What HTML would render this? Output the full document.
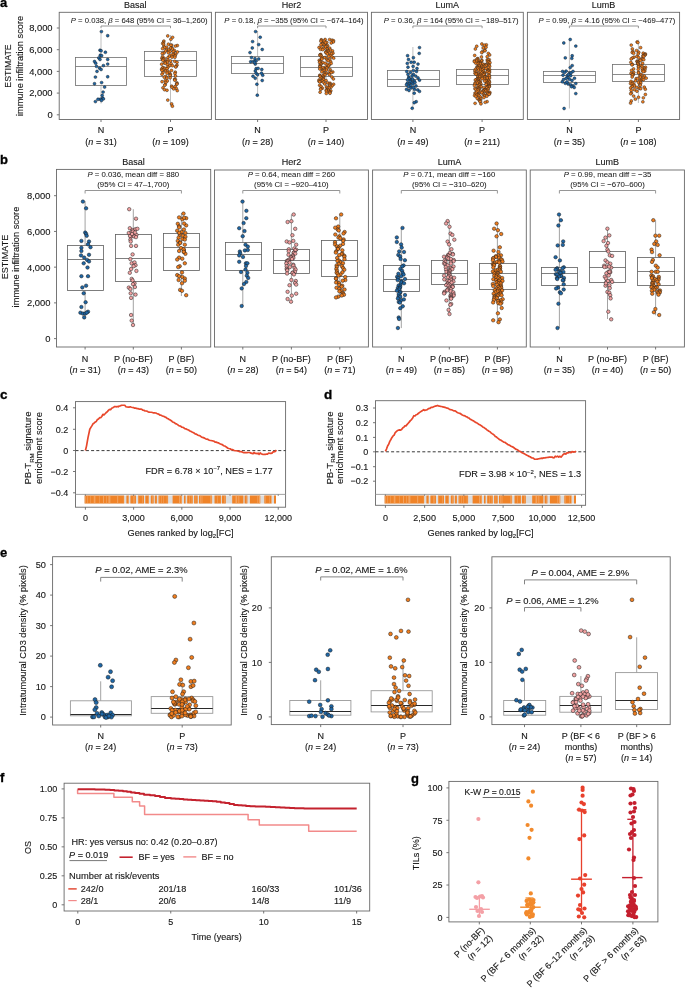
<!DOCTYPE html>
<html><head><meta charset="utf-8"><style>
html,body{margin:0;padding:0;background:#fff;width:685px;height:989px;overflow:hidden}
svg{display:block;will-change:transform}
text{font-family:"Liberation Sans", sans-serif}
</style></head><body>
<svg width="685" height="989" viewBox="0 0 685 989">
<rect width="685" height="989" fill="#fff"/>
<text x="0.00" y="7.48" font-size="13.00" text-anchor="start" fill="#000" stroke="#000" stroke-width="0.30" font-weight="bold" >a</text>
<text x="0.00" y="163.68" font-size="13.00" text-anchor="start" fill="#000" stroke="#000" stroke-width="0.30" font-weight="bold" >b</text>
<text x="0.00" y="398.96" font-size="13.50" text-anchor="start" fill="#000" stroke="#000" stroke-width="0.30" font-weight="bold" >c</text>
<text x="324.00" y="398.56" font-size="13.50" text-anchor="start" fill="#000" stroke="#000" stroke-width="0.30" font-weight="bold" >d</text>
<text x="0.00" y="557.08" font-size="13.00" text-anchor="start" fill="#000" stroke="#000" stroke-width="0.30" font-weight="bold" >e</text>
<text x="0.00" y="782.28" font-size="13.00" text-anchor="start" fill="#000" stroke="#000" stroke-width="0.30" font-weight="bold" >f</text>
<text x="411.00" y="783.08" font-size="13.00" text-anchor="start" fill="#000" stroke="#000" stroke-width="0.30" font-weight="bold" >g</text>
<rect x="59.20" y="12.30" width="152.20" height="107.20" stroke="#686868" stroke-width="0.90" fill="none"/>
<text x="135.30" y="7.84" font-size="9.00" text-anchor="middle" fill="#161616" stroke="#161616" stroke-width="0.12" >Basal</text>
<text x="139.20" y="22.57" font-size="7.70" text-anchor="middle" fill="#161616" stroke="#161616" stroke-width="0.04" ><tspan font-style="italic">P</tspan> = 0.038, <tspan font-style="italic">β</tspan> = 648 (95% CI = 36–1,260)</text>
<polyline fill="none" stroke="#8a8a8a" stroke-width="0.90" stroke-linejoin="round" points="101.00,28.20 101.00,26.00 170.50,26.00 170.50,28.20" />
<line x1="101.00" y1="31.50" x2="101.00" y2="57.50" stroke="#b8b8b8" stroke-width="0.90" />
<line x1="101.00" y1="85.50" x2="101.00" y2="103.50" stroke="#b8b8b8" stroke-width="0.90" />
<rect x="75.50" y="57.50" width="51.00" height="28.00" stroke="#6e6e6e" stroke-width="0.80" fill="none"/>
<line x1="75.50" y1="66.50" x2="126.50" y2="66.50" stroke="#6e6e6e" stroke-width="0.80" />
<line x1="170.50" y1="35.00" x2="170.50" y2="51.50" stroke="#b8b8b8" stroke-width="0.90" />
<line x1="170.50" y1="76.50" x2="170.50" y2="106.00" stroke="#b8b8b8" stroke-width="0.90" />
<rect x="144.50" y="51.50" width="52.00" height="25.00" stroke="#6e6e6e" stroke-width="0.80" fill="none"/>
<line x1="144.50" y1="60.50" x2="196.50" y2="60.50" stroke="#6e6e6e" stroke-width="0.80" />
<circle cx="101.40" cy="31.60" r="1.45" fill="#1f67a6" stroke="#1a1a1a" stroke-width="0.45"/>
<circle cx="107.70" cy="35.70" r="1.45" fill="#1f67a6" stroke="#1a1a1a" stroke-width="0.45"/>
<circle cx="100.00" cy="50.30" r="1.45" fill="#1f67a6" stroke="#1a1a1a" stroke-width="0.45"/>
<circle cx="101.10" cy="50.80" r="1.45" fill="#1f67a6" stroke="#1a1a1a" stroke-width="0.45"/>
<circle cx="105.40" cy="52.30" r="1.45" fill="#1f67a6" stroke="#1a1a1a" stroke-width="0.45"/>
<circle cx="100.30" cy="55.30" r="1.45" fill="#1f67a6" stroke="#1a1a1a" stroke-width="0.45"/>
<circle cx="101.60" cy="55.70" r="1.45" fill="#1f67a6" stroke="#1a1a1a" stroke-width="0.45"/>
<circle cx="98.80" cy="58.00" r="1.45" fill="#1f67a6" stroke="#1a1a1a" stroke-width="0.45"/>
<circle cx="100.00" cy="59.50" r="1.45" fill="#1f67a6" stroke="#1a1a1a" stroke-width="0.45"/>
<circle cx="107.70" cy="59.50" r="1.45" fill="#1f67a6" stroke="#1a1a1a" stroke-width="0.45"/>
<circle cx="94.50" cy="61.50" r="1.45" fill="#1f67a6" stroke="#1a1a1a" stroke-width="0.45"/>
<circle cx="95.70" cy="63.30" r="1.45" fill="#1f67a6" stroke="#1a1a1a" stroke-width="0.45"/>
<circle cx="107.70" cy="64.10" r="1.45" fill="#1f67a6" stroke="#1a1a1a" stroke-width="0.45"/>
<circle cx="103.40" cy="65.60" r="1.45" fill="#1f67a6" stroke="#1a1a1a" stroke-width="0.45"/>
<circle cx="96.50" cy="66.40" r="1.45" fill="#1f67a6" stroke="#1a1a1a" stroke-width="0.45"/>
<circle cx="99.60" cy="68.20" r="1.45" fill="#1f67a6" stroke="#1a1a1a" stroke-width="0.45"/>
<circle cx="101.10" cy="69.50" r="1.45" fill="#1f67a6" stroke="#1a1a1a" stroke-width="0.45"/>
<circle cx="97.00" cy="71.40" r="1.45" fill="#1f67a6" stroke="#1a1a1a" stroke-width="0.45"/>
<circle cx="95.40" cy="77.10" r="1.45" fill="#1f67a6" stroke="#1a1a1a" stroke-width="0.45"/>
<circle cx="107.70" cy="76.80" r="1.45" fill="#1f67a6" stroke="#1a1a1a" stroke-width="0.45"/>
<circle cx="94.50" cy="83.70" r="1.45" fill="#1f67a6" stroke="#1a1a1a" stroke-width="0.45"/>
<circle cx="101.60" cy="82.60" r="1.45" fill="#1f67a6" stroke="#1a1a1a" stroke-width="0.45"/>
<circle cx="104.60" cy="87.10" r="1.45" fill="#1f67a6" stroke="#1a1a1a" stroke-width="0.45"/>
<circle cx="103.10" cy="92.10" r="1.45" fill="#1f67a6" stroke="#1a1a1a" stroke-width="0.45"/>
<circle cx="102.20" cy="95.50" r="1.45" fill="#1f67a6" stroke="#1a1a1a" stroke-width="0.45"/>
<circle cx="102.60" cy="98.30" r="1.45" fill="#1f67a6" stroke="#1a1a1a" stroke-width="0.45"/>
<circle cx="100.30" cy="99.30" r="1.45" fill="#1f67a6" stroke="#1a1a1a" stroke-width="0.45"/>
<circle cx="98.00" cy="99.30" r="1.45" fill="#1f67a6" stroke="#1a1a1a" stroke-width="0.45"/>
<circle cx="103.40" cy="98.90" r="1.45" fill="#1f67a6" stroke="#1a1a1a" stroke-width="0.45"/>
<circle cx="95.40" cy="101.60" r="1.45" fill="#1f67a6" stroke="#1a1a1a" stroke-width="0.45"/>
<circle cx="101.50" cy="100.50" r="1.45" fill="#1f67a6" stroke="#1a1a1a" stroke-width="0.45"/>
<circle cx="167.80" cy="100.10" r="1.45" fill="#ef7d1e" stroke="#1a1a1a" stroke-width="0.45"/>
<circle cx="171.60" cy="103.90" r="1.45" fill="#ef7d1e" stroke="#1a1a1a" stroke-width="0.45"/>
<circle cx="172.40" cy="106.20" r="1.45" fill="#ef7d1e" stroke="#1a1a1a" stroke-width="0.45"/>
<circle cx="167.76" cy="35.93" r="1.45" fill="#ef7d1e" stroke="#1a1a1a" stroke-width="0.45"/>
<circle cx="172.57" cy="37.35" r="1.45" fill="#ef7d1e" stroke="#1a1a1a" stroke-width="0.45"/>
<circle cx="170.88" cy="39.34" r="1.45" fill="#ef7d1e" stroke="#1a1a1a" stroke-width="0.45"/>
<circle cx="163.85" cy="41.10" r="1.45" fill="#ef7d1e" stroke="#1a1a1a" stroke-width="0.45"/>
<circle cx="163.55" cy="42.53" r="1.45" fill="#ef7d1e" stroke="#1a1a1a" stroke-width="0.45"/>
<circle cx="162.72" cy="43.44" r="1.45" fill="#ef7d1e" stroke="#1a1a1a" stroke-width="0.45"/>
<circle cx="168.43" cy="44.18" r="1.45" fill="#ef7d1e" stroke="#1a1a1a" stroke-width="0.45"/>
<circle cx="163.59" cy="44.35" r="1.45" fill="#ef7d1e" stroke="#1a1a1a" stroke-width="0.45"/>
<circle cx="171.70" cy="45.09" r="1.45" fill="#ef7d1e" stroke="#1a1a1a" stroke-width="0.45"/>
<circle cx="170.89" cy="45.29" r="1.45" fill="#ef7d1e" stroke="#1a1a1a" stroke-width="0.45"/>
<circle cx="177.32" cy="45.57" r="1.45" fill="#ef7d1e" stroke="#1a1a1a" stroke-width="0.45"/>
<circle cx="175.42" cy="46.10" r="1.45" fill="#ef7d1e" stroke="#1a1a1a" stroke-width="0.45"/>
<circle cx="163.92" cy="46.46" r="1.45" fill="#ef7d1e" stroke="#1a1a1a" stroke-width="0.45"/>
<circle cx="166.57" cy="47.19" r="1.45" fill="#ef7d1e" stroke="#1a1a1a" stroke-width="0.45"/>
<circle cx="164.51" cy="47.51" r="1.45" fill="#ef7d1e" stroke="#1a1a1a" stroke-width="0.45"/>
<circle cx="171.89" cy="47.85" r="1.45" fill="#ef7d1e" stroke="#1a1a1a" stroke-width="0.45"/>
<circle cx="170.42" cy="48.15" r="1.45" fill="#ef7d1e" stroke="#1a1a1a" stroke-width="0.45"/>
<circle cx="162.56" cy="48.64" r="1.45" fill="#ef7d1e" stroke="#1a1a1a" stroke-width="0.45"/>
<circle cx="172.55" cy="49.16" r="1.45" fill="#ef7d1e" stroke="#1a1a1a" stroke-width="0.45"/>
<circle cx="166.66" cy="49.66" r="1.45" fill="#ef7d1e" stroke="#1a1a1a" stroke-width="0.45"/>
<circle cx="168.90" cy="49.97" r="1.45" fill="#ef7d1e" stroke="#1a1a1a" stroke-width="0.45"/>
<circle cx="174.39" cy="50.57" r="1.45" fill="#ef7d1e" stroke="#1a1a1a" stroke-width="0.45"/>
<circle cx="165.53" cy="50.95" r="1.45" fill="#ef7d1e" stroke="#1a1a1a" stroke-width="0.45"/>
<circle cx="170.06" cy="51.50" r="1.45" fill="#ef7d1e" stroke="#1a1a1a" stroke-width="0.45"/>
<circle cx="173.34" cy="51.68" r="1.45" fill="#ef7d1e" stroke="#1a1a1a" stroke-width="0.45"/>
<circle cx="177.38" cy="52.04" r="1.45" fill="#ef7d1e" stroke="#1a1a1a" stroke-width="0.45"/>
<circle cx="168.33" cy="52.74" r="1.45" fill="#ef7d1e" stroke="#1a1a1a" stroke-width="0.45"/>
<circle cx="164.05" cy="53.06" r="1.45" fill="#ef7d1e" stroke="#1a1a1a" stroke-width="0.45"/>
<circle cx="162.23" cy="53.56" r="1.45" fill="#ef7d1e" stroke="#1a1a1a" stroke-width="0.45"/>
<circle cx="173.91" cy="53.95" r="1.45" fill="#ef7d1e" stroke="#1a1a1a" stroke-width="0.45"/>
<circle cx="175.70" cy="54.27" r="1.45" fill="#ef7d1e" stroke="#1a1a1a" stroke-width="0.45"/>
<circle cx="172.79" cy="54.82" r="1.45" fill="#ef7d1e" stroke="#1a1a1a" stroke-width="0.45"/>
<circle cx="170.94" cy="55.19" r="1.45" fill="#ef7d1e" stroke="#1a1a1a" stroke-width="0.45"/>
<circle cx="175.12" cy="55.83" r="1.45" fill="#ef7d1e" stroke="#1a1a1a" stroke-width="0.45"/>
<circle cx="169.23" cy="56.14" r="1.45" fill="#ef7d1e" stroke="#1a1a1a" stroke-width="0.45"/>
<circle cx="162.58" cy="56.58" r="1.45" fill="#ef7d1e" stroke="#1a1a1a" stroke-width="0.45"/>
<circle cx="172.02" cy="57.14" r="1.45" fill="#ef7d1e" stroke="#1a1a1a" stroke-width="0.45"/>
<circle cx="174.83" cy="57.26" r="1.45" fill="#ef7d1e" stroke="#1a1a1a" stroke-width="0.45"/>
<circle cx="167.81" cy="57.86" r="1.45" fill="#ef7d1e" stroke="#1a1a1a" stroke-width="0.45"/>
<circle cx="161.96" cy="58.20" r="1.45" fill="#ef7d1e" stroke="#1a1a1a" stroke-width="0.45"/>
<circle cx="164.31" cy="58.48" r="1.45" fill="#ef7d1e" stroke="#1a1a1a" stroke-width="0.45"/>
<circle cx="162.55" cy="59.19" r="1.45" fill="#ef7d1e" stroke="#1a1a1a" stroke-width="0.45"/>
<circle cx="163.68" cy="59.39" r="1.45" fill="#ef7d1e" stroke="#1a1a1a" stroke-width="0.45"/>
<circle cx="167.89" cy="60.09" r="1.45" fill="#ef7d1e" stroke="#1a1a1a" stroke-width="0.45"/>
<circle cx="162.90" cy="60.34" r="1.45" fill="#ef7d1e" stroke="#1a1a1a" stroke-width="0.45"/>
<circle cx="170.45" cy="60.95" r="1.45" fill="#ef7d1e" stroke="#1a1a1a" stroke-width="0.45"/>
<circle cx="174.79" cy="61.37" r="1.45" fill="#ef7d1e" stroke="#1a1a1a" stroke-width="0.45"/>
<circle cx="166.08" cy="61.61" r="1.45" fill="#ef7d1e" stroke="#1a1a1a" stroke-width="0.45"/>
<circle cx="167.38" cy="62.24" r="1.45" fill="#ef7d1e" stroke="#1a1a1a" stroke-width="0.45"/>
<circle cx="177.02" cy="62.36" r="1.45" fill="#ef7d1e" stroke="#1a1a1a" stroke-width="0.45"/>
<circle cx="164.44" cy="62.82" r="1.45" fill="#ef7d1e" stroke="#1a1a1a" stroke-width="0.45"/>
<circle cx="165.36" cy="63.36" r="1.45" fill="#ef7d1e" stroke="#1a1a1a" stroke-width="0.45"/>
<circle cx="171.08" cy="63.69" r="1.45" fill="#ef7d1e" stroke="#1a1a1a" stroke-width="0.45"/>
<circle cx="161.67" cy="64.19" r="1.45" fill="#ef7d1e" stroke="#1a1a1a" stroke-width="0.45"/>
<circle cx="167.54" cy="64.68" r="1.45" fill="#ef7d1e" stroke="#1a1a1a" stroke-width="0.45"/>
<circle cx="176.94" cy="65.16" r="1.45" fill="#ef7d1e" stroke="#1a1a1a" stroke-width="0.45"/>
<circle cx="169.90" cy="65.56" r="1.45" fill="#ef7d1e" stroke="#1a1a1a" stroke-width="0.45"/>
<circle cx="172.49" cy="65.75" r="1.45" fill="#ef7d1e" stroke="#1a1a1a" stroke-width="0.45"/>
<circle cx="176.08" cy="66.49" r="1.45" fill="#ef7d1e" stroke="#1a1a1a" stroke-width="0.45"/>
<circle cx="175.68" cy="66.93" r="1.45" fill="#ef7d1e" stroke="#1a1a1a" stroke-width="0.45"/>
<circle cx="167.92" cy="67.18" r="1.45" fill="#ef7d1e" stroke="#1a1a1a" stroke-width="0.45"/>
<circle cx="163.27" cy="67.71" r="1.45" fill="#ef7d1e" stroke="#1a1a1a" stroke-width="0.45"/>
<circle cx="162.60" cy="67.90" r="1.45" fill="#ef7d1e" stroke="#1a1a1a" stroke-width="0.45"/>
<circle cx="164.96" cy="68.37" r="1.45" fill="#ef7d1e" stroke="#1a1a1a" stroke-width="0.45"/>
<circle cx="167.07" cy="68.75" r="1.45" fill="#ef7d1e" stroke="#1a1a1a" stroke-width="0.45"/>
<circle cx="161.60" cy="69.22" r="1.45" fill="#ef7d1e" stroke="#1a1a1a" stroke-width="0.45"/>
<circle cx="163.23" cy="69.75" r="1.45" fill="#ef7d1e" stroke="#1a1a1a" stroke-width="0.45"/>
<circle cx="162.01" cy="70.39" r="1.45" fill="#ef7d1e" stroke="#1a1a1a" stroke-width="0.45"/>
<circle cx="171.49" cy="70.51" r="1.45" fill="#ef7d1e" stroke="#1a1a1a" stroke-width="0.45"/>
<circle cx="165.66" cy="71.03" r="1.45" fill="#ef7d1e" stroke="#1a1a1a" stroke-width="0.45"/>
<circle cx="167.46" cy="71.36" r="1.45" fill="#ef7d1e" stroke="#1a1a1a" stroke-width="0.45"/>
<circle cx="175.27" cy="72.16" r="1.45" fill="#ef7d1e" stroke="#1a1a1a" stroke-width="0.45"/>
<circle cx="169.10" cy="72.37" r="1.45" fill="#ef7d1e" stroke="#1a1a1a" stroke-width="0.45"/>
<circle cx="162.98" cy="72.64" r="1.45" fill="#ef7d1e" stroke="#1a1a1a" stroke-width="0.45"/>
<circle cx="167.12" cy="73.14" r="1.45" fill="#ef7d1e" stroke="#1a1a1a" stroke-width="0.45"/>
<circle cx="174.94" cy="73.52" r="1.45" fill="#ef7d1e" stroke="#1a1a1a" stroke-width="0.45"/>
<circle cx="161.97" cy="74.29" r="1.45" fill="#ef7d1e" stroke="#1a1a1a" stroke-width="0.45"/>
<circle cx="170.10" cy="74.37" r="1.45" fill="#ef7d1e" stroke="#1a1a1a" stroke-width="0.45"/>
<circle cx="170.35" cy="74.75" r="1.45" fill="#ef7d1e" stroke="#1a1a1a" stroke-width="0.45"/>
<circle cx="170.10" cy="75.59" r="1.45" fill="#ef7d1e" stroke="#1a1a1a" stroke-width="0.45"/>
<circle cx="175.50" cy="76.01" r="1.45" fill="#ef7d1e" stroke="#1a1a1a" stroke-width="0.45"/>
<circle cx="165.80" cy="76.41" r="1.45" fill="#ef7d1e" stroke="#1a1a1a" stroke-width="0.45"/>
<circle cx="164.29" cy="77.24" r="1.45" fill="#ef7d1e" stroke="#1a1a1a" stroke-width="0.45"/>
<circle cx="170.17" cy="77.84" r="1.45" fill="#ef7d1e" stroke="#1a1a1a" stroke-width="0.45"/>
<circle cx="166.91" cy="78.10" r="1.45" fill="#ef7d1e" stroke="#1a1a1a" stroke-width="0.45"/>
<circle cx="174.67" cy="79.14" r="1.45" fill="#ef7d1e" stroke="#1a1a1a" stroke-width="0.45"/>
<circle cx="175.33" cy="79.63" r="1.45" fill="#ef7d1e" stroke="#1a1a1a" stroke-width="0.45"/>
<circle cx="174.78" cy="80.18" r="1.45" fill="#ef7d1e" stroke="#1a1a1a" stroke-width="0.45"/>
<circle cx="165.25" cy="80.65" r="1.45" fill="#ef7d1e" stroke="#1a1a1a" stroke-width="0.45"/>
<circle cx="167.32" cy="80.95" r="1.45" fill="#ef7d1e" stroke="#1a1a1a" stroke-width="0.45"/>
<circle cx="162.05" cy="81.69" r="1.45" fill="#ef7d1e" stroke="#1a1a1a" stroke-width="0.45"/>
<circle cx="165.77" cy="82.53" r="1.45" fill="#ef7d1e" stroke="#1a1a1a" stroke-width="0.45"/>
<circle cx="177.00" cy="82.97" r="1.45" fill="#ef7d1e" stroke="#1a1a1a" stroke-width="0.45"/>
<circle cx="176.69" cy="83.89" r="1.45" fill="#ef7d1e" stroke="#1a1a1a" stroke-width="0.45"/>
<circle cx="176.98" cy="84.11" r="1.45" fill="#ef7d1e" stroke="#1a1a1a" stroke-width="0.45"/>
<circle cx="165.15" cy="84.62" r="1.45" fill="#ef7d1e" stroke="#1a1a1a" stroke-width="0.45"/>
<circle cx="164.77" cy="85.20" r="1.45" fill="#ef7d1e" stroke="#1a1a1a" stroke-width="0.45"/>
<circle cx="171.65" cy="86.20" r="1.45" fill="#ef7d1e" stroke="#1a1a1a" stroke-width="0.45"/>
<circle cx="175.13" cy="86.55" r="1.45" fill="#ef7d1e" stroke="#1a1a1a" stroke-width="0.45"/>
<circle cx="172.11" cy="87.33" r="1.45" fill="#ef7d1e" stroke="#1a1a1a" stroke-width="0.45"/>
<circle cx="162.96" cy="87.84" r="1.45" fill="#ef7d1e" stroke="#1a1a1a" stroke-width="0.45"/>
<circle cx="176.25" cy="88.50" r="1.45" fill="#ef7d1e" stroke="#1a1a1a" stroke-width="0.45"/>
<circle cx="173.68" cy="88.91" r="1.45" fill="#ef7d1e" stroke="#1a1a1a" stroke-width="0.45"/>
<circle cx="164.47" cy="89.69" r="1.45" fill="#ef7d1e" stroke="#1a1a1a" stroke-width="0.45"/>
<circle cx="166.95" cy="90.29" r="1.45" fill="#ef7d1e" stroke="#1a1a1a" stroke-width="0.45"/>
<circle cx="177.24" cy="90.64" r="1.45" fill="#ef7d1e" stroke="#1a1a1a" stroke-width="0.45"/>
<line x1="101.00" y1="119.50" x2="101.00" y2="122.00" stroke="#686868" stroke-width="0.90" />
<line x1="170.50" y1="119.50" x2="170.50" y2="122.00" stroke="#686868" stroke-width="0.90" />
<text x="101.00" y="132.84" font-size="9.00" text-anchor="middle" fill="#161616" stroke="#161616" stroke-width="0.12" >N</text>
<text x="170.50" y="132.84" font-size="9.00" text-anchor="middle" fill="#161616" stroke="#161616" stroke-width="0.12" >P</text>
<text x="101.00" y="145.24" font-size="9.00" text-anchor="middle" fill="#161616" stroke="#161616" stroke-width="0.12" >(<tspan font-style="italic">n</tspan> = 31)</text>
<text x="170.50" y="145.24" font-size="9.00" text-anchor="middle" fill="#161616" stroke="#161616" stroke-width="0.12" >(<tspan font-style="italic">n</tspan> = 109)</text>
<rect x="215.40" y="12.30" width="152.10" height="107.20" stroke="#686868" stroke-width="0.90" fill="none"/>
<text x="291.45" y="7.84" font-size="9.00" text-anchor="middle" fill="#161616" stroke="#161616" stroke-width="0.12" >Her2</text>
<text x="294.00" y="22.57" font-size="7.70" text-anchor="middle" fill="#161616" stroke="#161616" stroke-width="0.04" ><tspan font-style="italic">P</tspan> = 0.18, <tspan font-style="italic">β</tspan> = −355 (95% CI = −674–164)</text>
<polyline fill="none" stroke="#8a8a8a" stroke-width="0.90" stroke-linejoin="round" points="257.60,28.20 257.60,26.00 326.00,26.00 326.00,28.20" />
<line x1="257.60" y1="31.00" x2="257.60" y2="56.50" stroke="#b8b8b8" stroke-width="0.90" />
<line x1="257.60" y1="73.50" x2="257.60" y2="94.80" stroke="#b8b8b8" stroke-width="0.90" />
<rect x="231.50" y="56.50" width="52.00" height="17.00" stroke="#6e6e6e" stroke-width="0.80" fill="none"/>
<line x1="231.50" y1="63.50" x2="283.50" y2="63.50" stroke="#6e6e6e" stroke-width="0.80" />
<line x1="326.00" y1="39.00" x2="326.00" y2="56.50" stroke="#b8b8b8" stroke-width="0.90" />
<line x1="326.00" y1="76.50" x2="326.00" y2="94.30" stroke="#b8b8b8" stroke-width="0.90" />
<rect x="300.50" y="56.50" width="52.00" height="20.00" stroke="#6e6e6e" stroke-width="0.80" fill="none"/>
<line x1="300.50" y1="67.50" x2="352.50" y2="67.50" stroke="#6e6e6e" stroke-width="0.80" />
<circle cx="255.60" cy="31.60" r="1.45" fill="#1f67a6" stroke="#1a1a1a" stroke-width="0.45"/>
<circle cx="260.20" cy="37.30" r="1.45" fill="#1f67a6" stroke="#1a1a1a" stroke-width="0.45"/>
<circle cx="252.60" cy="41.60" r="1.45" fill="#1f67a6" stroke="#1a1a1a" stroke-width="0.45"/>
<circle cx="258.70" cy="44.60" r="1.45" fill="#1f67a6" stroke="#1a1a1a" stroke-width="0.45"/>
<circle cx="252.30" cy="48.00" r="1.45" fill="#1f67a6" stroke="#1a1a1a" stroke-width="0.45"/>
<circle cx="262.20" cy="49.50" r="1.45" fill="#1f67a6" stroke="#1a1a1a" stroke-width="0.45"/>
<circle cx="250.00" cy="52.60" r="1.45" fill="#1f67a6" stroke="#1a1a1a" stroke-width="0.45"/>
<circle cx="251.50" cy="57.60" r="1.45" fill="#1f67a6" stroke="#1a1a1a" stroke-width="0.45"/>
<circle cx="255.00" cy="58.70" r="1.45" fill="#1f67a6" stroke="#1a1a1a" stroke-width="0.45"/>
<circle cx="258.70" cy="59.00" r="1.45" fill="#1f67a6" stroke="#1a1a1a" stroke-width="0.45"/>
<circle cx="250.70" cy="61.80" r="1.45" fill="#1f67a6" stroke="#1a1a1a" stroke-width="0.45"/>
<circle cx="253.50" cy="61.50" r="1.45" fill="#1f67a6" stroke="#1a1a1a" stroke-width="0.45"/>
<circle cx="256.10" cy="61.00" r="1.45" fill="#1f67a6" stroke="#1a1a1a" stroke-width="0.45"/>
<circle cx="255.30" cy="64.10" r="1.45" fill="#1f67a6" stroke="#1a1a1a" stroke-width="0.45"/>
<circle cx="256.10" cy="68.70" r="1.45" fill="#1f67a6" stroke="#1a1a1a" stroke-width="0.45"/>
<circle cx="258.10" cy="68.40" r="1.45" fill="#1f67a6" stroke="#1a1a1a" stroke-width="0.45"/>
<circle cx="261.80" cy="69.50" r="1.45" fill="#1f67a6" stroke="#1a1a1a" stroke-width="0.45"/>
<circle cx="255.30" cy="71.00" r="1.45" fill="#1f67a6" stroke="#1a1a1a" stroke-width="0.45"/>
<circle cx="256.10" cy="73.30" r="1.45" fill="#1f67a6" stroke="#1a1a1a" stroke-width="0.45"/>
<circle cx="261.50" cy="73.30" r="1.45" fill="#1f67a6" stroke="#1a1a1a" stroke-width="0.45"/>
<circle cx="257.60" cy="74.80" r="1.45" fill="#1f67a6" stroke="#1a1a1a" stroke-width="0.45"/>
<circle cx="262.70" cy="75.30" r="1.45" fill="#1f67a6" stroke="#1a1a1a" stroke-width="0.45"/>
<circle cx="253.00" cy="76.30" r="1.45" fill="#1f67a6" stroke="#1a1a1a" stroke-width="0.45"/>
<circle cx="255.30" cy="78.30" r="1.45" fill="#1f67a6" stroke="#1a1a1a" stroke-width="0.45"/>
<circle cx="262.20" cy="80.50" r="1.45" fill="#1f67a6" stroke="#1a1a1a" stroke-width="0.45"/>
<circle cx="256.90" cy="84.30" r="1.45" fill="#1f67a6" stroke="#1a1a1a" stroke-width="0.45"/>
<circle cx="257.30" cy="95.20" r="1.45" fill="#1f67a6" stroke="#1a1a1a" stroke-width="0.45"/>
<circle cx="254.50" cy="62.50" r="1.45" fill="#1f67a6" stroke="#1a1a1a" stroke-width="0.45"/>
<circle cx="325.12" cy="39.53" r="1.45" fill="#ef7d1e" stroke="#1a1a1a" stroke-width="0.45"/>
<circle cx="329.65" cy="39.58" r="1.45" fill="#ef7d1e" stroke="#1a1a1a" stroke-width="0.45"/>
<circle cx="321.28" cy="39.82" r="1.45" fill="#ef7d1e" stroke="#1a1a1a" stroke-width="0.45"/>
<circle cx="332.17" cy="40.21" r="1.45" fill="#ef7d1e" stroke="#1a1a1a" stroke-width="0.45"/>
<circle cx="321.55" cy="40.46" r="1.45" fill="#ef7d1e" stroke="#1a1a1a" stroke-width="0.45"/>
<circle cx="333.51" cy="40.76" r="1.45" fill="#ef7d1e" stroke="#1a1a1a" stroke-width="0.45"/>
<circle cx="324.19" cy="41.11" r="1.45" fill="#ef7d1e" stroke="#1a1a1a" stroke-width="0.45"/>
<circle cx="320.94" cy="41.29" r="1.45" fill="#ef7d1e" stroke="#1a1a1a" stroke-width="0.45"/>
<circle cx="333.37" cy="41.94" r="1.45" fill="#ef7d1e" stroke="#1a1a1a" stroke-width="0.45"/>
<circle cx="326.79" cy="42.44" r="1.45" fill="#ef7d1e" stroke="#1a1a1a" stroke-width="0.45"/>
<circle cx="325.42" cy="42.81" r="1.45" fill="#ef7d1e" stroke="#1a1a1a" stroke-width="0.45"/>
<circle cx="331.23" cy="42.95" r="1.45" fill="#ef7d1e" stroke="#1a1a1a" stroke-width="0.45"/>
<circle cx="322.73" cy="43.37" r="1.45" fill="#ef7d1e" stroke="#1a1a1a" stroke-width="0.45"/>
<circle cx="322.56" cy="43.88" r="1.45" fill="#ef7d1e" stroke="#1a1a1a" stroke-width="0.45"/>
<circle cx="322.84" cy="44.21" r="1.45" fill="#ef7d1e" stroke="#1a1a1a" stroke-width="0.45"/>
<circle cx="320.94" cy="44.80" r="1.45" fill="#ef7d1e" stroke="#1a1a1a" stroke-width="0.45"/>
<circle cx="324.24" cy="45.02" r="1.45" fill="#ef7d1e" stroke="#1a1a1a" stroke-width="0.45"/>
<circle cx="327.63" cy="45.59" r="1.45" fill="#ef7d1e" stroke="#1a1a1a" stroke-width="0.45"/>
<circle cx="325.23" cy="45.98" r="1.45" fill="#ef7d1e" stroke="#1a1a1a" stroke-width="0.45"/>
<circle cx="326.42" cy="46.23" r="1.45" fill="#ef7d1e" stroke="#1a1a1a" stroke-width="0.45"/>
<circle cx="326.75" cy="46.42" r="1.45" fill="#ef7d1e" stroke="#1a1a1a" stroke-width="0.45"/>
<circle cx="325.51" cy="46.88" r="1.45" fill="#ef7d1e" stroke="#1a1a1a" stroke-width="0.45"/>
<circle cx="319.06" cy="47.51" r="1.45" fill="#ef7d1e" stroke="#1a1a1a" stroke-width="0.45"/>
<circle cx="321.55" cy="47.78" r="1.45" fill="#ef7d1e" stroke="#1a1a1a" stroke-width="0.45"/>
<circle cx="329.73" cy="48.21" r="1.45" fill="#ef7d1e" stroke="#1a1a1a" stroke-width="0.45"/>
<circle cx="323.82" cy="48.59" r="1.45" fill="#ef7d1e" stroke="#1a1a1a" stroke-width="0.45"/>
<circle cx="327.22" cy="49.08" r="1.45" fill="#ef7d1e" stroke="#1a1a1a" stroke-width="0.45"/>
<circle cx="320.57" cy="49.39" r="1.45" fill="#ef7d1e" stroke="#1a1a1a" stroke-width="0.45"/>
<circle cx="322.68" cy="49.67" r="1.45" fill="#ef7d1e" stroke="#1a1a1a" stroke-width="0.45"/>
<circle cx="330.43" cy="50.16" r="1.45" fill="#ef7d1e" stroke="#1a1a1a" stroke-width="0.45"/>
<circle cx="327.31" cy="50.65" r="1.45" fill="#ef7d1e" stroke="#1a1a1a" stroke-width="0.45"/>
<circle cx="332.50" cy="50.92" r="1.45" fill="#ef7d1e" stroke="#1a1a1a" stroke-width="0.45"/>
<circle cx="328.07" cy="51.34" r="1.45" fill="#ef7d1e" stroke="#1a1a1a" stroke-width="0.45"/>
<circle cx="326.58" cy="51.81" r="1.45" fill="#ef7d1e" stroke="#1a1a1a" stroke-width="0.45"/>
<circle cx="325.69" cy="52.14" r="1.45" fill="#ef7d1e" stroke="#1a1a1a" stroke-width="0.45"/>
<circle cx="326.07" cy="52.69" r="1.45" fill="#ef7d1e" stroke="#1a1a1a" stroke-width="0.45"/>
<circle cx="329.35" cy="53.06" r="1.45" fill="#ef7d1e" stroke="#1a1a1a" stroke-width="0.45"/>
<circle cx="332.94" cy="53.21" r="1.45" fill="#ef7d1e" stroke="#1a1a1a" stroke-width="0.45"/>
<circle cx="327.28" cy="53.88" r="1.45" fill="#ef7d1e" stroke="#1a1a1a" stroke-width="0.45"/>
<circle cx="331.43" cy="53.95" r="1.45" fill="#ef7d1e" stroke="#1a1a1a" stroke-width="0.45"/>
<circle cx="320.80" cy="54.47" r="1.45" fill="#ef7d1e" stroke="#1a1a1a" stroke-width="0.45"/>
<circle cx="320.07" cy="54.78" r="1.45" fill="#ef7d1e" stroke="#1a1a1a" stroke-width="0.45"/>
<circle cx="320.08" cy="55.34" r="1.45" fill="#ef7d1e" stroke="#1a1a1a" stroke-width="0.45"/>
<circle cx="330.60" cy="55.83" r="1.45" fill="#ef7d1e" stroke="#1a1a1a" stroke-width="0.45"/>
<circle cx="321.29" cy="56.15" r="1.45" fill="#ef7d1e" stroke="#1a1a1a" stroke-width="0.45"/>
<circle cx="328.77" cy="56.32" r="1.45" fill="#ef7d1e" stroke="#1a1a1a" stroke-width="0.45"/>
<circle cx="332.07" cy="57.04" r="1.45" fill="#ef7d1e" stroke="#1a1a1a" stroke-width="0.45"/>
<circle cx="322.25" cy="57.43" r="1.45" fill="#ef7d1e" stroke="#1a1a1a" stroke-width="0.45"/>
<circle cx="324.89" cy="57.64" r="1.45" fill="#ef7d1e" stroke="#1a1a1a" stroke-width="0.45"/>
<circle cx="333.65" cy="58.17" r="1.45" fill="#ef7d1e" stroke="#1a1a1a" stroke-width="0.45"/>
<circle cx="321.39" cy="58.40" r="1.45" fill="#ef7d1e" stroke="#1a1a1a" stroke-width="0.45"/>
<circle cx="326.63" cy="58.76" r="1.45" fill="#ef7d1e" stroke="#1a1a1a" stroke-width="0.45"/>
<circle cx="321.90" cy="59.15" r="1.45" fill="#ef7d1e" stroke="#1a1a1a" stroke-width="0.45"/>
<circle cx="329.69" cy="59.42" r="1.45" fill="#ef7d1e" stroke="#1a1a1a" stroke-width="0.45"/>
<circle cx="327.20" cy="59.98" r="1.45" fill="#ef7d1e" stroke="#1a1a1a" stroke-width="0.45"/>
<circle cx="319.27" cy="60.33" r="1.45" fill="#ef7d1e" stroke="#1a1a1a" stroke-width="0.45"/>
<circle cx="328.23" cy="60.80" r="1.45" fill="#ef7d1e" stroke="#1a1a1a" stroke-width="0.45"/>
<circle cx="319.95" cy="61.38" r="1.45" fill="#ef7d1e" stroke="#1a1a1a" stroke-width="0.45"/>
<circle cx="330.67" cy="61.77" r="1.45" fill="#ef7d1e" stroke="#1a1a1a" stroke-width="0.45"/>
<circle cx="320.55" cy="61.88" r="1.45" fill="#ef7d1e" stroke="#1a1a1a" stroke-width="0.45"/>
<circle cx="319.59" cy="62.48" r="1.45" fill="#ef7d1e" stroke="#1a1a1a" stroke-width="0.45"/>
<circle cx="323.00" cy="62.62" r="1.45" fill="#ef7d1e" stroke="#1a1a1a" stroke-width="0.45"/>
<circle cx="325.25" cy="63.32" r="1.45" fill="#ef7d1e" stroke="#1a1a1a" stroke-width="0.45"/>
<circle cx="331.12" cy="63.46" r="1.45" fill="#ef7d1e" stroke="#1a1a1a" stroke-width="0.45"/>
<circle cx="321.21" cy="64.11" r="1.45" fill="#ef7d1e" stroke="#1a1a1a" stroke-width="0.45"/>
<circle cx="327.44" cy="64.42" r="1.45" fill="#ef7d1e" stroke="#1a1a1a" stroke-width="0.45"/>
<circle cx="320.32" cy="64.56" r="1.45" fill="#ef7d1e" stroke="#1a1a1a" stroke-width="0.45"/>
<circle cx="329.19" cy="65.10" r="1.45" fill="#ef7d1e" stroke="#1a1a1a" stroke-width="0.45"/>
<circle cx="320.07" cy="65.70" r="1.45" fill="#ef7d1e" stroke="#1a1a1a" stroke-width="0.45"/>
<circle cx="328.39" cy="66.04" r="1.45" fill="#ef7d1e" stroke="#1a1a1a" stroke-width="0.45"/>
<circle cx="320.24" cy="66.45" r="1.45" fill="#ef7d1e" stroke="#1a1a1a" stroke-width="0.45"/>
<circle cx="319.99" cy="66.85" r="1.45" fill="#ef7d1e" stroke="#1a1a1a" stroke-width="0.45"/>
<circle cx="325.72" cy="67.04" r="1.45" fill="#ef7d1e" stroke="#1a1a1a" stroke-width="0.45"/>
<circle cx="327.19" cy="67.66" r="1.45" fill="#ef7d1e" stroke="#1a1a1a" stroke-width="0.45"/>
<circle cx="322.96" cy="67.74" r="1.45" fill="#ef7d1e" stroke="#1a1a1a" stroke-width="0.45"/>
<circle cx="326.80" cy="68.18" r="1.45" fill="#ef7d1e" stroke="#1a1a1a" stroke-width="0.45"/>
<circle cx="320.62" cy="68.54" r="1.45" fill="#ef7d1e" stroke="#1a1a1a" stroke-width="0.45"/>
<circle cx="319.75" cy="68.95" r="1.45" fill="#ef7d1e" stroke="#1a1a1a" stroke-width="0.45"/>
<circle cx="323.62" cy="69.39" r="1.45" fill="#ef7d1e" stroke="#1a1a1a" stroke-width="0.45"/>
<circle cx="330.24" cy="69.78" r="1.45" fill="#ef7d1e" stroke="#1a1a1a" stroke-width="0.45"/>
<circle cx="326.40" cy="70.13" r="1.45" fill="#ef7d1e" stroke="#1a1a1a" stroke-width="0.45"/>
<circle cx="324.14" cy="70.46" r="1.45" fill="#ef7d1e" stroke="#1a1a1a" stroke-width="0.45"/>
<circle cx="322.71" cy="70.85" r="1.45" fill="#ef7d1e" stroke="#1a1a1a" stroke-width="0.45"/>
<circle cx="329.85" cy="71.45" r="1.45" fill="#ef7d1e" stroke="#1a1a1a" stroke-width="0.45"/>
<circle cx="321.80" cy="71.82" r="1.45" fill="#ef7d1e" stroke="#1a1a1a" stroke-width="0.45"/>
<circle cx="332.83" cy="72.07" r="1.45" fill="#ef7d1e" stroke="#1a1a1a" stroke-width="0.45"/>
<circle cx="331.12" cy="72.59" r="1.45" fill="#ef7d1e" stroke="#1a1a1a" stroke-width="0.45"/>
<circle cx="326.33" cy="73.14" r="1.45" fill="#ef7d1e" stroke="#1a1a1a" stroke-width="0.45"/>
<circle cx="324.82" cy="73.41" r="1.45" fill="#ef7d1e" stroke="#1a1a1a" stroke-width="0.45"/>
<circle cx="329.18" cy="73.99" r="1.45" fill="#ef7d1e" stroke="#1a1a1a" stroke-width="0.45"/>
<circle cx="324.07" cy="74.32" r="1.45" fill="#ef7d1e" stroke="#1a1a1a" stroke-width="0.45"/>
<circle cx="329.46" cy="74.64" r="1.45" fill="#ef7d1e" stroke="#1a1a1a" stroke-width="0.45"/>
<circle cx="324.99" cy="74.92" r="1.45" fill="#ef7d1e" stroke="#1a1a1a" stroke-width="0.45"/>
<circle cx="319.80" cy="75.23" r="1.45" fill="#ef7d1e" stroke="#1a1a1a" stroke-width="0.45"/>
<circle cx="320.05" cy="75.86" r="1.45" fill="#ef7d1e" stroke="#1a1a1a" stroke-width="0.45"/>
<circle cx="322.78" cy="76.03" r="1.45" fill="#ef7d1e" stroke="#1a1a1a" stroke-width="0.45"/>
<circle cx="320.25" cy="76.69" r="1.45" fill="#ef7d1e" stroke="#1a1a1a" stroke-width="0.45"/>
<circle cx="331.88" cy="77.02" r="1.45" fill="#ef7d1e" stroke="#1a1a1a" stroke-width="0.45"/>
<circle cx="323.17" cy="77.24" r="1.45" fill="#ef7d1e" stroke="#1a1a1a" stroke-width="0.45"/>
<circle cx="323.34" cy="77.72" r="1.45" fill="#ef7d1e" stroke="#1a1a1a" stroke-width="0.45"/>
<circle cx="321.33" cy="78.11" r="1.45" fill="#ef7d1e" stroke="#1a1a1a" stroke-width="0.45"/>
<circle cx="322.90" cy="78.71" r="1.45" fill="#ef7d1e" stroke="#1a1a1a" stroke-width="0.45"/>
<circle cx="333.39" cy="78.94" r="1.45" fill="#ef7d1e" stroke="#1a1a1a" stroke-width="0.45"/>
<circle cx="322.62" cy="79.50" r="1.45" fill="#ef7d1e" stroke="#1a1a1a" stroke-width="0.45"/>
<circle cx="323.58" cy="79.65" r="1.45" fill="#ef7d1e" stroke="#1a1a1a" stroke-width="0.45"/>
<circle cx="319.02" cy="80.06" r="1.45" fill="#ef7d1e" stroke="#1a1a1a" stroke-width="0.45"/>
<circle cx="326.02" cy="80.50" r="1.45" fill="#ef7d1e" stroke="#1a1a1a" stroke-width="0.45"/>
<circle cx="321.97" cy="80.89" r="1.45" fill="#ef7d1e" stroke="#1a1a1a" stroke-width="0.45"/>
<circle cx="319.07" cy="81.19" r="1.45" fill="#ef7d1e" stroke="#1a1a1a" stroke-width="0.45"/>
<circle cx="320.33" cy="81.64" r="1.45" fill="#ef7d1e" stroke="#1a1a1a" stroke-width="0.45"/>
<circle cx="319.62" cy="81.89" r="1.45" fill="#ef7d1e" stroke="#1a1a1a" stroke-width="0.45"/>
<circle cx="323.50" cy="82.36" r="1.45" fill="#ef7d1e" stroke="#1a1a1a" stroke-width="0.45"/>
<circle cx="327.67" cy="82.87" r="1.45" fill="#ef7d1e" stroke="#1a1a1a" stroke-width="0.45"/>
<circle cx="330.11" cy="83.32" r="1.45" fill="#ef7d1e" stroke="#1a1a1a" stroke-width="0.45"/>
<circle cx="329.60" cy="83.80" r="1.45" fill="#ef7d1e" stroke="#1a1a1a" stroke-width="0.45"/>
<circle cx="324.76" cy="83.98" r="1.45" fill="#ef7d1e" stroke="#1a1a1a" stroke-width="0.45"/>
<circle cx="333.57" cy="84.30" r="1.45" fill="#ef7d1e" stroke="#1a1a1a" stroke-width="0.45"/>
<circle cx="329.72" cy="84.89" r="1.45" fill="#ef7d1e" stroke="#1a1a1a" stroke-width="0.45"/>
<circle cx="319.65" cy="85.36" r="1.45" fill="#ef7d1e" stroke="#1a1a1a" stroke-width="0.45"/>
<circle cx="332.20" cy="85.67" r="1.45" fill="#ef7d1e" stroke="#1a1a1a" stroke-width="0.45"/>
<circle cx="329.86" cy="86.14" r="1.45" fill="#ef7d1e" stroke="#1a1a1a" stroke-width="0.45"/>
<circle cx="321.06" cy="86.42" r="1.45" fill="#ef7d1e" stroke="#1a1a1a" stroke-width="0.45"/>
<circle cx="326.46" cy="86.94" r="1.45" fill="#ef7d1e" stroke="#1a1a1a" stroke-width="0.45"/>
<circle cx="330.91" cy="87.33" r="1.45" fill="#ef7d1e" stroke="#1a1a1a" stroke-width="0.45"/>
<circle cx="327.64" cy="87.75" r="1.45" fill="#ef7d1e" stroke="#1a1a1a" stroke-width="0.45"/>
<circle cx="329.11" cy="88.06" r="1.45" fill="#ef7d1e" stroke="#1a1a1a" stroke-width="0.45"/>
<circle cx="322.40" cy="88.20" r="1.45" fill="#ef7d1e" stroke="#1a1a1a" stroke-width="0.45"/>
<circle cx="320.97" cy="88.72" r="1.45" fill="#ef7d1e" stroke="#1a1a1a" stroke-width="0.45"/>
<circle cx="320.55" cy="89.30" r="1.45" fill="#ef7d1e" stroke="#1a1a1a" stroke-width="0.45"/>
<circle cx="327.27" cy="89.61" r="1.45" fill="#ef7d1e" stroke="#1a1a1a" stroke-width="0.45"/>
<circle cx="328.27" cy="90.03" r="1.45" fill="#ef7d1e" stroke="#1a1a1a" stroke-width="0.45"/>
<circle cx="326.24" cy="90.15" r="1.45" fill="#ef7d1e" stroke="#1a1a1a" stroke-width="0.45"/>
<circle cx="330.81" cy="90.84" r="1.45" fill="#ef7d1e" stroke="#1a1a1a" stroke-width="0.45"/>
<circle cx="326.44" cy="91.15" r="1.45" fill="#ef7d1e" stroke="#1a1a1a" stroke-width="0.45"/>
<circle cx="328.76" cy="91.36" r="1.45" fill="#ef7d1e" stroke="#1a1a1a" stroke-width="0.45"/>
<circle cx="329.90" cy="91.83" r="1.45" fill="#ef7d1e" stroke="#1a1a1a" stroke-width="0.45"/>
<circle cx="320.10" cy="92.23" r="1.45" fill="#ef7d1e" stroke="#1a1a1a" stroke-width="0.45"/>
<circle cx="329.79" cy="92.60" r="1.45" fill="#ef7d1e" stroke="#1a1a1a" stroke-width="0.45"/>
<circle cx="329.95" cy="93.30" r="1.45" fill="#ef7d1e" stroke="#1a1a1a" stroke-width="0.45"/>
<circle cx="326.31" cy="93.46" r="1.45" fill="#ef7d1e" stroke="#1a1a1a" stroke-width="0.45"/>
<line x1="257.60" y1="119.50" x2="257.60" y2="122.00" stroke="#686868" stroke-width="0.90" />
<line x1="326.00" y1="119.50" x2="326.00" y2="122.00" stroke="#686868" stroke-width="0.90" />
<text x="257.60" y="132.84" font-size="9.00" text-anchor="middle" fill="#161616" stroke="#161616" stroke-width="0.12" >N</text>
<text x="326.00" y="132.84" font-size="9.00" text-anchor="middle" fill="#161616" stroke="#161616" stroke-width="0.12" >P</text>
<text x="257.60" y="145.24" font-size="9.00" text-anchor="middle" fill="#161616" stroke="#161616" stroke-width="0.12" >(<tspan font-style="italic">n</tspan> = 28)</text>
<text x="326.00" y="145.24" font-size="9.00" text-anchor="middle" fill="#161616" stroke="#161616" stroke-width="0.12" >(<tspan font-style="italic">n</tspan> = 140)</text>
<rect x="371.40" y="12.30" width="151.90" height="107.20" stroke="#686868" stroke-width="0.90" fill="none"/>
<text x="447.35" y="7.84" font-size="9.00" text-anchor="middle" fill="#161616" stroke="#161616" stroke-width="0.12" >LumA</text>
<text x="451.20" y="22.57" font-size="7.70" text-anchor="middle" fill="#161616" stroke="#161616" stroke-width="0.04" ><tspan font-style="italic">P</tspan> = 0.36, <tspan font-style="italic">β</tspan> = 164 (95% CI = −189–517)</text>
<polyline fill="none" stroke="#8a8a8a" stroke-width="0.90" stroke-linejoin="round" points="412.90,28.20 412.90,26.00 482.10,26.00 482.10,28.20" />
<line x1="412.90" y1="47.00" x2="412.90" y2="70.50" stroke="#b8b8b8" stroke-width="0.90" />
<line x1="412.90" y1="86.50" x2="412.90" y2="108.50" stroke="#b8b8b8" stroke-width="0.90" />
<rect x="387.50" y="70.50" width="52.00" height="16.00" stroke="#6e6e6e" stroke-width="0.80" fill="none"/>
<line x1="387.50" y1="79.50" x2="439.50" y2="79.50" stroke="#6e6e6e" stroke-width="0.80" />
<line x1="482.10" y1="43.40" x2="482.10" y2="69.50" stroke="#b8b8b8" stroke-width="0.90" />
<line x1="482.10" y1="84.50" x2="482.10" y2="104.00" stroke="#b8b8b8" stroke-width="0.90" />
<rect x="456.50" y="69.50" width="52.00" height="15.00" stroke="#6e6e6e" stroke-width="0.80" fill="none"/>
<line x1="456.50" y1="75.50" x2="508.50" y2="75.50" stroke="#6e6e6e" stroke-width="0.80" />
<circle cx="419.50" cy="47.60" r="1.45" fill="#1f67a6" stroke="#1a1a1a" stroke-width="0.45"/>
<circle cx="419.20" cy="53.40" r="1.45" fill="#1f67a6" stroke="#1a1a1a" stroke-width="0.45"/>
<circle cx="407.60" cy="55.70" r="1.45" fill="#1f67a6" stroke="#1a1a1a" stroke-width="0.45"/>
<circle cx="413.40" cy="57.70" r="1.45" fill="#1f67a6" stroke="#1a1a1a" stroke-width="0.45"/>
<circle cx="408.50" cy="59.50" r="1.45" fill="#1f67a6" stroke="#1a1a1a" stroke-width="0.45"/>
<circle cx="411.10" cy="62.30" r="1.45" fill="#1f67a6" stroke="#1a1a1a" stroke-width="0.45"/>
<circle cx="407.30" cy="63.40" r="1.45" fill="#1f67a6" stroke="#1a1a1a" stroke-width="0.45"/>
<circle cx="414.20" cy="62.30" r="1.45" fill="#1f67a6" stroke="#1a1a1a" stroke-width="0.45"/>
<circle cx="418.00" cy="64.10" r="1.45" fill="#1f67a6" stroke="#1a1a1a" stroke-width="0.45"/>
<circle cx="408.00" cy="67.20" r="1.45" fill="#1f67a6" stroke="#1a1a1a" stroke-width="0.45"/>
<circle cx="413.10" cy="66.40" r="1.45" fill="#1f67a6" stroke="#1a1a1a" stroke-width="0.45"/>
<circle cx="413.40" cy="70.60" r="1.45" fill="#1f67a6" stroke="#1a1a1a" stroke-width="0.45"/>
<circle cx="416.50" cy="71.50" r="1.45" fill="#1f67a6" stroke="#1a1a1a" stroke-width="0.45"/>
<circle cx="413.40" cy="74.50" r="1.45" fill="#1f67a6" stroke="#1a1a1a" stroke-width="0.45"/>
<circle cx="415.70" cy="76.10" r="1.45" fill="#1f67a6" stroke="#1a1a1a" stroke-width="0.45"/>
<circle cx="408.80" cy="77.20" r="1.45" fill="#1f67a6" stroke="#1a1a1a" stroke-width="0.45"/>
<circle cx="418.00" cy="77.90" r="1.45" fill="#1f67a6" stroke="#1a1a1a" stroke-width="0.45"/>
<circle cx="419.50" cy="80.20" r="1.45" fill="#1f67a6" stroke="#1a1a1a" stroke-width="0.45"/>
<circle cx="411.10" cy="79.50" r="1.45" fill="#1f67a6" stroke="#1a1a1a" stroke-width="0.45"/>
<circle cx="414.20" cy="81.00" r="1.45" fill="#1f67a6" stroke="#1a1a1a" stroke-width="0.45"/>
<circle cx="407.30" cy="83.30" r="1.45" fill="#1f67a6" stroke="#1a1a1a" stroke-width="0.45"/>
<circle cx="409.60" cy="83.70" r="1.45" fill="#1f67a6" stroke="#1a1a1a" stroke-width="0.45"/>
<circle cx="411.90" cy="82.50" r="1.45" fill="#1f67a6" stroke="#1a1a1a" stroke-width="0.45"/>
<circle cx="406.50" cy="84.80" r="1.45" fill="#1f67a6" stroke="#1a1a1a" stroke-width="0.45"/>
<circle cx="410.30" cy="85.60" r="1.45" fill="#1f67a6" stroke="#1a1a1a" stroke-width="0.45"/>
<circle cx="408.50" cy="86.80" r="1.45" fill="#1f67a6" stroke="#1a1a1a" stroke-width="0.45"/>
<circle cx="406.50" cy="89.40" r="1.45" fill="#1f67a6" stroke="#1a1a1a" stroke-width="0.45"/>
<circle cx="414.60" cy="89.40" r="1.45" fill="#1f67a6" stroke="#1a1a1a" stroke-width="0.45"/>
<circle cx="417.70" cy="89.90" r="1.45" fill="#1f67a6" stroke="#1a1a1a" stroke-width="0.45"/>
<circle cx="419.50" cy="91.40" r="1.45" fill="#1f67a6" stroke="#1a1a1a" stroke-width="0.45"/>
<circle cx="414.20" cy="93.20" r="1.45" fill="#1f67a6" stroke="#1a1a1a" stroke-width="0.45"/>
<circle cx="416.20" cy="101.70" r="1.45" fill="#1f67a6" stroke="#1a1a1a" stroke-width="0.45"/>
<circle cx="414.20" cy="102.70" r="1.45" fill="#1f67a6" stroke="#1a1a1a" stroke-width="0.45"/>
<circle cx="412.20" cy="108.30" r="1.45" fill="#1f67a6" stroke="#1a1a1a" stroke-width="0.45"/>
<circle cx="409.00" cy="78.50" r="1.45" fill="#1f67a6" stroke="#1a1a1a" stroke-width="0.45"/>
<circle cx="412.00" cy="76.00" r="1.45" fill="#1f67a6" stroke="#1a1a1a" stroke-width="0.45"/>
<circle cx="410.00" cy="81.50" r="1.45" fill="#1f67a6" stroke="#1a1a1a" stroke-width="0.45"/>
<circle cx="407.50" cy="80.00" r="1.45" fill="#1f67a6" stroke="#1a1a1a" stroke-width="0.45"/>
<circle cx="413.00" cy="84.00" r="1.45" fill="#1f67a6" stroke="#1a1a1a" stroke-width="0.45"/>
<circle cx="416.00" cy="86.00" r="1.45" fill="#1f67a6" stroke="#1a1a1a" stroke-width="0.45"/>
<circle cx="411.00" cy="88.00" r="1.45" fill="#1f67a6" stroke="#1a1a1a" stroke-width="0.45"/>
<circle cx="409.00" cy="90.50" r="1.45" fill="#1f67a6" stroke="#1a1a1a" stroke-width="0.45"/>
<circle cx="412.50" cy="79.00" r="1.45" fill="#1f67a6" stroke="#1a1a1a" stroke-width="0.45"/>
<circle cx="415.00" cy="82.50" r="1.45" fill="#1f67a6" stroke="#1a1a1a" stroke-width="0.45"/>
<circle cx="408.00" cy="74.50" r="1.45" fill="#1f67a6" stroke="#1a1a1a" stroke-width="0.45"/>
<circle cx="410.50" cy="72.50" r="1.45" fill="#1f67a6" stroke="#1a1a1a" stroke-width="0.45"/>
<circle cx="417.00" cy="68.50" r="1.45" fill="#1f67a6" stroke="#1a1a1a" stroke-width="0.45"/>
<circle cx="406.80" cy="71.50" r="1.45" fill="#1f67a6" stroke="#1a1a1a" stroke-width="0.45"/>
<circle cx="413.50" cy="87.50" r="1.45" fill="#1f67a6" stroke="#1a1a1a" stroke-width="0.45"/>
<circle cx="481.87" cy="44.01" r="1.45" fill="#ef7d1e" stroke="#1a1a1a" stroke-width="0.45"/>
<circle cx="486.36" cy="44.85" r="1.45" fill="#ef7d1e" stroke="#1a1a1a" stroke-width="0.45"/>
<circle cx="484.43" cy="45.26" r="1.45" fill="#ef7d1e" stroke="#1a1a1a" stroke-width="0.45"/>
<circle cx="476.70" cy="46.31" r="1.45" fill="#ef7d1e" stroke="#1a1a1a" stroke-width="0.45"/>
<circle cx="485.99" cy="47.25" r="1.45" fill="#ef7d1e" stroke="#1a1a1a" stroke-width="0.45"/>
<circle cx="483.26" cy="47.88" r="1.45" fill="#ef7d1e" stroke="#1a1a1a" stroke-width="0.45"/>
<circle cx="475.35" cy="49.01" r="1.45" fill="#ef7d1e" stroke="#1a1a1a" stroke-width="0.45"/>
<circle cx="484.88" cy="50.28" r="1.45" fill="#ef7d1e" stroke="#1a1a1a" stroke-width="0.45"/>
<circle cx="484.94" cy="50.82" r="1.45" fill="#ef7d1e" stroke="#1a1a1a" stroke-width="0.45"/>
<circle cx="482.46" cy="51.87" r="1.45" fill="#ef7d1e" stroke="#1a1a1a" stroke-width="0.45"/>
<circle cx="481.67" cy="52.45" r="1.45" fill="#ef7d1e" stroke="#1a1a1a" stroke-width="0.45"/>
<circle cx="488.34" cy="53.42" r="1.45" fill="#ef7d1e" stroke="#1a1a1a" stroke-width="0.45"/>
<circle cx="489.66" cy="54.97" r="1.45" fill="#ef7d1e" stroke="#1a1a1a" stroke-width="0.45"/>
<circle cx="474.67" cy="55.44" r="1.45" fill="#ef7d1e" stroke="#1a1a1a" stroke-width="0.45"/>
<circle cx="487.19" cy="56.79" r="1.45" fill="#ef7d1e" stroke="#1a1a1a" stroke-width="0.45"/>
<circle cx="481.41" cy="57.06" r="1.45" fill="#ef7d1e" stroke="#1a1a1a" stroke-width="0.45"/>
<circle cx="477.67" cy="58.56" r="1.45" fill="#ef7d1e" stroke="#1a1a1a" stroke-width="0.45"/>
<circle cx="477.69" cy="59.13" r="1.45" fill="#ef7d1e" stroke="#1a1a1a" stroke-width="0.45"/>
<circle cx="476.61" cy="59.61" r="1.45" fill="#ef7d1e" stroke="#1a1a1a" stroke-width="0.45"/>
<circle cx="489.26" cy="59.73" r="1.45" fill="#ef7d1e" stroke="#1a1a1a" stroke-width="0.45"/>
<circle cx="487.20" cy="60.01" r="1.45" fill="#ef7d1e" stroke="#1a1a1a" stroke-width="0.45"/>
<circle cx="488.24" cy="60.26" r="1.45" fill="#ef7d1e" stroke="#1a1a1a" stroke-width="0.45"/>
<circle cx="478.01" cy="60.50" r="1.45" fill="#ef7d1e" stroke="#1a1a1a" stroke-width="0.45"/>
<circle cx="481.98" cy="60.53" r="1.45" fill="#ef7d1e" stroke="#1a1a1a" stroke-width="0.45"/>
<circle cx="474.46" cy="60.83" r="1.45" fill="#ef7d1e" stroke="#1a1a1a" stroke-width="0.45"/>
<circle cx="481.43" cy="60.99" r="1.45" fill="#ef7d1e" stroke="#1a1a1a" stroke-width="0.45"/>
<circle cx="476.60" cy="61.21" r="1.45" fill="#ef7d1e" stroke="#1a1a1a" stroke-width="0.45"/>
<circle cx="479.33" cy="61.51" r="1.45" fill="#ef7d1e" stroke="#1a1a1a" stroke-width="0.45"/>
<circle cx="474.43" cy="61.70" r="1.45" fill="#ef7d1e" stroke="#1a1a1a" stroke-width="0.45"/>
<circle cx="487.49" cy="61.77" r="1.45" fill="#ef7d1e" stroke="#1a1a1a" stroke-width="0.45"/>
<circle cx="488.85" cy="62.10" r="1.45" fill="#ef7d1e" stroke="#1a1a1a" stroke-width="0.45"/>
<circle cx="488.46" cy="62.22" r="1.45" fill="#ef7d1e" stroke="#1a1a1a" stroke-width="0.45"/>
<circle cx="480.21" cy="62.44" r="1.45" fill="#ef7d1e" stroke="#1a1a1a" stroke-width="0.45"/>
<circle cx="489.98" cy="62.69" r="1.45" fill="#ef7d1e" stroke="#1a1a1a" stroke-width="0.45"/>
<circle cx="480.03" cy="62.86" r="1.45" fill="#ef7d1e" stroke="#1a1a1a" stroke-width="0.45"/>
<circle cx="478.69" cy="62.99" r="1.45" fill="#ef7d1e" stroke="#1a1a1a" stroke-width="0.45"/>
<circle cx="475.99" cy="63.35" r="1.45" fill="#ef7d1e" stroke="#1a1a1a" stroke-width="0.45"/>
<circle cx="478.86" cy="63.58" r="1.45" fill="#ef7d1e" stroke="#1a1a1a" stroke-width="0.45"/>
<circle cx="478.29" cy="63.64" r="1.45" fill="#ef7d1e" stroke="#1a1a1a" stroke-width="0.45"/>
<circle cx="482.37" cy="63.83" r="1.45" fill="#ef7d1e" stroke="#1a1a1a" stroke-width="0.45"/>
<circle cx="480.22" cy="64.19" r="1.45" fill="#ef7d1e" stroke="#1a1a1a" stroke-width="0.45"/>
<circle cx="488.19" cy="64.37" r="1.45" fill="#ef7d1e" stroke="#1a1a1a" stroke-width="0.45"/>
<circle cx="484.24" cy="64.59" r="1.45" fill="#ef7d1e" stroke="#1a1a1a" stroke-width="0.45"/>
<circle cx="489.07" cy="64.72" r="1.45" fill="#ef7d1e" stroke="#1a1a1a" stroke-width="0.45"/>
<circle cx="485.63" cy="64.83" r="1.45" fill="#ef7d1e" stroke="#1a1a1a" stroke-width="0.45"/>
<circle cx="485.82" cy="65.11" r="1.45" fill="#ef7d1e" stroke="#1a1a1a" stroke-width="0.45"/>
<circle cx="486.14" cy="65.36" r="1.45" fill="#ef7d1e" stroke="#1a1a1a" stroke-width="0.45"/>
<circle cx="478.86" cy="65.44" r="1.45" fill="#ef7d1e" stroke="#1a1a1a" stroke-width="0.45"/>
<circle cx="488.86" cy="65.66" r="1.45" fill="#ef7d1e" stroke="#1a1a1a" stroke-width="0.45"/>
<circle cx="481.77" cy="65.91" r="1.45" fill="#ef7d1e" stroke="#1a1a1a" stroke-width="0.45"/>
<circle cx="479.05" cy="66.19" r="1.45" fill="#ef7d1e" stroke="#1a1a1a" stroke-width="0.45"/>
<circle cx="489.63" cy="66.30" r="1.45" fill="#ef7d1e" stroke="#1a1a1a" stroke-width="0.45"/>
<circle cx="484.63" cy="66.51" r="1.45" fill="#ef7d1e" stroke="#1a1a1a" stroke-width="0.45"/>
<circle cx="483.09" cy="66.74" r="1.45" fill="#ef7d1e" stroke="#1a1a1a" stroke-width="0.45"/>
<circle cx="477.01" cy="66.89" r="1.45" fill="#ef7d1e" stroke="#1a1a1a" stroke-width="0.45"/>
<circle cx="477.64" cy="67.25" r="1.45" fill="#ef7d1e" stroke="#1a1a1a" stroke-width="0.45"/>
<circle cx="482.15" cy="67.31" r="1.45" fill="#ef7d1e" stroke="#1a1a1a" stroke-width="0.45"/>
<circle cx="488.54" cy="67.68" r="1.45" fill="#ef7d1e" stroke="#1a1a1a" stroke-width="0.45"/>
<circle cx="481.42" cy="67.71" r="1.45" fill="#ef7d1e" stroke="#1a1a1a" stroke-width="0.45"/>
<circle cx="477.40" cy="67.90" r="1.45" fill="#ef7d1e" stroke="#1a1a1a" stroke-width="0.45"/>
<circle cx="479.73" cy="68.11" r="1.45" fill="#ef7d1e" stroke="#1a1a1a" stroke-width="0.45"/>
<circle cx="478.13" cy="68.34" r="1.45" fill="#ef7d1e" stroke="#1a1a1a" stroke-width="0.45"/>
<circle cx="483.29" cy="68.68" r="1.45" fill="#ef7d1e" stroke="#1a1a1a" stroke-width="0.45"/>
<circle cx="486.09" cy="68.78" r="1.45" fill="#ef7d1e" stroke="#1a1a1a" stroke-width="0.45"/>
<circle cx="480.86" cy="69.01" r="1.45" fill="#ef7d1e" stroke="#1a1a1a" stroke-width="0.45"/>
<circle cx="480.28" cy="69.18" r="1.45" fill="#ef7d1e" stroke="#1a1a1a" stroke-width="0.45"/>
<circle cx="475.37" cy="69.37" r="1.45" fill="#ef7d1e" stroke="#1a1a1a" stroke-width="0.45"/>
<circle cx="489.50" cy="69.54" r="1.45" fill="#ef7d1e" stroke="#1a1a1a" stroke-width="0.45"/>
<circle cx="482.25" cy="69.85" r="1.45" fill="#ef7d1e" stroke="#1a1a1a" stroke-width="0.45"/>
<circle cx="487.86" cy="69.97" r="1.45" fill="#ef7d1e" stroke="#1a1a1a" stroke-width="0.45"/>
<circle cx="478.63" cy="70.18" r="1.45" fill="#ef7d1e" stroke="#1a1a1a" stroke-width="0.45"/>
<circle cx="480.64" cy="70.43" r="1.45" fill="#ef7d1e" stroke="#1a1a1a" stroke-width="0.45"/>
<circle cx="489.28" cy="70.71" r="1.45" fill="#ef7d1e" stroke="#1a1a1a" stroke-width="0.45"/>
<circle cx="488.02" cy="70.75" r="1.45" fill="#ef7d1e" stroke="#1a1a1a" stroke-width="0.45"/>
<circle cx="474.90" cy="71.09" r="1.45" fill="#ef7d1e" stroke="#1a1a1a" stroke-width="0.45"/>
<circle cx="488.37" cy="71.25" r="1.45" fill="#ef7d1e" stroke="#1a1a1a" stroke-width="0.45"/>
<circle cx="483.56" cy="71.36" r="1.45" fill="#ef7d1e" stroke="#1a1a1a" stroke-width="0.45"/>
<circle cx="480.51" cy="71.75" r="1.45" fill="#ef7d1e" stroke="#1a1a1a" stroke-width="0.45"/>
<circle cx="487.28" cy="71.94" r="1.45" fill="#ef7d1e" stroke="#1a1a1a" stroke-width="0.45"/>
<circle cx="489.57" cy="72.02" r="1.45" fill="#ef7d1e" stroke="#1a1a1a" stroke-width="0.45"/>
<circle cx="476.10" cy="72.21" r="1.45" fill="#ef7d1e" stroke="#1a1a1a" stroke-width="0.45"/>
<circle cx="482.55" cy="72.52" r="1.45" fill="#ef7d1e" stroke="#1a1a1a" stroke-width="0.45"/>
<circle cx="489.09" cy="72.73" r="1.45" fill="#ef7d1e" stroke="#1a1a1a" stroke-width="0.45"/>
<circle cx="484.50" cy="72.95" r="1.45" fill="#ef7d1e" stroke="#1a1a1a" stroke-width="0.45"/>
<circle cx="481.53" cy="73.11" r="1.45" fill="#ef7d1e" stroke="#1a1a1a" stroke-width="0.45"/>
<circle cx="475.02" cy="73.36" r="1.45" fill="#ef7d1e" stroke="#1a1a1a" stroke-width="0.45"/>
<circle cx="478.03" cy="73.59" r="1.45" fill="#ef7d1e" stroke="#1a1a1a" stroke-width="0.45"/>
<circle cx="484.47" cy="73.67" r="1.45" fill="#ef7d1e" stroke="#1a1a1a" stroke-width="0.45"/>
<circle cx="476.40" cy="73.86" r="1.45" fill="#ef7d1e" stroke="#1a1a1a" stroke-width="0.45"/>
<circle cx="484.33" cy="74.16" r="1.45" fill="#ef7d1e" stroke="#1a1a1a" stroke-width="0.45"/>
<circle cx="476.15" cy="74.23" r="1.45" fill="#ef7d1e" stroke="#1a1a1a" stroke-width="0.45"/>
<circle cx="482.58" cy="74.54" r="1.45" fill="#ef7d1e" stroke="#1a1a1a" stroke-width="0.45"/>
<circle cx="480.45" cy="74.67" r="1.45" fill="#ef7d1e" stroke="#1a1a1a" stroke-width="0.45"/>
<circle cx="483.78" cy="74.84" r="1.45" fill="#ef7d1e" stroke="#1a1a1a" stroke-width="0.45"/>
<circle cx="479.10" cy="75.13" r="1.45" fill="#ef7d1e" stroke="#1a1a1a" stroke-width="0.45"/>
<circle cx="489.36" cy="75.37" r="1.45" fill="#ef7d1e" stroke="#1a1a1a" stroke-width="0.45"/>
<circle cx="488.19" cy="75.54" r="1.45" fill="#ef7d1e" stroke="#1a1a1a" stroke-width="0.45"/>
<circle cx="478.06" cy="75.70" r="1.45" fill="#ef7d1e" stroke="#1a1a1a" stroke-width="0.45"/>
<circle cx="489.39" cy="76.00" r="1.45" fill="#ef7d1e" stroke="#1a1a1a" stroke-width="0.45"/>
<circle cx="479.20" cy="76.06" r="1.45" fill="#ef7d1e" stroke="#1a1a1a" stroke-width="0.45"/>
<circle cx="482.17" cy="76.40" r="1.45" fill="#ef7d1e" stroke="#1a1a1a" stroke-width="0.45"/>
<circle cx="480.95" cy="76.52" r="1.45" fill="#ef7d1e" stroke="#1a1a1a" stroke-width="0.45"/>
<circle cx="484.81" cy="76.86" r="1.45" fill="#ef7d1e" stroke="#1a1a1a" stroke-width="0.45"/>
<circle cx="477.94" cy="76.88" r="1.45" fill="#ef7d1e" stroke="#1a1a1a" stroke-width="0.45"/>
<circle cx="479.67" cy="77.17" r="1.45" fill="#ef7d1e" stroke="#1a1a1a" stroke-width="0.45"/>
<circle cx="485.05" cy="77.33" r="1.45" fill="#ef7d1e" stroke="#1a1a1a" stroke-width="0.45"/>
<circle cx="486.83" cy="77.64" r="1.45" fill="#ef7d1e" stroke="#1a1a1a" stroke-width="0.45"/>
<circle cx="482.28" cy="77.74" r="1.45" fill="#ef7d1e" stroke="#1a1a1a" stroke-width="0.45"/>
<circle cx="489.53" cy="77.96" r="1.45" fill="#ef7d1e" stroke="#1a1a1a" stroke-width="0.45"/>
<circle cx="487.19" cy="78.15" r="1.45" fill="#ef7d1e" stroke="#1a1a1a" stroke-width="0.45"/>
<circle cx="477.85" cy="78.46" r="1.45" fill="#ef7d1e" stroke="#1a1a1a" stroke-width="0.45"/>
<circle cx="479.00" cy="78.71" r="1.45" fill="#ef7d1e" stroke="#1a1a1a" stroke-width="0.45"/>
<circle cx="482.13" cy="78.76" r="1.45" fill="#ef7d1e" stroke="#1a1a1a" stroke-width="0.45"/>
<circle cx="477.88" cy="79.01" r="1.45" fill="#ef7d1e" stroke="#1a1a1a" stroke-width="0.45"/>
<circle cx="484.78" cy="79.32" r="1.45" fill="#ef7d1e" stroke="#1a1a1a" stroke-width="0.45"/>
<circle cx="476.68" cy="79.41" r="1.45" fill="#ef7d1e" stroke="#1a1a1a" stroke-width="0.45"/>
<circle cx="477.72" cy="79.73" r="1.45" fill="#ef7d1e" stroke="#1a1a1a" stroke-width="0.45"/>
<circle cx="476.61" cy="79.75" r="1.45" fill="#ef7d1e" stroke="#1a1a1a" stroke-width="0.45"/>
<circle cx="475.34" cy="80.02" r="1.45" fill="#ef7d1e" stroke="#1a1a1a" stroke-width="0.45"/>
<circle cx="488.41" cy="80.33" r="1.45" fill="#ef7d1e" stroke="#1a1a1a" stroke-width="0.45"/>
<circle cx="485.83" cy="80.56" r="1.45" fill="#ef7d1e" stroke="#1a1a1a" stroke-width="0.45"/>
<circle cx="488.93" cy="80.63" r="1.45" fill="#ef7d1e" stroke="#1a1a1a" stroke-width="0.45"/>
<circle cx="477.29" cy="80.95" r="1.45" fill="#ef7d1e" stroke="#1a1a1a" stroke-width="0.45"/>
<circle cx="486.04" cy="80.97" r="1.45" fill="#ef7d1e" stroke="#1a1a1a" stroke-width="0.45"/>
<circle cx="484.77" cy="81.25" r="1.45" fill="#ef7d1e" stroke="#1a1a1a" stroke-width="0.45"/>
<circle cx="480.23" cy="81.44" r="1.45" fill="#ef7d1e" stroke="#1a1a1a" stroke-width="0.45"/>
<circle cx="477.04" cy="81.58" r="1.45" fill="#ef7d1e" stroke="#1a1a1a" stroke-width="0.45"/>
<circle cx="478.76" cy="81.86" r="1.45" fill="#ef7d1e" stroke="#1a1a1a" stroke-width="0.45"/>
<circle cx="489.31" cy="82.01" r="1.45" fill="#ef7d1e" stroke="#1a1a1a" stroke-width="0.45"/>
<circle cx="489.44" cy="82.24" r="1.45" fill="#ef7d1e" stroke="#1a1a1a" stroke-width="0.45"/>
<circle cx="479.96" cy="82.57" r="1.45" fill="#ef7d1e" stroke="#1a1a1a" stroke-width="0.45"/>
<circle cx="487.22" cy="82.69" r="1.45" fill="#ef7d1e" stroke="#1a1a1a" stroke-width="0.45"/>
<circle cx="475.17" cy="82.90" r="1.45" fill="#ef7d1e" stroke="#1a1a1a" stroke-width="0.45"/>
<circle cx="480.21" cy="83.20" r="1.45" fill="#ef7d1e" stroke="#1a1a1a" stroke-width="0.45"/>
<circle cx="477.41" cy="83.29" r="1.45" fill="#ef7d1e" stroke="#1a1a1a" stroke-width="0.45"/>
<circle cx="488.39" cy="83.43" r="1.45" fill="#ef7d1e" stroke="#1a1a1a" stroke-width="0.45"/>
<circle cx="480.81" cy="83.79" r="1.45" fill="#ef7d1e" stroke="#1a1a1a" stroke-width="0.45"/>
<circle cx="486.36" cy="83.84" r="1.45" fill="#ef7d1e" stroke="#1a1a1a" stroke-width="0.45"/>
<circle cx="474.94" cy="84.05" r="1.45" fill="#ef7d1e" stroke="#1a1a1a" stroke-width="0.45"/>
<circle cx="488.75" cy="84.29" r="1.45" fill="#ef7d1e" stroke="#1a1a1a" stroke-width="0.45"/>
<circle cx="486.06" cy="84.63" r="1.45" fill="#ef7d1e" stroke="#1a1a1a" stroke-width="0.45"/>
<circle cx="479.69" cy="84.70" r="1.45" fill="#ef7d1e" stroke="#1a1a1a" stroke-width="0.45"/>
<circle cx="489.34" cy="84.98" r="1.45" fill="#ef7d1e" stroke="#1a1a1a" stroke-width="0.45"/>
<circle cx="478.49" cy="85.20" r="1.45" fill="#ef7d1e" stroke="#1a1a1a" stroke-width="0.45"/>
<circle cx="479.34" cy="85.32" r="1.45" fill="#ef7d1e" stroke="#1a1a1a" stroke-width="0.45"/>
<circle cx="474.46" cy="85.62" r="1.45" fill="#ef7d1e" stroke="#1a1a1a" stroke-width="0.45"/>
<circle cx="488.70" cy="85.80" r="1.45" fill="#ef7d1e" stroke="#1a1a1a" stroke-width="0.45"/>
<circle cx="489.11" cy="85.88" r="1.45" fill="#ef7d1e" stroke="#1a1a1a" stroke-width="0.45"/>
<circle cx="478.05" cy="86.17" r="1.45" fill="#ef7d1e" stroke="#1a1a1a" stroke-width="0.45"/>
<circle cx="489.33" cy="86.48" r="1.45" fill="#ef7d1e" stroke="#1a1a1a" stroke-width="0.45"/>
<circle cx="480.43" cy="86.54" r="1.45" fill="#ef7d1e" stroke="#1a1a1a" stroke-width="0.45"/>
<circle cx="481.11" cy="86.79" r="1.45" fill="#ef7d1e" stroke="#1a1a1a" stroke-width="0.45"/>
<circle cx="488.88" cy="86.93" r="1.45" fill="#ef7d1e" stroke="#1a1a1a" stroke-width="0.45"/>
<circle cx="486.92" cy="87.25" r="1.45" fill="#ef7d1e" stroke="#1a1a1a" stroke-width="0.45"/>
<circle cx="487.23" cy="87.46" r="1.45" fill="#ef7d1e" stroke="#1a1a1a" stroke-width="0.45"/>
<circle cx="483.87" cy="87.58" r="1.45" fill="#ef7d1e" stroke="#1a1a1a" stroke-width="0.45"/>
<circle cx="479.38" cy="87.79" r="1.45" fill="#ef7d1e" stroke="#1a1a1a" stroke-width="0.45"/>
<circle cx="486.60" cy="87.93" r="1.45" fill="#ef7d1e" stroke="#1a1a1a" stroke-width="0.45"/>
<circle cx="477.48" cy="88.28" r="1.45" fill="#ef7d1e" stroke="#1a1a1a" stroke-width="0.45"/>
<circle cx="478.26" cy="88.34" r="1.45" fill="#ef7d1e" stroke="#1a1a1a" stroke-width="0.45"/>
<circle cx="474.93" cy="88.64" r="1.45" fill="#ef7d1e" stroke="#1a1a1a" stroke-width="0.45"/>
<circle cx="479.48" cy="88.94" r="1.45" fill="#ef7d1e" stroke="#1a1a1a" stroke-width="0.45"/>
<circle cx="488.18" cy="89.14" r="1.45" fill="#ef7d1e" stroke="#1a1a1a" stroke-width="0.45"/>
<circle cx="478.53" cy="89.16" r="1.45" fill="#ef7d1e" stroke="#1a1a1a" stroke-width="0.45"/>
<circle cx="475.90" cy="89.45" r="1.45" fill="#ef7d1e" stroke="#1a1a1a" stroke-width="0.45"/>
<circle cx="485.47" cy="89.64" r="1.45" fill="#ef7d1e" stroke="#1a1a1a" stroke-width="0.45"/>
<circle cx="478.05" cy="89.84" r="1.45" fill="#ef7d1e" stroke="#1a1a1a" stroke-width="0.45"/>
<circle cx="484.08" cy="90.10" r="1.45" fill="#ef7d1e" stroke="#1a1a1a" stroke-width="0.45"/>
<circle cx="486.07" cy="90.34" r="1.45" fill="#ef7d1e" stroke="#1a1a1a" stroke-width="0.45"/>
<circle cx="484.77" cy="90.40" r="1.45" fill="#ef7d1e" stroke="#1a1a1a" stroke-width="0.45"/>
<circle cx="487.52" cy="90.64" r="1.45" fill="#ef7d1e" stroke="#1a1a1a" stroke-width="0.45"/>
<circle cx="483.24" cy="90.86" r="1.45" fill="#ef7d1e" stroke="#1a1a1a" stroke-width="0.45"/>
<circle cx="485.91" cy="91.03" r="1.45" fill="#ef7d1e" stroke="#1a1a1a" stroke-width="0.45"/>
<circle cx="478.26" cy="91.24" r="1.45" fill="#ef7d1e" stroke="#1a1a1a" stroke-width="0.45"/>
<circle cx="476.79" cy="91.57" r="1.45" fill="#ef7d1e" stroke="#1a1a1a" stroke-width="0.45"/>
<circle cx="483.42" cy="91.66" r="1.45" fill="#ef7d1e" stroke="#1a1a1a" stroke-width="0.45"/>
<circle cx="480.58" cy="92.01" r="1.45" fill="#ef7d1e" stroke="#1a1a1a" stroke-width="0.45"/>
<circle cx="482.31" cy="92.05" r="1.45" fill="#ef7d1e" stroke="#1a1a1a" stroke-width="0.45"/>
<circle cx="487.01" cy="92.34" r="1.45" fill="#ef7d1e" stroke="#1a1a1a" stroke-width="0.45"/>
<circle cx="489.86" cy="92.44" r="1.45" fill="#ef7d1e" stroke="#1a1a1a" stroke-width="0.45"/>
<circle cx="481.81" cy="92.79" r="1.45" fill="#ef7d1e" stroke="#1a1a1a" stroke-width="0.45"/>
<circle cx="487.51" cy="93.01" r="1.45" fill="#ef7d1e" stroke="#1a1a1a" stroke-width="0.45"/>
<circle cx="475.03" cy="93.09" r="1.45" fill="#ef7d1e" stroke="#1a1a1a" stroke-width="0.45"/>
<circle cx="476.26" cy="93.27" r="1.45" fill="#ef7d1e" stroke="#1a1a1a" stroke-width="0.45"/>
<circle cx="489.58" cy="93.56" r="1.45" fill="#ef7d1e" stroke="#1a1a1a" stroke-width="0.45"/>
<circle cx="488.91" cy="93.72" r="1.45" fill="#ef7d1e" stroke="#1a1a1a" stroke-width="0.45"/>
<circle cx="487.91" cy="93.94" r="1.45" fill="#ef7d1e" stroke="#1a1a1a" stroke-width="0.45"/>
<circle cx="478.46" cy="94.21" r="1.45" fill="#ef7d1e" stroke="#1a1a1a" stroke-width="0.45"/>
<circle cx="489.15" cy="94.28" r="1.45" fill="#ef7d1e" stroke="#1a1a1a" stroke-width="0.45"/>
<circle cx="483.70" cy="94.59" r="1.45" fill="#ef7d1e" stroke="#1a1a1a" stroke-width="0.45"/>
<circle cx="477.80" cy="94.74" r="1.45" fill="#ef7d1e" stroke="#1a1a1a" stroke-width="0.45"/>
<circle cx="476.61" cy="94.91" r="1.45" fill="#ef7d1e" stroke="#1a1a1a" stroke-width="0.45"/>
<circle cx="478.38" cy="95.20" r="1.45" fill="#ef7d1e" stroke="#1a1a1a" stroke-width="0.45"/>
<circle cx="484.57" cy="95.32" r="1.45" fill="#ef7d1e" stroke="#1a1a1a" stroke-width="0.45"/>
<circle cx="474.58" cy="95.55" r="1.45" fill="#ef7d1e" stroke="#1a1a1a" stroke-width="0.45"/>
<circle cx="484.98" cy="95.72" r="1.45" fill="#ef7d1e" stroke="#1a1a1a" stroke-width="0.45"/>
<circle cx="479.27" cy="95.93" r="1.45" fill="#ef7d1e" stroke="#1a1a1a" stroke-width="0.45"/>
<circle cx="486.81" cy="96.21" r="1.45" fill="#ef7d1e" stroke="#1a1a1a" stroke-width="0.45"/>
<circle cx="475.89" cy="96.36" r="1.45" fill="#ef7d1e" stroke="#1a1a1a" stroke-width="0.45"/>
<circle cx="480.53" cy="97.22" r="1.45" fill="#ef7d1e" stroke="#1a1a1a" stroke-width="0.45"/>
<circle cx="483.95" cy="97.54" r="1.45" fill="#ef7d1e" stroke="#1a1a1a" stroke-width="0.45"/>
<circle cx="477.29" cy="98.49" r="1.45" fill="#ef7d1e" stroke="#1a1a1a" stroke-width="0.45"/>
<circle cx="480.74" cy="98.84" r="1.45" fill="#ef7d1e" stroke="#1a1a1a" stroke-width="0.45"/>
<circle cx="479.31" cy="99.83" r="1.45" fill="#ef7d1e" stroke="#1a1a1a" stroke-width="0.45"/>
<circle cx="479.37" cy="100.19" r="1.45" fill="#ef7d1e" stroke="#1a1a1a" stroke-width="0.45"/>
<circle cx="480.00" cy="100.69" r="1.45" fill="#ef7d1e" stroke="#1a1a1a" stroke-width="0.45"/>
<circle cx="487.10" cy="101.63" r="1.45" fill="#ef7d1e" stroke="#1a1a1a" stroke-width="0.45"/>
<circle cx="480.09" cy="101.75" r="1.45" fill="#ef7d1e" stroke="#1a1a1a" stroke-width="0.45"/>
<circle cx="485.19" cy="102.34" r="1.45" fill="#ef7d1e" stroke="#1a1a1a" stroke-width="0.45"/>
<circle cx="475.08" cy="103.35" r="1.45" fill="#ef7d1e" stroke="#1a1a1a" stroke-width="0.45"/>
<circle cx="480.93" cy="103.89" r="1.45" fill="#ef7d1e" stroke="#1a1a1a" stroke-width="0.45"/>
<line x1="412.90" y1="119.50" x2="412.90" y2="122.00" stroke="#686868" stroke-width="0.90" />
<line x1="482.10" y1="119.50" x2="482.10" y2="122.00" stroke="#686868" stroke-width="0.90" />
<text x="412.90" y="132.84" font-size="9.00" text-anchor="middle" fill="#161616" stroke="#161616" stroke-width="0.12" >N</text>
<text x="482.10" y="132.84" font-size="9.00" text-anchor="middle" fill="#161616" stroke="#161616" stroke-width="0.12" >P</text>
<text x="412.90" y="145.24" font-size="9.00" text-anchor="middle" fill="#161616" stroke="#161616" stroke-width="0.12" >(<tspan font-style="italic">n</tspan> = 49)</text>
<text x="482.10" y="145.24" font-size="9.00" text-anchor="middle" fill="#161616" stroke="#161616" stroke-width="0.12" >(<tspan font-style="italic">n</tspan> = 211)</text>
<rect x="527.40" y="12.30" width="152.20" height="107.20" stroke="#686868" stroke-width="0.90" fill="none"/>
<text x="603.50" y="7.84" font-size="9.00" text-anchor="middle" fill="#161616" stroke="#161616" stroke-width="0.12" >LumB</text>
<text x="606.90" y="22.57" font-size="7.70" text-anchor="middle" fill="#161616" stroke="#161616" stroke-width="0.04" ><tspan font-style="italic">P</tspan> = 0.99, <tspan font-style="italic">β</tspan> = 4.16 (95% CI = −469–477)</text>
<polyline fill="none" stroke="#8a8a8a" stroke-width="0.90" stroke-linejoin="round" points="569.40,28.20 569.40,26.00 638.40,26.00 638.40,28.20" />
<line x1="569.40" y1="39.20" x2="569.40" y2="71.50" stroke="#b8b8b8" stroke-width="0.90" />
<line x1="569.40" y1="82.50" x2="569.40" y2="108.50" stroke="#b8b8b8" stroke-width="0.90" />
<rect x="543.50" y="71.50" width="52.00" height="11.00" stroke="#6e6e6e" stroke-width="0.80" fill="none"/>
<line x1="543.50" y1="75.50" x2="595.50" y2="75.50" stroke="#6e6e6e" stroke-width="0.80" />
<line x1="638.40" y1="39.70" x2="638.40" y2="64.50" stroke="#b8b8b8" stroke-width="0.90" />
<line x1="638.40" y1="81.50" x2="638.40" y2="103.00" stroke="#b8b8b8" stroke-width="0.90" />
<rect x="612.50" y="64.50" width="52.00" height="17.00" stroke="#6e6e6e" stroke-width="0.80" fill="none"/>
<line x1="612.50" y1="74.50" x2="664.50" y2="74.50" stroke="#6e6e6e" stroke-width="0.80" />
<circle cx="570.20" cy="39.50" r="1.45" fill="#1f67a6" stroke="#1a1a1a" stroke-width="0.45"/>
<circle cx="563.80" cy="43.00" r="1.45" fill="#1f67a6" stroke="#1a1a1a" stroke-width="0.45"/>
<circle cx="575.80" cy="46.10" r="1.45" fill="#1f67a6" stroke="#1a1a1a" stroke-width="0.45"/>
<circle cx="565.30" cy="57.90" r="1.45" fill="#1f67a6" stroke="#1a1a1a" stroke-width="0.45"/>
<circle cx="572.20" cy="55.80" r="1.45" fill="#1f67a6" stroke="#1a1a1a" stroke-width="0.45"/>
<circle cx="571.80" cy="58.40" r="1.45" fill="#1f67a6" stroke="#1a1a1a" stroke-width="0.45"/>
<circle cx="572.20" cy="65.60" r="1.45" fill="#1f67a6" stroke="#1a1a1a" stroke-width="0.45"/>
<circle cx="570.20" cy="67.60" r="1.45" fill="#1f67a6" stroke="#1a1a1a" stroke-width="0.45"/>
<circle cx="562.60" cy="71.40" r="1.45" fill="#1f67a6" stroke="#1a1a1a" stroke-width="0.45"/>
<circle cx="566.10" cy="71.10" r="1.45" fill="#1f67a6" stroke="#1a1a1a" stroke-width="0.45"/>
<circle cx="573.00" cy="71.40" r="1.45" fill="#1f67a6" stroke="#1a1a1a" stroke-width="0.45"/>
<circle cx="569.60" cy="73.20" r="1.45" fill="#1f67a6" stroke="#1a1a1a" stroke-width="0.45"/>
<circle cx="563.00" cy="75.20" r="1.45" fill="#1f67a6" stroke="#1a1a1a" stroke-width="0.45"/>
<circle cx="567.20" cy="75.70" r="1.45" fill="#1f67a6" stroke="#1a1a1a" stroke-width="0.45"/>
<circle cx="570.70" cy="75.70" r="1.45" fill="#1f67a6" stroke="#1a1a1a" stroke-width="0.45"/>
<circle cx="568.10" cy="77.80" r="1.45" fill="#1f67a6" stroke="#1a1a1a" stroke-width="0.45"/>
<circle cx="569.60" cy="79.40" r="1.45" fill="#1f67a6" stroke="#1a1a1a" stroke-width="0.45"/>
<circle cx="574.50" cy="78.30" r="1.45" fill="#1f67a6" stroke="#1a1a1a" stroke-width="0.45"/>
<circle cx="562.30" cy="81.80" r="1.45" fill="#1f67a6" stroke="#1a1a1a" stroke-width="0.45"/>
<circle cx="565.30" cy="83.30" r="1.45" fill="#1f67a6" stroke="#1a1a1a" stroke-width="0.45"/>
<circle cx="568.10" cy="84.00" r="1.45" fill="#1f67a6" stroke="#1a1a1a" stroke-width="0.45"/>
<circle cx="570.70" cy="84.90" r="1.45" fill="#1f67a6" stroke="#1a1a1a" stroke-width="0.45"/>
<circle cx="573.00" cy="85.90" r="1.45" fill="#1f67a6" stroke="#1a1a1a" stroke-width="0.45"/>
<circle cx="575.80" cy="83.60" r="1.45" fill="#1f67a6" stroke="#1a1a1a" stroke-width="0.45"/>
<circle cx="574.20" cy="87.50" r="1.45" fill="#1f67a6" stroke="#1a1a1a" stroke-width="0.45"/>
<circle cx="571.50" cy="86.70" r="1.45" fill="#1f67a6" stroke="#1a1a1a" stroke-width="0.45"/>
<circle cx="575.80" cy="93.60" r="1.45" fill="#1f67a6" stroke="#1a1a1a" stroke-width="0.45"/>
<circle cx="564.10" cy="108.50" r="1.45" fill="#1f67a6" stroke="#1a1a1a" stroke-width="0.45"/>
<circle cx="564.50" cy="72.50" r="1.45" fill="#1f67a6" stroke="#1a1a1a" stroke-width="0.45"/>
<circle cx="568.50" cy="74.50" r="1.45" fill="#1f67a6" stroke="#1a1a1a" stroke-width="0.45"/>
<circle cx="566.00" cy="78.50" r="1.45" fill="#1f67a6" stroke="#1a1a1a" stroke-width="0.45"/>
<circle cx="572.00" cy="80.50" r="1.45" fill="#1f67a6" stroke="#1a1a1a" stroke-width="0.45"/>
<circle cx="563.50" cy="79.50" r="1.45" fill="#1f67a6" stroke="#1a1a1a" stroke-width="0.45"/>
<circle cx="567.00" cy="82.00" r="1.45" fill="#1f67a6" stroke="#1a1a1a" stroke-width="0.45"/>
<circle cx="571.00" cy="73.00" r="1.45" fill="#1f67a6" stroke="#1a1a1a" stroke-width="0.45"/>
<circle cx="637.09" cy="42.03" r="1.45" fill="#ef7d1e" stroke="#1a1a1a" stroke-width="0.45"/>
<circle cx="637.91" cy="42.55" r="1.45" fill="#ef7d1e" stroke="#1a1a1a" stroke-width="0.45"/>
<circle cx="631.22" cy="45.12" r="1.45" fill="#ef7d1e" stroke="#1a1a1a" stroke-width="0.45"/>
<circle cx="640.61" cy="47.63" r="1.45" fill="#ef7d1e" stroke="#1a1a1a" stroke-width="0.45"/>
<circle cx="632.34" cy="48.95" r="1.45" fill="#ef7d1e" stroke="#1a1a1a" stroke-width="0.45"/>
<circle cx="636.56" cy="50.58" r="1.45" fill="#ef7d1e" stroke="#1a1a1a" stroke-width="0.45"/>
<circle cx="632.81" cy="51.62" r="1.45" fill="#ef7d1e" stroke="#1a1a1a" stroke-width="0.45"/>
<circle cx="638.73" cy="52.32" r="1.45" fill="#ef7d1e" stroke="#1a1a1a" stroke-width="0.45"/>
<circle cx="632.22" cy="52.56" r="1.45" fill="#ef7d1e" stroke="#1a1a1a" stroke-width="0.45"/>
<circle cx="643.22" cy="53.19" r="1.45" fill="#ef7d1e" stroke="#1a1a1a" stroke-width="0.45"/>
<circle cx="633.62" cy="53.26" r="1.45" fill="#ef7d1e" stroke="#1a1a1a" stroke-width="0.45"/>
<circle cx="645.40" cy="54.04" r="1.45" fill="#ef7d1e" stroke="#1a1a1a" stroke-width="0.45"/>
<circle cx="638.13" cy="54.08" r="1.45" fill="#ef7d1e" stroke="#1a1a1a" stroke-width="0.45"/>
<circle cx="645.13" cy="54.64" r="1.45" fill="#ef7d1e" stroke="#1a1a1a" stroke-width="0.45"/>
<circle cx="644.79" cy="55.17" r="1.45" fill="#ef7d1e" stroke="#1a1a1a" stroke-width="0.45"/>
<circle cx="643.53" cy="55.40" r="1.45" fill="#ef7d1e" stroke="#1a1a1a" stroke-width="0.45"/>
<circle cx="642.92" cy="55.85" r="1.45" fill="#ef7d1e" stroke="#1a1a1a" stroke-width="0.45"/>
<circle cx="636.89" cy="56.54" r="1.45" fill="#ef7d1e" stroke="#1a1a1a" stroke-width="0.45"/>
<circle cx="643.60" cy="56.68" r="1.45" fill="#ef7d1e" stroke="#1a1a1a" stroke-width="0.45"/>
<circle cx="633.95" cy="57.20" r="1.45" fill="#ef7d1e" stroke="#1a1a1a" stroke-width="0.45"/>
<circle cx="638.68" cy="57.62" r="1.45" fill="#ef7d1e" stroke="#1a1a1a" stroke-width="0.45"/>
<circle cx="632.44" cy="57.99" r="1.45" fill="#ef7d1e" stroke="#1a1a1a" stroke-width="0.45"/>
<circle cx="641.95" cy="58.69" r="1.45" fill="#ef7d1e" stroke="#1a1a1a" stroke-width="0.45"/>
<circle cx="631.15" cy="58.97" r="1.45" fill="#ef7d1e" stroke="#1a1a1a" stroke-width="0.45"/>
<circle cx="642.47" cy="59.18" r="1.45" fill="#ef7d1e" stroke="#1a1a1a" stroke-width="0.45"/>
<circle cx="643.74" cy="59.64" r="1.45" fill="#ef7d1e" stroke="#1a1a1a" stroke-width="0.45"/>
<circle cx="639.97" cy="60.25" r="1.45" fill="#ef7d1e" stroke="#1a1a1a" stroke-width="0.45"/>
<circle cx="640.41" cy="60.57" r="1.45" fill="#ef7d1e" stroke="#1a1a1a" stroke-width="0.45"/>
<circle cx="637.14" cy="61.11" r="1.45" fill="#ef7d1e" stroke="#1a1a1a" stroke-width="0.45"/>
<circle cx="637.23" cy="61.57" r="1.45" fill="#ef7d1e" stroke="#1a1a1a" stroke-width="0.45"/>
<circle cx="637.56" cy="61.90" r="1.45" fill="#ef7d1e" stroke="#1a1a1a" stroke-width="0.45"/>
<circle cx="630.87" cy="62.40" r="1.45" fill="#ef7d1e" stroke="#1a1a1a" stroke-width="0.45"/>
<circle cx="638.23" cy="62.66" r="1.45" fill="#ef7d1e" stroke="#1a1a1a" stroke-width="0.45"/>
<circle cx="642.56" cy="63.32" r="1.45" fill="#ef7d1e" stroke="#1a1a1a" stroke-width="0.45"/>
<circle cx="637.74" cy="63.49" r="1.45" fill="#ef7d1e" stroke="#1a1a1a" stroke-width="0.45"/>
<circle cx="637.98" cy="63.89" r="1.45" fill="#ef7d1e" stroke="#1a1a1a" stroke-width="0.45"/>
<circle cx="632.53" cy="64.45" r="1.45" fill="#ef7d1e" stroke="#1a1a1a" stroke-width="0.45"/>
<circle cx="631.95" cy="64.88" r="1.45" fill="#ef7d1e" stroke="#1a1a1a" stroke-width="0.45"/>
<circle cx="638.56" cy="65.14" r="1.45" fill="#ef7d1e" stroke="#1a1a1a" stroke-width="0.45"/>
<circle cx="640.56" cy="65.58" r="1.45" fill="#ef7d1e" stroke="#1a1a1a" stroke-width="0.45"/>
<circle cx="642.09" cy="66.30" r="1.45" fill="#ef7d1e" stroke="#1a1a1a" stroke-width="0.45"/>
<circle cx="638.58" cy="66.42" r="1.45" fill="#ef7d1e" stroke="#1a1a1a" stroke-width="0.45"/>
<circle cx="638.46" cy="66.98" r="1.45" fill="#ef7d1e" stroke="#1a1a1a" stroke-width="0.45"/>
<circle cx="645.52" cy="67.30" r="1.45" fill="#ef7d1e" stroke="#1a1a1a" stroke-width="0.45"/>
<circle cx="644.04" cy="68.10" r="1.45" fill="#ef7d1e" stroke="#1a1a1a" stroke-width="0.45"/>
<circle cx="642.07" cy="68.44" r="1.45" fill="#ef7d1e" stroke="#1a1a1a" stroke-width="0.45"/>
<circle cx="633.56" cy="68.94" r="1.45" fill="#ef7d1e" stroke="#1a1a1a" stroke-width="0.45"/>
<circle cx="638.27" cy="69.35" r="1.45" fill="#ef7d1e" stroke="#1a1a1a" stroke-width="0.45"/>
<circle cx="644.97" cy="69.44" r="1.45" fill="#ef7d1e" stroke="#1a1a1a" stroke-width="0.45"/>
<circle cx="642.96" cy="70.19" r="1.45" fill="#ef7d1e" stroke="#1a1a1a" stroke-width="0.45"/>
<circle cx="631.54" cy="70.37" r="1.45" fill="#ef7d1e" stroke="#1a1a1a" stroke-width="0.45"/>
<circle cx="642.45" cy="70.72" r="1.45" fill="#ef7d1e" stroke="#1a1a1a" stroke-width="0.45"/>
<circle cx="644.67" cy="71.19" r="1.45" fill="#ef7d1e" stroke="#1a1a1a" stroke-width="0.45"/>
<circle cx="643.39" cy="71.56" r="1.45" fill="#ef7d1e" stroke="#1a1a1a" stroke-width="0.45"/>
<circle cx="638.44" cy="72.32" r="1.45" fill="#ef7d1e" stroke="#1a1a1a" stroke-width="0.45"/>
<circle cx="633.79" cy="72.46" r="1.45" fill="#ef7d1e" stroke="#1a1a1a" stroke-width="0.45"/>
<circle cx="638.49" cy="72.91" r="1.45" fill="#ef7d1e" stroke="#1a1a1a" stroke-width="0.45"/>
<circle cx="631.08" cy="73.28" r="1.45" fill="#ef7d1e" stroke="#1a1a1a" stroke-width="0.45"/>
<circle cx="633.05" cy="74.03" r="1.45" fill="#ef7d1e" stroke="#1a1a1a" stroke-width="0.45"/>
<circle cx="641.24" cy="74.44" r="1.45" fill="#ef7d1e" stroke="#1a1a1a" stroke-width="0.45"/>
<circle cx="633.17" cy="74.81" r="1.45" fill="#ef7d1e" stroke="#1a1a1a" stroke-width="0.45"/>
<circle cx="632.32" cy="75.13" r="1.45" fill="#ef7d1e" stroke="#1a1a1a" stroke-width="0.45"/>
<circle cx="640.55" cy="75.48" r="1.45" fill="#ef7d1e" stroke="#1a1a1a" stroke-width="0.45"/>
<circle cx="644.29" cy="75.99" r="1.45" fill="#ef7d1e" stroke="#1a1a1a" stroke-width="0.45"/>
<circle cx="639.66" cy="76.56" r="1.45" fill="#ef7d1e" stroke="#1a1a1a" stroke-width="0.45"/>
<circle cx="632.15" cy="77.03" r="1.45" fill="#ef7d1e" stroke="#1a1a1a" stroke-width="0.45"/>
<circle cx="640.45" cy="77.20" r="1.45" fill="#ef7d1e" stroke="#1a1a1a" stroke-width="0.45"/>
<circle cx="643.10" cy="77.57" r="1.45" fill="#ef7d1e" stroke="#1a1a1a" stroke-width="0.45"/>
<circle cx="646.15" cy="78.13" r="1.45" fill="#ef7d1e" stroke="#1a1a1a" stroke-width="0.45"/>
<circle cx="636.19" cy="78.64" r="1.45" fill="#ef7d1e" stroke="#1a1a1a" stroke-width="0.45"/>
<circle cx="637.49" cy="78.81" r="1.45" fill="#ef7d1e" stroke="#1a1a1a" stroke-width="0.45"/>
<circle cx="642.25" cy="79.18" r="1.45" fill="#ef7d1e" stroke="#1a1a1a" stroke-width="0.45"/>
<circle cx="643.45" cy="79.69" r="1.45" fill="#ef7d1e" stroke="#1a1a1a" stroke-width="0.45"/>
<circle cx="640.60" cy="80.43" r="1.45" fill="#ef7d1e" stroke="#1a1a1a" stroke-width="0.45"/>
<circle cx="639.76" cy="80.72" r="1.45" fill="#ef7d1e" stroke="#1a1a1a" stroke-width="0.45"/>
<circle cx="635.44" cy="80.86" r="1.45" fill="#ef7d1e" stroke="#1a1a1a" stroke-width="0.45"/>
<circle cx="631.03" cy="81.35" r="1.45" fill="#ef7d1e" stroke="#1a1a1a" stroke-width="0.45"/>
<circle cx="640.23" cy="81.90" r="1.45" fill="#ef7d1e" stroke="#1a1a1a" stroke-width="0.45"/>
<circle cx="638.60" cy="82.52" r="1.45" fill="#ef7d1e" stroke="#1a1a1a" stroke-width="0.45"/>
<circle cx="632.59" cy="82.66" r="1.45" fill="#ef7d1e" stroke="#1a1a1a" stroke-width="0.45"/>
<circle cx="640.82" cy="83.00" r="1.45" fill="#ef7d1e" stroke="#1a1a1a" stroke-width="0.45"/>
<circle cx="630.54" cy="83.57" r="1.45" fill="#ef7d1e" stroke="#1a1a1a" stroke-width="0.45"/>
<circle cx="632.18" cy="83.99" r="1.45" fill="#ef7d1e" stroke="#1a1a1a" stroke-width="0.45"/>
<circle cx="634.04" cy="84.52" r="1.45" fill="#ef7d1e" stroke="#1a1a1a" stroke-width="0.45"/>
<circle cx="639.81" cy="84.78" r="1.45" fill="#ef7d1e" stroke="#1a1a1a" stroke-width="0.45"/>
<circle cx="640.36" cy="85.32" r="1.45" fill="#ef7d1e" stroke="#1a1a1a" stroke-width="0.45"/>
<circle cx="632.63" cy="85.94" r="1.45" fill="#ef7d1e" stroke="#1a1a1a" stroke-width="0.45"/>
<circle cx="634.35" cy="86.03" r="1.45" fill="#ef7d1e" stroke="#1a1a1a" stroke-width="0.45"/>
<circle cx="632.01" cy="86.67" r="1.45" fill="#ef7d1e" stroke="#1a1a1a" stroke-width="0.45"/>
<circle cx="644.27" cy="87.15" r="1.45" fill="#ef7d1e" stroke="#1a1a1a" stroke-width="0.45"/>
<circle cx="636.85" cy="87.36" r="1.45" fill="#ef7d1e" stroke="#1a1a1a" stroke-width="0.45"/>
<circle cx="630.68" cy="87.95" r="1.45" fill="#ef7d1e" stroke="#1a1a1a" stroke-width="0.45"/>
<circle cx="639.38" cy="88.25" r="1.45" fill="#ef7d1e" stroke="#1a1a1a" stroke-width="0.45"/>
<circle cx="640.70" cy="88.71" r="1.45" fill="#ef7d1e" stroke="#1a1a1a" stroke-width="0.45"/>
<circle cx="645.31" cy="89.26" r="1.45" fill="#ef7d1e" stroke="#1a1a1a" stroke-width="0.45"/>
<circle cx="634.43" cy="89.76" r="1.45" fill="#ef7d1e" stroke="#1a1a1a" stroke-width="0.45"/>
<circle cx="631.20" cy="90.40" r="1.45" fill="#ef7d1e" stroke="#1a1a1a" stroke-width="0.45"/>
<circle cx="636.91" cy="91.19" r="1.45" fill="#ef7d1e" stroke="#1a1a1a" stroke-width="0.45"/>
<circle cx="631.42" cy="92.93" r="1.45" fill="#ef7d1e" stroke="#1a1a1a" stroke-width="0.45"/>
<circle cx="630.70" cy="93.79" r="1.45" fill="#ef7d1e" stroke="#1a1a1a" stroke-width="0.45"/>
<circle cx="645.37" cy="94.46" r="1.45" fill="#ef7d1e" stroke="#1a1a1a" stroke-width="0.45"/>
<circle cx="633.65" cy="96.11" r="1.45" fill="#ef7d1e" stroke="#1a1a1a" stroke-width="0.45"/>
<circle cx="638.51" cy="97.27" r="1.45" fill="#ef7d1e" stroke="#1a1a1a" stroke-width="0.45"/>
<circle cx="643.35" cy="97.87" r="1.45" fill="#ef7d1e" stroke="#1a1a1a" stroke-width="0.45"/>
<circle cx="635.39" cy="99.14" r="1.45" fill="#ef7d1e" stroke="#1a1a1a" stroke-width="0.45"/>
<circle cx="631.27" cy="100.93" r="1.45" fill="#ef7d1e" stroke="#1a1a1a" stroke-width="0.45"/>
<circle cx="642.87" cy="101.85" r="1.45" fill="#ef7d1e" stroke="#1a1a1a" stroke-width="0.45"/>
<circle cx="630.60" cy="103.12" r="1.45" fill="#ef7d1e" stroke="#1a1a1a" stroke-width="0.45"/>
<line x1="569.40" y1="119.50" x2="569.40" y2="122.00" stroke="#686868" stroke-width="0.90" />
<line x1="638.40" y1="119.50" x2="638.40" y2="122.00" stroke="#686868" stroke-width="0.90" />
<text x="569.40" y="132.84" font-size="9.00" text-anchor="middle" fill="#161616" stroke="#161616" stroke-width="0.12" >N</text>
<text x="638.40" y="132.84" font-size="9.00" text-anchor="middle" fill="#161616" stroke="#161616" stroke-width="0.12" >P</text>
<text x="569.40" y="145.24" font-size="9.00" text-anchor="middle" fill="#161616" stroke="#161616" stroke-width="0.12" >(<tspan font-style="italic">n</tspan> = 35)</text>
<text x="638.40" y="145.24" font-size="9.00" text-anchor="middle" fill="#161616" stroke="#161616" stroke-width="0.12" >(<tspan font-style="italic">n</tspan> = 108)</text>
<line x1="56.80" y1="114.80" x2="59.20" y2="114.80" stroke="#686868" stroke-width="0.90" />
<text x="52.60" y="118.18" font-size="9.40" text-anchor="end" fill="#161616" stroke="#161616" stroke-width="0.12" >0</text>
<line x1="56.80" y1="93.10" x2="59.20" y2="93.10" stroke="#686868" stroke-width="0.90" />
<text x="52.60" y="96.48" font-size="9.40" text-anchor="end" fill="#161616" stroke="#161616" stroke-width="0.12" >2,000</text>
<line x1="56.80" y1="71.40" x2="59.20" y2="71.40" stroke="#686868" stroke-width="0.90" />
<text x="52.60" y="74.78" font-size="9.40" text-anchor="end" fill="#161616" stroke="#161616" stroke-width="0.12" >4,000</text>
<line x1="56.80" y1="49.70" x2="59.20" y2="49.70" stroke="#686868" stroke-width="0.90" />
<text x="52.60" y="53.08" font-size="9.40" text-anchor="end" fill="#161616" stroke="#161616" stroke-width="0.12" >6,000</text>
<line x1="56.80" y1="28.00" x2="59.20" y2="28.00" stroke="#686868" stroke-width="0.90" />
<text x="52.60" y="31.38" font-size="9.40" text-anchor="end" fill="#161616" stroke="#161616" stroke-width="0.12" >8,000</text>
<text x="7.90" y="69.17" font-size="8.80" text-anchor="middle" fill="#161616" stroke="#161616" stroke-width="0.12" transform="rotate(-90 7.90 66.00)" >ESTIMATE</text>
<text x="19.60" y="69.33" font-size="9.25" text-anchor="middle" fill="#161616" stroke="#161616" stroke-width="0.12" transform="rotate(-90 19.60 66.00)" >immune infiltration score</text>
<rect x="56.50" y="169.40" width="154.20" height="177.60" stroke="#686868" stroke-width="0.90" fill="none"/>
<text x="133.60" y="164.94" font-size="9.00" text-anchor="middle" fill="#161616" stroke="#161616" stroke-width="0.12" >Basal</text>
<text x="133.30" y="177.31" font-size="7.80" text-anchor="middle" fill="#161616" stroke="#161616" stroke-width="0.04" ><tspan font-style="italic">P</tspan> = 0.036, mean diff = 880</text>
<text x="133.30" y="187.01" font-size="7.80" text-anchor="middle" fill="#161616" stroke="#161616" stroke-width="0.04" >(95% CI = 47–1,700)</text>
<polyline fill="none" stroke="#8a8a8a" stroke-width="0.90" stroke-linejoin="round" points="85.10,193.50 85.10,190.50 181.40,190.50 181.40,193.50" />
<line x1="85.10" y1="201.20" x2="85.10" y2="245.50" stroke="#999" stroke-width="0.90" />
<line x1="85.10" y1="290.50" x2="85.10" y2="318.40" stroke="#999" stroke-width="0.90" />
<rect x="67.50" y="245.50" width="36.00" height="45.00" stroke="#5e5e5e" stroke-width="0.80" fill="none"/>
<line x1="67.50" y1="259.50" x2="103.50" y2="259.50" stroke="#5e5e5e" stroke-width="0.80" />
<circle cx="82.90" cy="201.60" r="1.75" fill="#1f67a6" stroke="#1a1a1a" stroke-width="0.50"/>
<circle cx="86.10" cy="208.30" r="1.75" fill="#1f67a6" stroke="#1a1a1a" stroke-width="0.50"/>
<circle cx="85.20" cy="232.60" r="1.75" fill="#1f67a6" stroke="#1a1a1a" stroke-width="0.50"/>
<circle cx="86.10" cy="233.90" r="1.75" fill="#1f67a6" stroke="#1a1a1a" stroke-width="0.50"/>
<circle cx="86.70" cy="235.80" r="1.75" fill="#1f67a6" stroke="#1a1a1a" stroke-width="0.50"/>
<circle cx="81.40" cy="240.90" r="1.75" fill="#1f67a6" stroke="#1a1a1a" stroke-width="0.50"/>
<circle cx="89.00" cy="241.50" r="1.75" fill="#1f67a6" stroke="#1a1a1a" stroke-width="0.50"/>
<circle cx="88.00" cy="244.30" r="1.75" fill="#1f67a6" stroke="#1a1a1a" stroke-width="0.50"/>
<circle cx="90.50" cy="247.20" r="1.75" fill="#1f67a6" stroke="#1a1a1a" stroke-width="0.50"/>
<circle cx="81.40" cy="247.80" r="1.75" fill="#1f67a6" stroke="#1a1a1a" stroke-width="0.50"/>
<circle cx="81.40" cy="251.00" r="1.75" fill="#1f67a6" stroke="#1a1a1a" stroke-width="0.50"/>
<circle cx="89.00" cy="254.80" r="1.75" fill="#1f67a6" stroke="#1a1a1a" stroke-width="0.50"/>
<circle cx="81.00" cy="255.40" r="1.75" fill="#1f67a6" stroke="#1a1a1a" stroke-width="0.50"/>
<circle cx="84.20" cy="257.60" r="1.75" fill="#1f67a6" stroke="#1a1a1a" stroke-width="0.50"/>
<circle cx="87.10" cy="259.90" r="1.75" fill="#1f67a6" stroke="#1a1a1a" stroke-width="0.50"/>
<circle cx="89.00" cy="261.40" r="1.75" fill="#1f67a6" stroke="#1a1a1a" stroke-width="0.50"/>
<circle cx="83.70" cy="263.30" r="1.75" fill="#1f67a6" stroke="#1a1a1a" stroke-width="0.50"/>
<circle cx="87.50" cy="267.50" r="1.75" fill="#1f67a6" stroke="#1a1a1a" stroke-width="0.50"/>
<circle cx="81.40" cy="276.20" r="1.75" fill="#1f67a6" stroke="#1a1a1a" stroke-width="0.50"/>
<circle cx="88.00" cy="276.20" r="1.75" fill="#1f67a6" stroke="#1a1a1a" stroke-width="0.50"/>
<circle cx="82.30" cy="287.40" r="1.75" fill="#1f67a6" stroke="#1a1a1a" stroke-width="0.50"/>
<circle cx="86.10" cy="285.70" r="1.75" fill="#1f67a6" stroke="#1a1a1a" stroke-width="0.50"/>
<circle cx="83.70" cy="293.30" r="1.75" fill="#1f67a6" stroke="#1a1a1a" stroke-width="0.50"/>
<circle cx="85.60" cy="302.20" r="1.75" fill="#1f67a6" stroke="#1a1a1a" stroke-width="0.50"/>
<circle cx="81.40" cy="307.00" r="1.75" fill="#1f67a6" stroke="#1a1a1a" stroke-width="0.50"/>
<circle cx="80.40" cy="312.70" r="1.75" fill="#1f67a6" stroke="#1a1a1a" stroke-width="0.50"/>
<circle cx="82.90" cy="313.60" r="1.75" fill="#1f67a6" stroke="#1a1a1a" stroke-width="0.50"/>
<circle cx="85.20" cy="313.60" r="1.75" fill="#1f67a6" stroke="#1a1a1a" stroke-width="0.50"/>
<circle cx="88.00" cy="311.70" r="1.75" fill="#1f67a6" stroke="#1a1a1a" stroke-width="0.50"/>
<circle cx="84.20" cy="317.40" r="1.75" fill="#1f67a6" stroke="#1a1a1a" stroke-width="0.50"/>
<circle cx="86.70" cy="312.70" r="1.75" fill="#1f67a6" stroke="#1a1a1a" stroke-width="0.50"/>
<line x1="133.30" y1="209.20" x2="133.30" y2="234.50" stroke="#999" stroke-width="0.90" />
<line x1="133.30" y1="281.50" x2="133.30" y2="325.50" stroke="#999" stroke-width="0.90" />
<rect x="115.50" y="234.50" width="36.00" height="47.00" stroke="#5e5e5e" stroke-width="0.80" fill="none"/>
<line x1="115.50" y1="258.50" x2="151.50" y2="258.50" stroke="#5e5e5e" stroke-width="0.80" />
<circle cx="129.20" cy="209.20" r="1.75" fill="#f2a2a2" stroke="#1a1a1a" stroke-width="0.50"/>
<circle cx="136.00" cy="218.70" r="1.75" fill="#f2a2a2" stroke="#1a1a1a" stroke-width="0.50"/>
<circle cx="129.80" cy="228.20" r="1.75" fill="#f2a2a2" stroke="#1a1a1a" stroke-width="0.50"/>
<circle cx="132.60" cy="230.10" r="1.75" fill="#f2a2a2" stroke="#1a1a1a" stroke-width="0.50"/>
<circle cx="135.50" cy="229.20" r="1.75" fill="#f2a2a2" stroke="#1a1a1a" stroke-width="0.50"/>
<circle cx="137.40" cy="228.80" r="1.75" fill="#f2a2a2" stroke="#1a1a1a" stroke-width="0.50"/>
<circle cx="128.80" cy="233.00" r="1.75" fill="#f2a2a2" stroke="#1a1a1a" stroke-width="0.50"/>
<circle cx="131.70" cy="232.00" r="1.75" fill="#f2a2a2" stroke="#1a1a1a" stroke-width="0.50"/>
<circle cx="134.10" cy="233.90" r="1.75" fill="#f2a2a2" stroke="#1a1a1a" stroke-width="0.50"/>
<circle cx="136.40" cy="234.90" r="1.75" fill="#f2a2a2" stroke="#1a1a1a" stroke-width="0.50"/>
<circle cx="131.10" cy="236.40" r="1.75" fill="#f2a2a2" stroke="#1a1a1a" stroke-width="0.50"/>
<circle cx="134.10" cy="236.40" r="1.75" fill="#f2a2a2" stroke="#1a1a1a" stroke-width="0.50"/>
<circle cx="136.00" cy="237.10" r="1.75" fill="#f2a2a2" stroke="#1a1a1a" stroke-width="0.50"/>
<circle cx="130.40" cy="239.60" r="1.75" fill="#f2a2a2" stroke="#1a1a1a" stroke-width="0.50"/>
<circle cx="130.70" cy="241.50" r="1.75" fill="#f2a2a2" stroke="#1a1a1a" stroke-width="0.50"/>
<circle cx="131.10" cy="245.90" r="1.75" fill="#f2a2a2" stroke="#1a1a1a" stroke-width="0.50"/>
<circle cx="136.00" cy="245.90" r="1.75" fill="#f2a2a2" stroke="#1a1a1a" stroke-width="0.50"/>
<circle cx="132.60" cy="254.40" r="1.75" fill="#f2a2a2" stroke="#1a1a1a" stroke-width="0.50"/>
<circle cx="130.40" cy="259.10" r="1.75" fill="#f2a2a2" stroke="#1a1a1a" stroke-width="0.50"/>
<circle cx="131.70" cy="263.30" r="1.75" fill="#f2a2a2" stroke="#1a1a1a" stroke-width="0.50"/>
<circle cx="134.50" cy="262.40" r="1.75" fill="#f2a2a2" stroke="#1a1a1a" stroke-width="0.50"/>
<circle cx="135.50" cy="265.20" r="1.75" fill="#f2a2a2" stroke="#1a1a1a" stroke-width="0.50"/>
<circle cx="133.60" cy="266.20" r="1.75" fill="#f2a2a2" stroke="#1a1a1a" stroke-width="0.50"/>
<circle cx="131.10" cy="269.00" r="1.75" fill="#f2a2a2" stroke="#1a1a1a" stroke-width="0.50"/>
<circle cx="136.40" cy="270.90" r="1.75" fill="#f2a2a2" stroke="#1a1a1a" stroke-width="0.50"/>
<circle cx="129.80" cy="272.80" r="1.75" fill="#f2a2a2" stroke="#1a1a1a" stroke-width="0.50"/>
<circle cx="131.70" cy="278.90" r="1.75" fill="#f2a2a2" stroke="#1a1a1a" stroke-width="0.50"/>
<circle cx="132.60" cy="280.40" r="1.75" fill="#f2a2a2" stroke="#1a1a1a" stroke-width="0.50"/>
<circle cx="134.50" cy="283.30" r="1.75" fill="#f2a2a2" stroke="#1a1a1a" stroke-width="0.50"/>
<circle cx="133.00" cy="284.20" r="1.75" fill="#f2a2a2" stroke="#1a1a1a" stroke-width="0.50"/>
<circle cx="134.90" cy="287.00" r="1.75" fill="#f2a2a2" stroke="#1a1a1a" stroke-width="0.50"/>
<circle cx="128.80" cy="287.60" r="1.75" fill="#f2a2a2" stroke="#1a1a1a" stroke-width="0.50"/>
<circle cx="130.40" cy="289.00" r="1.75" fill="#f2a2a2" stroke="#1a1a1a" stroke-width="0.50"/>
<circle cx="130.70" cy="293.30" r="1.75" fill="#f2a2a2" stroke="#1a1a1a" stroke-width="0.50"/>
<circle cx="135.50" cy="294.60" r="1.75" fill="#f2a2a2" stroke="#1a1a1a" stroke-width="0.50"/>
<circle cx="131.10" cy="297.90" r="1.75" fill="#f2a2a2" stroke="#1a1a1a" stroke-width="0.50"/>
<circle cx="131.10" cy="315.00" r="1.75" fill="#f2a2a2" stroke="#1a1a1a" stroke-width="0.50"/>
<circle cx="131.70" cy="320.60" r="1.75" fill="#f2a2a2" stroke="#1a1a1a" stroke-width="0.50"/>
<circle cx="133.00" cy="325.00" r="1.75" fill="#f2a2a2" stroke="#1a1a1a" stroke-width="0.50"/>
<circle cx="133.00" cy="231.50" r="1.75" fill="#f2a2a2" stroke="#1a1a1a" stroke-width="0.50"/>
<circle cx="130.00" cy="236.00" r="1.75" fill="#f2a2a2" stroke="#1a1a1a" stroke-width="0.50"/>
<circle cx="135.00" cy="232.50" r="1.75" fill="#f2a2a2" stroke="#1a1a1a" stroke-width="0.50"/>
<circle cx="132.00" cy="234.00" r="1.75" fill="#f2a2a2" stroke="#1a1a1a" stroke-width="0.50"/>
<line x1="181.40" y1="213.00" x2="181.40" y2="233.50" stroke="#999" stroke-width="0.90" />
<line x1="181.40" y1="270.50" x2="181.40" y2="296.00" stroke="#999" stroke-width="0.90" />
<rect x="163.50" y="233.50" width="36.00" height="37.00" stroke="#5e5e5e" stroke-width="0.80" fill="none"/>
<line x1="163.50" y1="247.50" x2="199.50" y2="247.50" stroke="#5e5e5e" stroke-width="0.80" />
<circle cx="183.50" cy="213.60" r="1.75" fill="#ef7d1e" stroke="#1a1a1a" stroke-width="0.50"/>
<circle cx="179.10" cy="217.40" r="1.75" fill="#ef7d1e" stroke="#1a1a1a" stroke-width="0.50"/>
<circle cx="186.20" cy="218.20" r="1.75" fill="#ef7d1e" stroke="#1a1a1a" stroke-width="0.50"/>
<circle cx="182.40" cy="219.30" r="1.75" fill="#ef7d1e" stroke="#1a1a1a" stroke-width="0.50"/>
<circle cx="177.80" cy="223.80" r="1.75" fill="#ef7d1e" stroke="#1a1a1a" stroke-width="0.50"/>
<circle cx="186.20" cy="225.40" r="1.75" fill="#ef7d1e" stroke="#1a1a1a" stroke-width="0.50"/>
<circle cx="179.10" cy="226.30" r="1.75" fill="#ef7d1e" stroke="#1a1a1a" stroke-width="0.50"/>
<circle cx="183.90" cy="229.50" r="1.75" fill="#ef7d1e" stroke="#1a1a1a" stroke-width="0.50"/>
<circle cx="177.20" cy="230.70" r="1.75" fill="#ef7d1e" stroke="#1a1a1a" stroke-width="0.50"/>
<circle cx="181.60" cy="232.00" r="1.75" fill="#ef7d1e" stroke="#1a1a1a" stroke-width="0.50"/>
<circle cx="185.40" cy="233.00" r="1.75" fill="#ef7d1e" stroke="#1a1a1a" stroke-width="0.50"/>
<circle cx="179.70" cy="234.90" r="1.75" fill="#ef7d1e" stroke="#1a1a1a" stroke-width="0.50"/>
<circle cx="182.90" cy="235.80" r="1.75" fill="#ef7d1e" stroke="#1a1a1a" stroke-width="0.50"/>
<circle cx="185.40" cy="236.80" r="1.75" fill="#ef7d1e" stroke="#1a1a1a" stroke-width="0.50"/>
<circle cx="178.60" cy="237.70" r="1.75" fill="#ef7d1e" stroke="#1a1a1a" stroke-width="0.50"/>
<circle cx="182.40" cy="239.00" r="1.75" fill="#ef7d1e" stroke="#1a1a1a" stroke-width="0.50"/>
<circle cx="184.80" cy="239.60" r="1.75" fill="#ef7d1e" stroke="#1a1a1a" stroke-width="0.50"/>
<circle cx="177.80" cy="240.90" r="1.75" fill="#ef7d1e" stroke="#1a1a1a" stroke-width="0.50"/>
<circle cx="180.10" cy="242.40" r="1.75" fill="#ef7d1e" stroke="#1a1a1a" stroke-width="0.50"/>
<circle cx="178.20" cy="244.70" r="1.75" fill="#ef7d1e" stroke="#1a1a1a" stroke-width="0.50"/>
<circle cx="184.80" cy="244.70" r="1.75" fill="#ef7d1e" stroke="#1a1a1a" stroke-width="0.50"/>
<circle cx="181.00" cy="248.10" r="1.75" fill="#ef7d1e" stroke="#1a1a1a" stroke-width="0.50"/>
<circle cx="183.90" cy="250.00" r="1.75" fill="#ef7d1e" stroke="#1a1a1a" stroke-width="0.50"/>
<circle cx="179.10" cy="251.00" r="1.75" fill="#ef7d1e" stroke="#1a1a1a" stroke-width="0.50"/>
<circle cx="183.90" cy="251.90" r="1.75" fill="#ef7d1e" stroke="#1a1a1a" stroke-width="0.50"/>
<circle cx="185.40" cy="253.80" r="1.75" fill="#ef7d1e" stroke="#1a1a1a" stroke-width="0.50"/>
<circle cx="179.10" cy="257.60" r="1.75" fill="#ef7d1e" stroke="#1a1a1a" stroke-width="0.50"/>
<circle cx="177.20" cy="259.50" r="1.75" fill="#ef7d1e" stroke="#1a1a1a" stroke-width="0.50"/>
<circle cx="184.80" cy="263.30" r="1.75" fill="#ef7d1e" stroke="#1a1a1a" stroke-width="0.50"/>
<circle cx="179.70" cy="266.20" r="1.75" fill="#ef7d1e" stroke="#1a1a1a" stroke-width="0.50"/>
<circle cx="178.20" cy="267.10" r="1.75" fill="#ef7d1e" stroke="#1a1a1a" stroke-width="0.50"/>
<circle cx="182.00" cy="272.40" r="1.75" fill="#ef7d1e" stroke="#1a1a1a" stroke-width="0.50"/>
<circle cx="177.20" cy="275.10" r="1.75" fill="#ef7d1e" stroke="#1a1a1a" stroke-width="0.50"/>
<circle cx="179.10" cy="276.20" r="1.75" fill="#ef7d1e" stroke="#1a1a1a" stroke-width="0.50"/>
<circle cx="182.40" cy="277.00" r="1.75" fill="#ef7d1e" stroke="#1a1a1a" stroke-width="0.50"/>
<circle cx="184.80" cy="278.50" r="1.75" fill="#ef7d1e" stroke="#1a1a1a" stroke-width="0.50"/>
<circle cx="178.60" cy="280.00" r="1.75" fill="#ef7d1e" stroke="#1a1a1a" stroke-width="0.50"/>
<circle cx="184.80" cy="280.80" r="1.75" fill="#ef7d1e" stroke="#1a1a1a" stroke-width="0.50"/>
<circle cx="182.00" cy="283.30" r="1.75" fill="#ef7d1e" stroke="#1a1a1a" stroke-width="0.50"/>
<circle cx="180.10" cy="289.90" r="1.75" fill="#ef7d1e" stroke="#1a1a1a" stroke-width="0.50"/>
<circle cx="182.00" cy="290.80" r="1.75" fill="#ef7d1e" stroke="#1a1a1a" stroke-width="0.50"/>
<circle cx="186.20" cy="295.20" r="1.75" fill="#ef7d1e" stroke="#1a1a1a" stroke-width="0.50"/>
<circle cx="184.08" cy="217.73" r="1.75" fill="#ef7d1e" stroke="#1a1a1a" stroke-width="0.50"/>
<circle cx="184.05" cy="223.53" r="1.75" fill="#ef7d1e" stroke="#1a1a1a" stroke-width="0.50"/>
<circle cx="179.15" cy="227.37" r="1.75" fill="#ef7d1e" stroke="#1a1a1a" stroke-width="0.50"/>
<circle cx="179.21" cy="232.85" r="1.75" fill="#ef7d1e" stroke="#1a1a1a" stroke-width="0.50"/>
<circle cx="180.19" cy="242.90" r="1.75" fill="#ef7d1e" stroke="#1a1a1a" stroke-width="0.50"/>
<circle cx="183.60" cy="249.34" r="1.75" fill="#ef7d1e" stroke="#1a1a1a" stroke-width="0.50"/>
<circle cx="183.76" cy="251.81" r="1.75" fill="#ef7d1e" stroke="#1a1a1a" stroke-width="0.50"/>
<circle cx="182.26" cy="258.69" r="1.75" fill="#ef7d1e" stroke="#1a1a1a" stroke-width="0.50"/>
<line x1="85.10" y1="347.00" x2="85.10" y2="349.50" stroke="#686868" stroke-width="0.90" />
<line x1="133.30" y1="347.00" x2="133.30" y2="349.50" stroke="#686868" stroke-width="0.90" />
<line x1="181.40" y1="347.00" x2="181.40" y2="349.50" stroke="#686868" stroke-width="0.90" />
<text x="85.10" y="361.74" font-size="9.00" text-anchor="middle" fill="#161616" stroke="#161616" stroke-width="0.12" >N</text>
<text x="85.10" y="373.04" font-size="9.00" text-anchor="middle" fill="#161616" stroke="#161616" stroke-width="0.12" >(<tspan font-style="italic">n</tspan> = 31)</text>
<text x="133.30" y="361.74" font-size="9.00" text-anchor="middle" fill="#161616" stroke="#161616" stroke-width="0.12" >P (no-BF)</text>
<text x="133.30" y="373.04" font-size="9.00" text-anchor="middle" fill="#161616" stroke="#161616" stroke-width="0.12" >(<tspan font-style="italic">n</tspan> = 43)</text>
<text x="181.40" y="361.74" font-size="9.00" text-anchor="middle" fill="#161616" stroke="#161616" stroke-width="0.12" >P (BF)</text>
<text x="181.40" y="373.04" font-size="9.00" text-anchor="middle" fill="#161616" stroke="#161616" stroke-width="0.12" >(<tspan font-style="italic">n</tspan> = 50)</text>
<rect x="214.50" y="170.00" width="153.90" height="177.00" stroke="#686868" stroke-width="0.90" fill="none"/>
<text x="291.45" y="164.94" font-size="9.00" text-anchor="middle" fill="#161616" stroke="#161616" stroke-width="0.12" >Her2</text>
<text x="291.40" y="177.31" font-size="7.80" text-anchor="middle" fill="#161616" stroke="#161616" stroke-width="0.04" ><tspan font-style="italic">P</tspan> = 0.64, mean diff = 260</text>
<text x="291.40" y="187.01" font-size="7.80" text-anchor="middle" fill="#161616" stroke="#161616" stroke-width="0.04" >(95% CI = −920–410)</text>
<polyline fill="none" stroke="#8a8a8a" stroke-width="0.90" stroke-linejoin="round" points="242.80,193.50 242.80,190.50 339.80,190.50 339.80,193.50" />
<line x1="242.80" y1="201.50" x2="242.80" y2="242.50" stroke="#999" stroke-width="0.90" />
<line x1="242.80" y1="270.50" x2="242.80" y2="305.80" stroke="#999" stroke-width="0.90" />
<rect x="225.50" y="242.50" width="36.00" height="28.00" stroke="#5e5e5e" stroke-width="0.80" fill="none"/>
<line x1="225.50" y1="254.50" x2="261.50" y2="254.50" stroke="#5e5e5e" stroke-width="0.80" />
<circle cx="242.50" cy="201.60" r="1.75" fill="#1f67a6" stroke="#1a1a1a" stroke-width="0.50"/>
<circle cx="246.40" cy="210.80" r="1.75" fill="#1f67a6" stroke="#1a1a1a" stroke-width="0.50"/>
<circle cx="246.30" cy="218.20" r="1.75" fill="#1f67a6" stroke="#1a1a1a" stroke-width="0.50"/>
<circle cx="243.60" cy="223.10" r="1.75" fill="#1f67a6" stroke="#1a1a1a" stroke-width="0.50"/>
<circle cx="239.20" cy="228.20" r="1.75" fill="#1f67a6" stroke="#1a1a1a" stroke-width="0.50"/>
<circle cx="244.50" cy="231.10" r="1.75" fill="#1f67a6" stroke="#1a1a1a" stroke-width="0.50"/>
<circle cx="242.70" cy="236.20" r="1.75" fill="#1f67a6" stroke="#1a1a1a" stroke-width="0.50"/>
<circle cx="245.50" cy="244.70" r="1.75" fill="#1f67a6" stroke="#1a1a1a" stroke-width="0.50"/>
<circle cx="247.80" cy="246.60" r="1.75" fill="#1f67a6" stroke="#1a1a1a" stroke-width="0.50"/>
<circle cx="244.90" cy="250.40" r="1.75" fill="#1f67a6" stroke="#1a1a1a" stroke-width="0.50"/>
<circle cx="247.80" cy="250.00" r="1.75" fill="#1f67a6" stroke="#1a1a1a" stroke-width="0.50"/>
<circle cx="239.80" cy="251.60" r="1.75" fill="#1f67a6" stroke="#1a1a1a" stroke-width="0.50"/>
<circle cx="240.20" cy="253.50" r="1.75" fill="#1f67a6" stroke="#1a1a1a" stroke-width="0.50"/>
<circle cx="239.20" cy="255.40" r="1.75" fill="#1f67a6" stroke="#1a1a1a" stroke-width="0.50"/>
<circle cx="239.20" cy="261.80" r="1.75" fill="#1f67a6" stroke="#1a1a1a" stroke-width="0.50"/>
<circle cx="245.90" cy="263.30" r="1.75" fill="#1f67a6" stroke="#1a1a1a" stroke-width="0.50"/>
<circle cx="247.40" cy="263.30" r="1.75" fill="#1f67a6" stroke="#1a1a1a" stroke-width="0.50"/>
<circle cx="245.50" cy="269.60" r="1.75" fill="#1f67a6" stroke="#1a1a1a" stroke-width="0.50"/>
<circle cx="247.40" cy="272.80" r="1.75" fill="#1f67a6" stroke="#1a1a1a" stroke-width="0.50"/>
<circle cx="246.80" cy="275.70" r="1.75" fill="#1f67a6" stroke="#1a1a1a" stroke-width="0.50"/>
<circle cx="248.20" cy="277.90" r="1.75" fill="#1f67a6" stroke="#1a1a1a" stroke-width="0.50"/>
<circle cx="246.30" cy="281.90" r="1.75" fill="#1f67a6" stroke="#1a1a1a" stroke-width="0.50"/>
<circle cx="241.70" cy="288.40" r="1.75" fill="#1f67a6" stroke="#1a1a1a" stroke-width="0.50"/>
<circle cx="241.70" cy="306.00" r="1.75" fill="#1f67a6" stroke="#1a1a1a" stroke-width="0.50"/>
<circle cx="243.00" cy="257.00" r="1.75" fill="#1f67a6" stroke="#1a1a1a" stroke-width="0.50"/>
<circle cx="246.00" cy="266.00" r="1.75" fill="#1f67a6" stroke="#1a1a1a" stroke-width="0.50"/>
<circle cx="241.00" cy="272.00" r="1.75" fill="#1f67a6" stroke="#1a1a1a" stroke-width="0.50"/>
<circle cx="244.00" cy="284.00" r="1.75" fill="#1f67a6" stroke="#1a1a1a" stroke-width="0.50"/>
<line x1="291.40" y1="214.60" x2="291.40" y2="249.50" stroke="#999" stroke-width="0.90" />
<line x1="291.40" y1="273.50" x2="291.40" y2="302.10" stroke="#999" stroke-width="0.90" />
<rect x="273.50" y="249.50" width="36.00" height="24.00" stroke="#5e5e5e" stroke-width="0.80" fill="none"/>
<line x1="273.50" y1="260.50" x2="309.50" y2="260.50" stroke="#5e5e5e" stroke-width="0.80" />
<circle cx="293.70" cy="214.50" r="1.75" fill="#f2a2a2" stroke="#1a1a1a" stroke-width="0.50"/>
<circle cx="287.60" cy="222.00" r="1.75" fill="#f2a2a2" stroke="#1a1a1a" stroke-width="0.50"/>
<circle cx="291.40" cy="221.20" r="1.75" fill="#f2a2a2" stroke="#1a1a1a" stroke-width="0.50"/>
<circle cx="295.20" cy="228.80" r="1.75" fill="#f2a2a2" stroke="#1a1a1a" stroke-width="0.50"/>
<circle cx="292.40" cy="235.20" r="1.75" fill="#f2a2a2" stroke="#1a1a1a" stroke-width="0.50"/>
<circle cx="286.70" cy="241.50" r="1.75" fill="#f2a2a2" stroke="#1a1a1a" stroke-width="0.50"/>
<circle cx="289.50" cy="242.40" r="1.75" fill="#f2a2a2" stroke="#1a1a1a" stroke-width="0.50"/>
<circle cx="293.30" cy="240.90" r="1.75" fill="#f2a2a2" stroke="#1a1a1a" stroke-width="0.50"/>
<circle cx="296.20" cy="244.70" r="1.75" fill="#f2a2a2" stroke="#1a1a1a" stroke-width="0.50"/>
<circle cx="291.40" cy="280.00" r="1.75" fill="#f2a2a2" stroke="#1a1a1a" stroke-width="0.50"/>
<circle cx="295.80" cy="281.00" r="1.75" fill="#f2a2a2" stroke="#1a1a1a" stroke-width="0.50"/>
<circle cx="295.00" cy="283.00" r="1.75" fill="#f2a2a2" stroke="#1a1a1a" stroke-width="0.50"/>
<circle cx="296.20" cy="284.60" r="1.75" fill="#f2a2a2" stroke="#1a1a1a" stroke-width="0.50"/>
<circle cx="289.50" cy="285.20" r="1.75" fill="#f2a2a2" stroke="#1a1a1a" stroke-width="0.50"/>
<circle cx="287.60" cy="291.80" r="1.75" fill="#f2a2a2" stroke="#1a1a1a" stroke-width="0.50"/>
<circle cx="296.20" cy="293.70" r="1.75" fill="#f2a2a2" stroke="#1a1a1a" stroke-width="0.50"/>
<circle cx="291.80" cy="295.60" r="1.75" fill="#f2a2a2" stroke="#1a1a1a" stroke-width="0.50"/>
<circle cx="287.60" cy="299.00" r="1.75" fill="#f2a2a2" stroke="#1a1a1a" stroke-width="0.50"/>
<circle cx="291.00" cy="301.70" r="1.75" fill="#f2a2a2" stroke="#1a1a1a" stroke-width="0.50"/>
<circle cx="294.28" cy="248.40" r="1.75" fill="#f2a2a2" stroke="#1a1a1a" stroke-width="0.50"/>
<circle cx="288.79" cy="249.27" r="1.75" fill="#f2a2a2" stroke="#1a1a1a" stroke-width="0.50"/>
<circle cx="296.13" cy="249.71" r="1.75" fill="#f2a2a2" stroke="#1a1a1a" stroke-width="0.50"/>
<circle cx="295.24" cy="250.33" r="1.75" fill="#f2a2a2" stroke="#1a1a1a" stroke-width="0.50"/>
<circle cx="288.73" cy="251.27" r="1.75" fill="#f2a2a2" stroke="#1a1a1a" stroke-width="0.50"/>
<circle cx="293.81" cy="252.59" r="1.75" fill="#f2a2a2" stroke="#1a1a1a" stroke-width="0.50"/>
<circle cx="293.83" cy="252.88" r="1.75" fill="#f2a2a2" stroke="#1a1a1a" stroke-width="0.50"/>
<circle cx="295.24" cy="253.65" r="1.75" fill="#f2a2a2" stroke="#1a1a1a" stroke-width="0.50"/>
<circle cx="288.51" cy="254.87" r="1.75" fill="#f2a2a2" stroke="#1a1a1a" stroke-width="0.50"/>
<circle cx="292.62" cy="255.48" r="1.75" fill="#f2a2a2" stroke="#1a1a1a" stroke-width="0.50"/>
<circle cx="292.98" cy="256.47" r="1.75" fill="#f2a2a2" stroke="#1a1a1a" stroke-width="0.50"/>
<circle cx="290.93" cy="257.13" r="1.75" fill="#f2a2a2" stroke="#1a1a1a" stroke-width="0.50"/>
<circle cx="293.32" cy="257.92" r="1.75" fill="#f2a2a2" stroke="#1a1a1a" stroke-width="0.50"/>
<circle cx="290.59" cy="258.59" r="1.75" fill="#f2a2a2" stroke="#1a1a1a" stroke-width="0.50"/>
<circle cx="291.99" cy="259.04" r="1.75" fill="#f2a2a2" stroke="#1a1a1a" stroke-width="0.50"/>
<circle cx="288.23" cy="260.05" r="1.75" fill="#f2a2a2" stroke="#1a1a1a" stroke-width="0.50"/>
<circle cx="286.82" cy="261.05" r="1.75" fill="#f2a2a2" stroke="#1a1a1a" stroke-width="0.50"/>
<circle cx="287.52" cy="261.14" r="1.75" fill="#f2a2a2" stroke="#1a1a1a" stroke-width="0.50"/>
<circle cx="287.12" cy="262.60" r="1.75" fill="#f2a2a2" stroke="#1a1a1a" stroke-width="0.50"/>
<circle cx="289.62" cy="262.77" r="1.75" fill="#f2a2a2" stroke="#1a1a1a" stroke-width="0.50"/>
<circle cx="286.30" cy="263.46" r="1.75" fill="#f2a2a2" stroke="#1a1a1a" stroke-width="0.50"/>
<circle cx="293.27" cy="264.69" r="1.75" fill="#f2a2a2" stroke="#1a1a1a" stroke-width="0.50"/>
<circle cx="293.32" cy="265.54" r="1.75" fill="#f2a2a2" stroke="#1a1a1a" stroke-width="0.50"/>
<circle cx="286.69" cy="266.20" r="1.75" fill="#f2a2a2" stroke="#1a1a1a" stroke-width="0.50"/>
<circle cx="289.82" cy="267.14" r="1.75" fill="#f2a2a2" stroke="#1a1a1a" stroke-width="0.50"/>
<circle cx="294.61" cy="267.97" r="1.75" fill="#f2a2a2" stroke="#1a1a1a" stroke-width="0.50"/>
<circle cx="286.69" cy="268.73" r="1.75" fill="#f2a2a2" stroke="#1a1a1a" stroke-width="0.50"/>
<circle cx="295.60" cy="269.56" r="1.75" fill="#f2a2a2" stroke="#1a1a1a" stroke-width="0.50"/>
<circle cx="287.12" cy="269.76" r="1.75" fill="#f2a2a2" stroke="#1a1a1a" stroke-width="0.50"/>
<circle cx="287.18" cy="270.40" r="1.75" fill="#f2a2a2" stroke="#1a1a1a" stroke-width="0.50"/>
<circle cx="294.90" cy="271.77" r="1.75" fill="#f2a2a2" stroke="#1a1a1a" stroke-width="0.50"/>
<circle cx="292.66" cy="272.55" r="1.75" fill="#f2a2a2" stroke="#1a1a1a" stroke-width="0.50"/>
<circle cx="292.63" cy="272.91" r="1.75" fill="#f2a2a2" stroke="#1a1a1a" stroke-width="0.50"/>
<circle cx="287.05" cy="273.53" r="1.75" fill="#f2a2a2" stroke="#1a1a1a" stroke-width="0.50"/>
<circle cx="293.95" cy="274.39" r="1.75" fill="#f2a2a2" stroke="#1a1a1a" stroke-width="0.50"/>
<line x1="339.80" y1="214.60" x2="339.80" y2="240.50" stroke="#999" stroke-width="0.90" />
<line x1="339.80" y1="276.50" x2="339.80" y2="297.40" stroke="#999" stroke-width="0.90" />
<rect x="321.50" y="240.50" width="36.00" height="36.00" stroke="#5e5e5e" stroke-width="0.80" fill="none"/>
<line x1="321.50" y1="260.50" x2="357.50" y2="260.50" stroke="#5e5e5e" stroke-width="0.80" />
<circle cx="341.20" cy="214.50" r="1.75" fill="#ef7d1e" stroke="#1a1a1a" stroke-width="0.50"/>
<circle cx="336.00" cy="218.30" r="1.75" fill="#ef7d1e" stroke="#1a1a1a" stroke-width="0.50"/>
<circle cx="338.19" cy="226.57" r="1.75" fill="#ef7d1e" stroke="#1a1a1a" stroke-width="0.50"/>
<circle cx="335.21" cy="227.68" r="1.75" fill="#ef7d1e" stroke="#1a1a1a" stroke-width="0.50"/>
<circle cx="337.83" cy="229.62" r="1.75" fill="#ef7d1e" stroke="#1a1a1a" stroke-width="0.50"/>
<circle cx="338.68" cy="230.43" r="1.75" fill="#ef7d1e" stroke="#1a1a1a" stroke-width="0.50"/>
<circle cx="344.64" cy="232.00" r="1.75" fill="#ef7d1e" stroke="#1a1a1a" stroke-width="0.50"/>
<circle cx="343.51" cy="233.49" r="1.75" fill="#ef7d1e" stroke="#1a1a1a" stroke-width="0.50"/>
<circle cx="335.31" cy="234.55" r="1.75" fill="#ef7d1e" stroke="#1a1a1a" stroke-width="0.50"/>
<circle cx="339.36" cy="236.36" r="1.75" fill="#ef7d1e" stroke="#1a1a1a" stroke-width="0.50"/>
<circle cx="338.47" cy="237.61" r="1.75" fill="#ef7d1e" stroke="#1a1a1a" stroke-width="0.50"/>
<circle cx="340.38" cy="238.29" r="1.75" fill="#ef7d1e" stroke="#1a1a1a" stroke-width="0.50"/>
<circle cx="343.62" cy="239.45" r="1.75" fill="#ef7d1e" stroke="#1a1a1a" stroke-width="0.50"/>
<circle cx="343.20" cy="240.89" r="1.75" fill="#ef7d1e" stroke="#1a1a1a" stroke-width="0.50"/>
<circle cx="335.01" cy="242.20" r="1.75" fill="#ef7d1e" stroke="#1a1a1a" stroke-width="0.50"/>
<circle cx="343.00" cy="243.94" r="1.75" fill="#ef7d1e" stroke="#1a1a1a" stroke-width="0.50"/>
<circle cx="335.05" cy="244.45" r="1.75" fill="#ef7d1e" stroke="#1a1a1a" stroke-width="0.50"/>
<circle cx="340.16" cy="245.73" r="1.75" fill="#ef7d1e" stroke="#1a1a1a" stroke-width="0.50"/>
<circle cx="336.94" cy="246.42" r="1.75" fill="#ef7d1e" stroke="#1a1a1a" stroke-width="0.50"/>
<circle cx="338.65" cy="247.73" r="1.75" fill="#ef7d1e" stroke="#1a1a1a" stroke-width="0.50"/>
<circle cx="337.74" cy="248.82" r="1.75" fill="#ef7d1e" stroke="#1a1a1a" stroke-width="0.50"/>
<circle cx="337.98" cy="249.09" r="1.75" fill="#ef7d1e" stroke="#1a1a1a" stroke-width="0.50"/>
<circle cx="342.34" cy="250.35" r="1.75" fill="#ef7d1e" stroke="#1a1a1a" stroke-width="0.50"/>
<circle cx="336.15" cy="251.47" r="1.75" fill="#ef7d1e" stroke="#1a1a1a" stroke-width="0.50"/>
<circle cx="335.85" cy="252.60" r="1.75" fill="#ef7d1e" stroke="#1a1a1a" stroke-width="0.50"/>
<circle cx="342.32" cy="253.58" r="1.75" fill="#ef7d1e" stroke="#1a1a1a" stroke-width="0.50"/>
<circle cx="341.59" cy="254.14" r="1.75" fill="#ef7d1e" stroke="#1a1a1a" stroke-width="0.50"/>
<circle cx="339.21" cy="255.16" r="1.75" fill="#ef7d1e" stroke="#1a1a1a" stroke-width="0.50"/>
<circle cx="344.35" cy="255.84" r="1.75" fill="#ef7d1e" stroke="#1a1a1a" stroke-width="0.50"/>
<circle cx="344.33" cy="256.76" r="1.75" fill="#ef7d1e" stroke="#1a1a1a" stroke-width="0.50"/>
<circle cx="337.16" cy="257.98" r="1.75" fill="#ef7d1e" stroke="#1a1a1a" stroke-width="0.50"/>
<circle cx="344.46" cy="259.19" r="1.75" fill="#ef7d1e" stroke="#1a1a1a" stroke-width="0.50"/>
<circle cx="338.98" cy="260.55" r="1.75" fill="#ef7d1e" stroke="#1a1a1a" stroke-width="0.50"/>
<circle cx="337.45" cy="261.12" r="1.75" fill="#ef7d1e" stroke="#1a1a1a" stroke-width="0.50"/>
<circle cx="340.58" cy="262.39" r="1.75" fill="#ef7d1e" stroke="#1a1a1a" stroke-width="0.50"/>
<circle cx="342.91" cy="263.27" r="1.75" fill="#ef7d1e" stroke="#1a1a1a" stroke-width="0.50"/>
<circle cx="338.66" cy="263.93" r="1.75" fill="#ef7d1e" stroke="#1a1a1a" stroke-width="0.50"/>
<circle cx="336.63" cy="265.42" r="1.75" fill="#ef7d1e" stroke="#1a1a1a" stroke-width="0.50"/>
<circle cx="341.95" cy="266.31" r="1.75" fill="#ef7d1e" stroke="#1a1a1a" stroke-width="0.50"/>
<circle cx="336.78" cy="266.99" r="1.75" fill="#ef7d1e" stroke="#1a1a1a" stroke-width="0.50"/>
<circle cx="343.12" cy="268.11" r="1.75" fill="#ef7d1e" stroke="#1a1a1a" stroke-width="0.50"/>
<circle cx="336.32" cy="268.98" r="1.75" fill="#ef7d1e" stroke="#1a1a1a" stroke-width="0.50"/>
<circle cx="344.29" cy="269.74" r="1.75" fill="#ef7d1e" stroke="#1a1a1a" stroke-width="0.50"/>
<circle cx="337.01" cy="270.79" r="1.75" fill="#ef7d1e" stroke="#1a1a1a" stroke-width="0.50"/>
<circle cx="342.38" cy="272.30" r="1.75" fill="#ef7d1e" stroke="#1a1a1a" stroke-width="0.50"/>
<circle cx="336.62" cy="272.61" r="1.75" fill="#ef7d1e" stroke="#1a1a1a" stroke-width="0.50"/>
<circle cx="337.60" cy="273.76" r="1.75" fill="#ef7d1e" stroke="#1a1a1a" stroke-width="0.50"/>
<circle cx="340.48" cy="274.58" r="1.75" fill="#ef7d1e" stroke="#1a1a1a" stroke-width="0.50"/>
<circle cx="338.44" cy="275.59" r="1.75" fill="#ef7d1e" stroke="#1a1a1a" stroke-width="0.50"/>
<circle cx="345.24" cy="277.10" r="1.75" fill="#ef7d1e" stroke="#1a1a1a" stroke-width="0.50"/>
<circle cx="336.07" cy="278.31" r="1.75" fill="#ef7d1e" stroke="#1a1a1a" stroke-width="0.50"/>
<circle cx="336.07" cy="278.73" r="1.75" fill="#ef7d1e" stroke="#1a1a1a" stroke-width="0.50"/>
<circle cx="345.33" cy="280.11" r="1.75" fill="#ef7d1e" stroke="#1a1a1a" stroke-width="0.50"/>
<circle cx="342.70" cy="280.74" r="1.75" fill="#ef7d1e" stroke="#1a1a1a" stroke-width="0.50"/>
<circle cx="337.06" cy="281.93" r="1.75" fill="#ef7d1e" stroke="#1a1a1a" stroke-width="0.50"/>
<circle cx="336.12" cy="282.48" r="1.75" fill="#ef7d1e" stroke="#1a1a1a" stroke-width="0.50"/>
<circle cx="339.08" cy="283.30" r="1.75" fill="#ef7d1e" stroke="#1a1a1a" stroke-width="0.50"/>
<circle cx="339.19" cy="285.02" r="1.75" fill="#ef7d1e" stroke="#1a1a1a" stroke-width="0.50"/>
<circle cx="342.28" cy="285.72" r="1.75" fill="#ef7d1e" stroke="#1a1a1a" stroke-width="0.50"/>
<circle cx="341.64" cy="286.67" r="1.75" fill="#ef7d1e" stroke="#1a1a1a" stroke-width="0.50"/>
<circle cx="336.49" cy="287.79" r="1.75" fill="#ef7d1e" stroke="#1a1a1a" stroke-width="0.50"/>
<circle cx="339.25" cy="288.90" r="1.75" fill="#ef7d1e" stroke="#1a1a1a" stroke-width="0.50"/>
<circle cx="344.53" cy="289.58" r="1.75" fill="#ef7d1e" stroke="#1a1a1a" stroke-width="0.50"/>
<circle cx="341.03" cy="290.88" r="1.75" fill="#ef7d1e" stroke="#1a1a1a" stroke-width="0.50"/>
<circle cx="339.42" cy="291.35" r="1.75" fill="#ef7d1e" stroke="#1a1a1a" stroke-width="0.50"/>
<circle cx="342.58" cy="292.97" r="1.75" fill="#ef7d1e" stroke="#1a1a1a" stroke-width="0.50"/>
<circle cx="343.13" cy="293.78" r="1.75" fill="#ef7d1e" stroke="#1a1a1a" stroke-width="0.50"/>
<circle cx="343.95" cy="294.74" r="1.75" fill="#ef7d1e" stroke="#1a1a1a" stroke-width="0.50"/>
<circle cx="341.74" cy="295.50" r="1.75" fill="#ef7d1e" stroke="#1a1a1a" stroke-width="0.50"/>
<circle cx="338.29" cy="296.65" r="1.75" fill="#ef7d1e" stroke="#1a1a1a" stroke-width="0.50"/>
<circle cx="336.03" cy="297.43" r="1.75" fill="#ef7d1e" stroke="#1a1a1a" stroke-width="0.50"/>
<line x1="242.80" y1="347.00" x2="242.80" y2="349.50" stroke="#686868" stroke-width="0.90" />
<line x1="291.40" y1="347.00" x2="291.40" y2="349.50" stroke="#686868" stroke-width="0.90" />
<line x1="339.80" y1="347.00" x2="339.80" y2="349.50" stroke="#686868" stroke-width="0.90" />
<text x="242.80" y="361.74" font-size="9.00" text-anchor="middle" fill="#161616" stroke="#161616" stroke-width="0.12" >N</text>
<text x="242.80" y="373.04" font-size="9.00" text-anchor="middle" fill="#161616" stroke="#161616" stroke-width="0.12" >(<tspan font-style="italic">n</tspan> = 28)</text>
<text x="291.40" y="361.74" font-size="9.00" text-anchor="middle" fill="#161616" stroke="#161616" stroke-width="0.12" >P (no-BF)</text>
<text x="291.40" y="373.04" font-size="9.00" text-anchor="middle" fill="#161616" stroke="#161616" stroke-width="0.12" >(<tspan font-style="italic">n</tspan> = 54)</text>
<text x="339.80" y="361.74" font-size="9.00" text-anchor="middle" fill="#161616" stroke="#161616" stroke-width="0.12" >P (BF)</text>
<text x="339.80" y="373.04" font-size="9.00" text-anchor="middle" fill="#161616" stroke="#161616" stroke-width="0.12" >(<tspan font-style="italic">n</tspan> = 71)</text>
<rect x="372.60" y="170.00" width="153.70" height="177.00" stroke="#686868" stroke-width="0.90" fill="none"/>
<text x="449.45" y="164.94" font-size="9.00" text-anchor="middle" fill="#161616" stroke="#161616" stroke-width="0.12" >LumA</text>
<text x="449.30" y="177.31" font-size="7.80" text-anchor="middle" fill="#161616" stroke="#161616" stroke-width="0.04" ><tspan font-style="italic">P</tspan> = 0.71, mean diff = −160</text>
<text x="449.30" y="187.01" font-size="7.80" text-anchor="middle" fill="#161616" stroke="#161616" stroke-width="0.04" >(95% CI = −310–620)</text>
<polyline fill="none" stroke="#8a8a8a" stroke-width="0.90" stroke-linejoin="round" points="401.30,193.50 401.30,190.50 497.40,190.50 497.40,193.50" />
<line x1="401.30" y1="228.00" x2="401.30" y2="265.50" stroke="#999" stroke-width="0.90" />
<line x1="401.30" y1="291.50" x2="401.30" y2="328.10" stroke="#999" stroke-width="0.90" />
<rect x="383.50" y="265.50" width="36.00" height="26.00" stroke="#5e5e5e" stroke-width="0.80" fill="none"/>
<line x1="383.50" y1="279.50" x2="419.50" y2="279.50" stroke="#5e5e5e" stroke-width="0.80" />
<circle cx="402.50" cy="227.90" r="1.75" fill="#1f67a6" stroke="#1a1a1a" stroke-width="0.50"/>
<circle cx="396.80" cy="237.40" r="1.75" fill="#1f67a6" stroke="#1a1a1a" stroke-width="0.50"/>
<circle cx="396.80" cy="242.00" r="1.75" fill="#1f67a6" stroke="#1a1a1a" stroke-width="0.50"/>
<circle cx="401.10" cy="244.40" r="1.75" fill="#1f67a6" stroke="#1a1a1a" stroke-width="0.50"/>
<circle cx="401.70" cy="247.60" r="1.75" fill="#1f67a6" stroke="#1a1a1a" stroke-width="0.50"/>
<circle cx="399.20" cy="251.40" r="1.75" fill="#1f67a6" stroke="#1a1a1a" stroke-width="0.50"/>
<circle cx="404.00" cy="252.00" r="1.75" fill="#1f67a6" stroke="#1a1a1a" stroke-width="0.50"/>
<circle cx="398.30" cy="254.90" r="1.75" fill="#1f67a6" stroke="#1a1a1a" stroke-width="0.50"/>
<circle cx="400.20" cy="256.40" r="1.75" fill="#1f67a6" stroke="#1a1a1a" stroke-width="0.50"/>
<circle cx="404.90" cy="260.20" r="1.75" fill="#1f67a6" stroke="#1a1a1a" stroke-width="0.50"/>
<circle cx="400.60" cy="259.00" r="1.75" fill="#1f67a6" stroke="#1a1a1a" stroke-width="0.50"/>
<circle cx="398.70" cy="317.50" r="1.75" fill="#1f67a6" stroke="#1a1a1a" stroke-width="0.50"/>
<circle cx="399.10" cy="319.00" r="1.75" fill="#1f67a6" stroke="#1a1a1a" stroke-width="0.50"/>
<circle cx="397.90" cy="328.00" r="1.75" fill="#1f67a6" stroke="#1a1a1a" stroke-width="0.50"/>
<circle cx="403.54" cy="265.43" r="1.75" fill="#1f67a6" stroke="#1a1a1a" stroke-width="0.50"/>
<circle cx="402.17" cy="266.50" r="1.75" fill="#1f67a6" stroke="#1a1a1a" stroke-width="0.50"/>
<circle cx="400.31" cy="268.91" r="1.75" fill="#1f67a6" stroke="#1a1a1a" stroke-width="0.50"/>
<circle cx="402.09" cy="270.82" r="1.75" fill="#1f67a6" stroke="#1a1a1a" stroke-width="0.50"/>
<circle cx="402.67" cy="272.99" r="1.75" fill="#1f67a6" stroke="#1a1a1a" stroke-width="0.50"/>
<circle cx="398.39" cy="273.77" r="1.75" fill="#1f67a6" stroke="#1a1a1a" stroke-width="0.50"/>
<circle cx="403.57" cy="274.55" r="1.75" fill="#1f67a6" stroke="#1a1a1a" stroke-width="0.50"/>
<circle cx="401.06" cy="276.25" r="1.75" fill="#1f67a6" stroke="#1a1a1a" stroke-width="0.50"/>
<circle cx="397.13" cy="276.86" r="1.75" fill="#1f67a6" stroke="#1a1a1a" stroke-width="0.50"/>
<circle cx="398.20" cy="278.18" r="1.75" fill="#1f67a6" stroke="#1a1a1a" stroke-width="0.50"/>
<circle cx="404.98" cy="278.97" r="1.75" fill="#1f67a6" stroke="#1a1a1a" stroke-width="0.50"/>
<circle cx="397.68" cy="280.10" r="1.75" fill="#1f67a6" stroke="#1a1a1a" stroke-width="0.50"/>
<circle cx="401.51" cy="281.32" r="1.75" fill="#1f67a6" stroke="#1a1a1a" stroke-width="0.50"/>
<circle cx="401.26" cy="282.30" r="1.75" fill="#1f67a6" stroke="#1a1a1a" stroke-width="0.50"/>
<circle cx="404.01" cy="283.25" r="1.75" fill="#1f67a6" stroke="#1a1a1a" stroke-width="0.50"/>
<circle cx="400.37" cy="284.77" r="1.75" fill="#1f67a6" stroke="#1a1a1a" stroke-width="0.50"/>
<circle cx="398.63" cy="285.56" r="1.75" fill="#1f67a6" stroke="#1a1a1a" stroke-width="0.50"/>
<circle cx="400.21" cy="286.71" r="1.75" fill="#1f67a6" stroke="#1a1a1a" stroke-width="0.50"/>
<circle cx="397.86" cy="288.02" r="1.75" fill="#1f67a6" stroke="#1a1a1a" stroke-width="0.50"/>
<circle cx="399.89" cy="288.10" r="1.75" fill="#1f67a6" stroke="#1a1a1a" stroke-width="0.50"/>
<circle cx="399.19" cy="289.53" r="1.75" fill="#1f67a6" stroke="#1a1a1a" stroke-width="0.50"/>
<circle cx="396.92" cy="290.62" r="1.75" fill="#1f67a6" stroke="#1a1a1a" stroke-width="0.50"/>
<circle cx="400.46" cy="291.99" r="1.75" fill="#1f67a6" stroke="#1a1a1a" stroke-width="0.50"/>
<circle cx="399.86" cy="292.59" r="1.75" fill="#1f67a6" stroke="#1a1a1a" stroke-width="0.50"/>
<circle cx="398.75" cy="294.17" r="1.75" fill="#1f67a6" stroke="#1a1a1a" stroke-width="0.50"/>
<circle cx="404.98" cy="295.01" r="1.75" fill="#1f67a6" stroke="#1a1a1a" stroke-width="0.50"/>
<circle cx="398.70" cy="296.37" r="1.75" fill="#1f67a6" stroke="#1a1a1a" stroke-width="0.50"/>
<circle cx="400.21" cy="296.81" r="1.75" fill="#1f67a6" stroke="#1a1a1a" stroke-width="0.50"/>
<circle cx="397.92" cy="298.49" r="1.75" fill="#1f67a6" stroke="#1a1a1a" stroke-width="0.50"/>
<circle cx="403.84" cy="299.40" r="1.75" fill="#1f67a6" stroke="#1a1a1a" stroke-width="0.50"/>
<circle cx="400.88" cy="300.39" r="1.75" fill="#1f67a6" stroke="#1a1a1a" stroke-width="0.50"/>
<circle cx="398.77" cy="301.89" r="1.75" fill="#1f67a6" stroke="#1a1a1a" stroke-width="0.50"/>
<circle cx="399.87" cy="302.61" r="1.75" fill="#1f67a6" stroke="#1a1a1a" stroke-width="0.50"/>
<circle cx="402.73" cy="306.26" r="1.75" fill="#1f67a6" stroke="#1a1a1a" stroke-width="0.50"/>
<circle cx="400.28" cy="308.18" r="1.75" fill="#1f67a6" stroke="#1a1a1a" stroke-width="0.50"/>
<line x1="449.30" y1="221.20" x2="449.30" y2="260.50" stroke="#999" stroke-width="0.90" />
<line x1="449.30" y1="284.50" x2="449.30" y2="314.50" stroke="#999" stroke-width="0.90" />
<rect x="431.50" y="260.50" width="36.00" height="24.00" stroke="#5e5e5e" stroke-width="0.80" fill="none"/>
<line x1="431.50" y1="273.50" x2="467.50" y2="273.50" stroke="#5e5e5e" stroke-width="0.80" />
<circle cx="447.60" cy="221.10" r="1.75" fill="#f2a2a2" stroke="#1a1a1a" stroke-width="0.50"/>
<circle cx="446.10" cy="223.50" r="1.75" fill="#f2a2a2" stroke="#1a1a1a" stroke-width="0.50"/>
<circle cx="449.50" cy="226.80" r="1.75" fill="#f2a2a2" stroke="#1a1a1a" stroke-width="0.50"/>
<circle cx="450.50" cy="233.60" r="1.75" fill="#f2a2a2" stroke="#1a1a1a" stroke-width="0.50"/>
<circle cx="452.40" cy="234.90" r="1.75" fill="#f2a2a2" stroke="#1a1a1a" stroke-width="0.50"/>
<circle cx="454.30" cy="239.70" r="1.75" fill="#f2a2a2" stroke="#1a1a1a" stroke-width="0.50"/>
<circle cx="447.60" cy="241.60" r="1.75" fill="#f2a2a2" stroke="#1a1a1a" stroke-width="0.50"/>
<circle cx="449.10" cy="244.40" r="1.75" fill="#f2a2a2" stroke="#1a1a1a" stroke-width="0.50"/>
<circle cx="451.40" cy="249.20" r="1.75" fill="#f2a2a2" stroke="#1a1a1a" stroke-width="0.50"/>
<circle cx="448.60" cy="309.90" r="1.75" fill="#f2a2a2" stroke="#1a1a1a" stroke-width="0.50"/>
<circle cx="449.50" cy="314.00" r="1.75" fill="#f2a2a2" stroke="#1a1a1a" stroke-width="0.50"/>
<circle cx="449.76" cy="253.08" r="1.75" fill="#f2a2a2" stroke="#1a1a1a" stroke-width="0.50"/>
<circle cx="452.75" cy="253.88" r="1.75" fill="#f2a2a2" stroke="#1a1a1a" stroke-width="0.50"/>
<circle cx="452.93" cy="254.47" r="1.75" fill="#f2a2a2" stroke="#1a1a1a" stroke-width="0.50"/>
<circle cx="447.95" cy="255.11" r="1.75" fill="#f2a2a2" stroke="#1a1a1a" stroke-width="0.50"/>
<circle cx="448.47" cy="255.72" r="1.75" fill="#f2a2a2" stroke="#1a1a1a" stroke-width="0.50"/>
<circle cx="444.03" cy="256.72" r="1.75" fill="#f2a2a2" stroke="#1a1a1a" stroke-width="0.50"/>
<circle cx="446.95" cy="257.06" r="1.75" fill="#f2a2a2" stroke="#1a1a1a" stroke-width="0.50"/>
<circle cx="447.17" cy="257.86" r="1.75" fill="#f2a2a2" stroke="#1a1a1a" stroke-width="0.50"/>
<circle cx="448.50" cy="258.61" r="1.75" fill="#f2a2a2" stroke="#1a1a1a" stroke-width="0.50"/>
<circle cx="450.92" cy="259.09" r="1.75" fill="#f2a2a2" stroke="#1a1a1a" stroke-width="0.50"/>
<circle cx="453.75" cy="260.06" r="1.75" fill="#f2a2a2" stroke="#1a1a1a" stroke-width="0.50"/>
<circle cx="444.60" cy="260.69" r="1.75" fill="#f2a2a2" stroke="#1a1a1a" stroke-width="0.50"/>
<circle cx="453.51" cy="261.31" r="1.75" fill="#f2a2a2" stroke="#1a1a1a" stroke-width="0.50"/>
<circle cx="445.47" cy="261.99" r="1.75" fill="#f2a2a2" stroke="#1a1a1a" stroke-width="0.50"/>
<circle cx="450.65" cy="262.11" r="1.75" fill="#f2a2a2" stroke="#1a1a1a" stroke-width="0.50"/>
<circle cx="444.12" cy="263.37" r="1.75" fill="#f2a2a2" stroke="#1a1a1a" stroke-width="0.50"/>
<circle cx="450.89" cy="263.56" r="1.75" fill="#f2a2a2" stroke="#1a1a1a" stroke-width="0.50"/>
<circle cx="445.07" cy="264.14" r="1.75" fill="#f2a2a2" stroke="#1a1a1a" stroke-width="0.50"/>
<circle cx="446.45" cy="265.20" r="1.75" fill="#f2a2a2" stroke="#1a1a1a" stroke-width="0.50"/>
<circle cx="447.64" cy="265.45" r="1.75" fill="#f2a2a2" stroke="#1a1a1a" stroke-width="0.50"/>
<circle cx="453.49" cy="266.51" r="1.75" fill="#f2a2a2" stroke="#1a1a1a" stroke-width="0.50"/>
<circle cx="445.76" cy="267.23" r="1.75" fill="#f2a2a2" stroke="#1a1a1a" stroke-width="0.50"/>
<circle cx="450.39" cy="267.81" r="1.75" fill="#f2a2a2" stroke="#1a1a1a" stroke-width="0.50"/>
<circle cx="451.02" cy="268.53" r="1.75" fill="#f2a2a2" stroke="#1a1a1a" stroke-width="0.50"/>
<circle cx="452.27" cy="269.15" r="1.75" fill="#f2a2a2" stroke="#1a1a1a" stroke-width="0.50"/>
<circle cx="446.07" cy="269.70" r="1.75" fill="#f2a2a2" stroke="#1a1a1a" stroke-width="0.50"/>
<circle cx="449.57" cy="270.38" r="1.75" fill="#f2a2a2" stroke="#1a1a1a" stroke-width="0.50"/>
<circle cx="448.61" cy="271.12" r="1.75" fill="#f2a2a2" stroke="#1a1a1a" stroke-width="0.50"/>
<circle cx="449.83" cy="271.37" r="1.75" fill="#f2a2a2" stroke="#1a1a1a" stroke-width="0.50"/>
<circle cx="446.46" cy="271.94" r="1.75" fill="#f2a2a2" stroke="#1a1a1a" stroke-width="0.50"/>
<circle cx="449.18" cy="272.54" r="1.75" fill="#f2a2a2" stroke="#1a1a1a" stroke-width="0.50"/>
<circle cx="448.90" cy="273.24" r="1.75" fill="#f2a2a2" stroke="#1a1a1a" stroke-width="0.50"/>
<circle cx="449.16" cy="274.12" r="1.75" fill="#f2a2a2" stroke="#1a1a1a" stroke-width="0.50"/>
<circle cx="449.67" cy="275.01" r="1.75" fill="#f2a2a2" stroke="#1a1a1a" stroke-width="0.50"/>
<circle cx="444.07" cy="275.65" r="1.75" fill="#f2a2a2" stroke="#1a1a1a" stroke-width="0.50"/>
<circle cx="448.91" cy="276.12" r="1.75" fill="#f2a2a2" stroke="#1a1a1a" stroke-width="0.50"/>
<circle cx="450.99" cy="276.95" r="1.75" fill="#f2a2a2" stroke="#1a1a1a" stroke-width="0.50"/>
<circle cx="447.94" cy="277.32" r="1.75" fill="#f2a2a2" stroke="#1a1a1a" stroke-width="0.50"/>
<circle cx="454.09" cy="277.75" r="1.75" fill="#f2a2a2" stroke="#1a1a1a" stroke-width="0.50"/>
<circle cx="450.69" cy="278.76" r="1.75" fill="#f2a2a2" stroke="#1a1a1a" stroke-width="0.50"/>
<circle cx="444.30" cy="279.40" r="1.75" fill="#f2a2a2" stroke="#1a1a1a" stroke-width="0.50"/>
<circle cx="451.17" cy="280.26" r="1.75" fill="#f2a2a2" stroke="#1a1a1a" stroke-width="0.50"/>
<circle cx="447.47" cy="280.94" r="1.75" fill="#f2a2a2" stroke="#1a1a1a" stroke-width="0.50"/>
<circle cx="449.36" cy="281.27" r="1.75" fill="#f2a2a2" stroke="#1a1a1a" stroke-width="0.50"/>
<circle cx="453.42" cy="281.62" r="1.75" fill="#f2a2a2" stroke="#1a1a1a" stroke-width="0.50"/>
<circle cx="451.54" cy="282.66" r="1.75" fill="#f2a2a2" stroke="#1a1a1a" stroke-width="0.50"/>
<circle cx="447.56" cy="283.46" r="1.75" fill="#f2a2a2" stroke="#1a1a1a" stroke-width="0.50"/>
<circle cx="447.84" cy="283.86" r="1.75" fill="#f2a2a2" stroke="#1a1a1a" stroke-width="0.50"/>
<circle cx="449.52" cy="284.70" r="1.75" fill="#f2a2a2" stroke="#1a1a1a" stroke-width="0.50"/>
<circle cx="446.21" cy="285.13" r="1.75" fill="#f2a2a2" stroke="#1a1a1a" stroke-width="0.50"/>
<circle cx="448.44" cy="285.86" r="1.75" fill="#f2a2a2" stroke="#1a1a1a" stroke-width="0.50"/>
<circle cx="452.68" cy="286.34" r="1.75" fill="#f2a2a2" stroke="#1a1a1a" stroke-width="0.50"/>
<circle cx="452.69" cy="287.06" r="1.75" fill="#f2a2a2" stroke="#1a1a1a" stroke-width="0.50"/>
<circle cx="449.29" cy="287.63" r="1.75" fill="#f2a2a2" stroke="#1a1a1a" stroke-width="0.50"/>
<circle cx="449.32" cy="288.73" r="1.75" fill="#f2a2a2" stroke="#1a1a1a" stroke-width="0.50"/>
<circle cx="450.87" cy="289.26" r="1.75" fill="#f2a2a2" stroke="#1a1a1a" stroke-width="0.50"/>
<circle cx="447.47" cy="289.61" r="1.75" fill="#f2a2a2" stroke="#1a1a1a" stroke-width="0.50"/>
<circle cx="447.14" cy="290.43" r="1.75" fill="#f2a2a2" stroke="#1a1a1a" stroke-width="0.50"/>
<circle cx="450.67" cy="291.21" r="1.75" fill="#f2a2a2" stroke="#1a1a1a" stroke-width="0.50"/>
<circle cx="444.42" cy="291.82" r="1.75" fill="#f2a2a2" stroke="#1a1a1a" stroke-width="0.50"/>
<circle cx="453.30" cy="292.35" r="1.75" fill="#f2a2a2" stroke="#1a1a1a" stroke-width="0.50"/>
<circle cx="444.52" cy="292.85" r="1.75" fill="#f2a2a2" stroke="#1a1a1a" stroke-width="0.50"/>
<circle cx="444.07" cy="293.42" r="1.75" fill="#f2a2a2" stroke="#1a1a1a" stroke-width="0.50"/>
<circle cx="453.68" cy="294.35" r="1.75" fill="#f2a2a2" stroke="#1a1a1a" stroke-width="0.50"/>
<circle cx="450.91" cy="295.11" r="1.75" fill="#f2a2a2" stroke="#1a1a1a" stroke-width="0.50"/>
<circle cx="453.55" cy="295.65" r="1.75" fill="#f2a2a2" stroke="#1a1a1a" stroke-width="0.50"/>
<circle cx="450.48" cy="296.31" r="1.75" fill="#f2a2a2" stroke="#1a1a1a" stroke-width="0.50"/>
<circle cx="451.31" cy="296.94" r="1.75" fill="#f2a2a2" stroke="#1a1a1a" stroke-width="0.50"/>
<circle cx="451.15" cy="297.34" r="1.75" fill="#f2a2a2" stroke="#1a1a1a" stroke-width="0.50"/>
<circle cx="451.00" cy="298.15" r="1.75" fill="#f2a2a2" stroke="#1a1a1a" stroke-width="0.50"/>
<circle cx="451.10" cy="298.69" r="1.75" fill="#f2a2a2" stroke="#1a1a1a" stroke-width="0.50"/>
<circle cx="446.45" cy="300.44" r="1.75" fill="#f2a2a2" stroke="#1a1a1a" stroke-width="0.50"/>
<circle cx="451.20" cy="303.96" r="1.75" fill="#f2a2a2" stroke="#1a1a1a" stroke-width="0.50"/>
<circle cx="450.25" cy="304.82" r="1.75" fill="#f2a2a2" stroke="#1a1a1a" stroke-width="0.50"/>
<line x1="497.40" y1="223.30" x2="497.40" y2="263.50" stroke="#999" stroke-width="0.90" />
<line x1="497.40" y1="289.50" x2="497.40" y2="321.60" stroke="#999" stroke-width="0.90" />
<rect x="479.50" y="263.50" width="37.00" height="26.00" stroke="#5e5e5e" stroke-width="0.80" fill="none"/>
<line x1="479.50" y1="273.50" x2="516.50" y2="273.50" stroke="#5e5e5e" stroke-width="0.80" />
<circle cx="496.60" cy="223.50" r="1.75" fill="#ef7d1e" stroke="#1a1a1a" stroke-width="0.50"/>
<circle cx="494.10" cy="228.70" r="1.75" fill="#ef7d1e" stroke="#1a1a1a" stroke-width="0.50"/>
<circle cx="497.90" cy="230.20" r="1.75" fill="#ef7d1e" stroke="#1a1a1a" stroke-width="0.50"/>
<circle cx="501.20" cy="234.00" r="1.75" fill="#ef7d1e" stroke="#1a1a1a" stroke-width="0.50"/>
<circle cx="496.60" cy="236.30" r="1.75" fill="#ef7d1e" stroke="#1a1a1a" stroke-width="0.50"/>
<circle cx="499.80" cy="247.30" r="1.75" fill="#ef7d1e" stroke="#1a1a1a" stroke-width="0.50"/>
<circle cx="493.60" cy="250.70" r="1.75" fill="#ef7d1e" stroke="#1a1a1a" stroke-width="0.50"/>
<circle cx="498.50" cy="252.00" r="1.75" fill="#ef7d1e" stroke="#1a1a1a" stroke-width="0.50"/>
<circle cx="501.70" cy="308.00" r="1.75" fill="#ef7d1e" stroke="#1a1a1a" stroke-width="0.50"/>
<circle cx="497.90" cy="313.30" r="1.75" fill="#ef7d1e" stroke="#1a1a1a" stroke-width="0.50"/>
<circle cx="493.20" cy="320.30" r="1.75" fill="#ef7d1e" stroke="#1a1a1a" stroke-width="0.50"/>
<circle cx="499.80" cy="319.40" r="1.75" fill="#ef7d1e" stroke="#1a1a1a" stroke-width="0.50"/>
<circle cx="498.50" cy="322.20" r="1.75" fill="#ef7d1e" stroke="#1a1a1a" stroke-width="0.50"/>
<circle cx="500.94" cy="255.36" r="1.75" fill="#ef7d1e" stroke="#1a1a1a" stroke-width="0.50"/>
<circle cx="498.36" cy="255.63" r="1.75" fill="#ef7d1e" stroke="#1a1a1a" stroke-width="0.50"/>
<circle cx="495.79" cy="256.30" r="1.75" fill="#ef7d1e" stroke="#1a1a1a" stroke-width="0.50"/>
<circle cx="495.95" cy="256.89" r="1.75" fill="#ef7d1e" stroke="#1a1a1a" stroke-width="0.50"/>
<circle cx="499.15" cy="257.76" r="1.75" fill="#ef7d1e" stroke="#1a1a1a" stroke-width="0.50"/>
<circle cx="493.34" cy="258.13" r="1.75" fill="#ef7d1e" stroke="#1a1a1a" stroke-width="0.50"/>
<circle cx="493.19" cy="258.45" r="1.75" fill="#ef7d1e" stroke="#1a1a1a" stroke-width="0.50"/>
<circle cx="500.82" cy="259.29" r="1.75" fill="#ef7d1e" stroke="#1a1a1a" stroke-width="0.50"/>
<circle cx="501.89" cy="259.80" r="1.75" fill="#ef7d1e" stroke="#1a1a1a" stroke-width="0.50"/>
<circle cx="492.94" cy="260.34" r="1.75" fill="#ef7d1e" stroke="#1a1a1a" stroke-width="0.50"/>
<circle cx="498.66" cy="261.24" r="1.75" fill="#ef7d1e" stroke="#1a1a1a" stroke-width="0.50"/>
<circle cx="502.51" cy="261.56" r="1.75" fill="#ef7d1e" stroke="#1a1a1a" stroke-width="0.50"/>
<circle cx="496.88" cy="261.92" r="1.75" fill="#ef7d1e" stroke="#1a1a1a" stroke-width="0.50"/>
<circle cx="499.18" cy="262.56" r="1.75" fill="#ef7d1e" stroke="#1a1a1a" stroke-width="0.50"/>
<circle cx="494.30" cy="263.03" r="1.75" fill="#ef7d1e" stroke="#1a1a1a" stroke-width="0.50"/>
<circle cx="492.85" cy="264.00" r="1.75" fill="#ef7d1e" stroke="#1a1a1a" stroke-width="0.50"/>
<circle cx="494.00" cy="264.74" r="1.75" fill="#ef7d1e" stroke="#1a1a1a" stroke-width="0.50"/>
<circle cx="493.67" cy="265.26" r="1.75" fill="#ef7d1e" stroke="#1a1a1a" stroke-width="0.50"/>
<circle cx="494.08" cy="265.35" r="1.75" fill="#ef7d1e" stroke="#1a1a1a" stroke-width="0.50"/>
<circle cx="499.92" cy="266.06" r="1.75" fill="#ef7d1e" stroke="#1a1a1a" stroke-width="0.50"/>
<circle cx="500.06" cy="266.61" r="1.75" fill="#ef7d1e" stroke="#1a1a1a" stroke-width="0.50"/>
<circle cx="493.30" cy="267.53" r="1.75" fill="#ef7d1e" stroke="#1a1a1a" stroke-width="0.50"/>
<circle cx="499.86" cy="268.16" r="1.75" fill="#ef7d1e" stroke="#1a1a1a" stroke-width="0.50"/>
<circle cx="500.02" cy="268.29" r="1.75" fill="#ef7d1e" stroke="#1a1a1a" stroke-width="0.50"/>
<circle cx="499.02" cy="269.23" r="1.75" fill="#ef7d1e" stroke="#1a1a1a" stroke-width="0.50"/>
<circle cx="497.36" cy="269.94" r="1.75" fill="#ef7d1e" stroke="#1a1a1a" stroke-width="0.50"/>
<circle cx="495.32" cy="270.54" r="1.75" fill="#ef7d1e" stroke="#1a1a1a" stroke-width="0.50"/>
<circle cx="499.90" cy="270.57" r="1.75" fill="#ef7d1e" stroke="#1a1a1a" stroke-width="0.50"/>
<circle cx="492.95" cy="271.52" r="1.75" fill="#ef7d1e" stroke="#1a1a1a" stroke-width="0.50"/>
<circle cx="500.89" cy="271.77" r="1.75" fill="#ef7d1e" stroke="#1a1a1a" stroke-width="0.50"/>
<circle cx="495.88" cy="272.72" r="1.75" fill="#ef7d1e" stroke="#1a1a1a" stroke-width="0.50"/>
<circle cx="494.44" cy="273.38" r="1.75" fill="#ef7d1e" stroke="#1a1a1a" stroke-width="0.50"/>
<circle cx="497.61" cy="273.49" r="1.75" fill="#ef7d1e" stroke="#1a1a1a" stroke-width="0.50"/>
<circle cx="496.44" cy="274.37" r="1.75" fill="#ef7d1e" stroke="#1a1a1a" stroke-width="0.50"/>
<circle cx="497.14" cy="275.01" r="1.75" fill="#ef7d1e" stroke="#1a1a1a" stroke-width="0.50"/>
<circle cx="494.23" cy="275.66" r="1.75" fill="#ef7d1e" stroke="#1a1a1a" stroke-width="0.50"/>
<circle cx="496.40" cy="276.15" r="1.75" fill="#ef7d1e" stroke="#1a1a1a" stroke-width="0.50"/>
<circle cx="499.03" cy="276.60" r="1.75" fill="#ef7d1e" stroke="#1a1a1a" stroke-width="0.50"/>
<circle cx="496.62" cy="277.40" r="1.75" fill="#ef7d1e" stroke="#1a1a1a" stroke-width="0.50"/>
<circle cx="502.15" cy="277.98" r="1.75" fill="#ef7d1e" stroke="#1a1a1a" stroke-width="0.50"/>
<circle cx="498.41" cy="278.27" r="1.75" fill="#ef7d1e" stroke="#1a1a1a" stroke-width="0.50"/>
<circle cx="493.40" cy="279.24" r="1.75" fill="#ef7d1e" stroke="#1a1a1a" stroke-width="0.50"/>
<circle cx="499.76" cy="279.74" r="1.75" fill="#ef7d1e" stroke="#1a1a1a" stroke-width="0.50"/>
<circle cx="496.09" cy="280.19" r="1.75" fill="#ef7d1e" stroke="#1a1a1a" stroke-width="0.50"/>
<circle cx="502.48" cy="280.90" r="1.75" fill="#ef7d1e" stroke="#1a1a1a" stroke-width="0.50"/>
<circle cx="498.75" cy="281.18" r="1.75" fill="#ef7d1e" stroke="#1a1a1a" stroke-width="0.50"/>
<circle cx="497.04" cy="282.10" r="1.75" fill="#ef7d1e" stroke="#1a1a1a" stroke-width="0.50"/>
<circle cx="496.53" cy="282.56" r="1.75" fill="#ef7d1e" stroke="#1a1a1a" stroke-width="0.50"/>
<circle cx="498.76" cy="283.26" r="1.75" fill="#ef7d1e" stroke="#1a1a1a" stroke-width="0.50"/>
<circle cx="500.79" cy="283.48" r="1.75" fill="#ef7d1e" stroke="#1a1a1a" stroke-width="0.50"/>
<circle cx="492.82" cy="284.05" r="1.75" fill="#ef7d1e" stroke="#1a1a1a" stroke-width="0.50"/>
<circle cx="496.98" cy="284.82" r="1.75" fill="#ef7d1e" stroke="#1a1a1a" stroke-width="0.50"/>
<circle cx="500.88" cy="285.57" r="1.75" fill="#ef7d1e" stroke="#1a1a1a" stroke-width="0.50"/>
<circle cx="493.22" cy="286.12" r="1.75" fill="#ef7d1e" stroke="#1a1a1a" stroke-width="0.50"/>
<circle cx="500.84" cy="286.72" r="1.75" fill="#ef7d1e" stroke="#1a1a1a" stroke-width="0.50"/>
<circle cx="498.46" cy="286.96" r="1.75" fill="#ef7d1e" stroke="#1a1a1a" stroke-width="0.50"/>
<circle cx="501.23" cy="287.85" r="1.75" fill="#ef7d1e" stroke="#1a1a1a" stroke-width="0.50"/>
<circle cx="499.58" cy="288.49" r="1.75" fill="#ef7d1e" stroke="#1a1a1a" stroke-width="0.50"/>
<circle cx="496.23" cy="288.59" r="1.75" fill="#ef7d1e" stroke="#1a1a1a" stroke-width="0.50"/>
<circle cx="498.28" cy="289.58" r="1.75" fill="#ef7d1e" stroke="#1a1a1a" stroke-width="0.50"/>
<circle cx="494.78" cy="290.14" r="1.75" fill="#ef7d1e" stroke="#1a1a1a" stroke-width="0.50"/>
<circle cx="502.02" cy="290.42" r="1.75" fill="#ef7d1e" stroke="#1a1a1a" stroke-width="0.50"/>
<circle cx="498.81" cy="291.25" r="1.75" fill="#ef7d1e" stroke="#1a1a1a" stroke-width="0.50"/>
<circle cx="497.41" cy="291.56" r="1.75" fill="#ef7d1e" stroke="#1a1a1a" stroke-width="0.50"/>
<circle cx="495.32" cy="292.46" r="1.75" fill="#ef7d1e" stroke="#1a1a1a" stroke-width="0.50"/>
<circle cx="500.64" cy="292.87" r="1.75" fill="#ef7d1e" stroke="#1a1a1a" stroke-width="0.50"/>
<circle cx="493.67" cy="293.65" r="1.75" fill="#ef7d1e" stroke="#1a1a1a" stroke-width="0.50"/>
<circle cx="500.44" cy="293.90" r="1.75" fill="#ef7d1e" stroke="#1a1a1a" stroke-width="0.50"/>
<circle cx="498.54" cy="294.86" r="1.75" fill="#ef7d1e" stroke="#1a1a1a" stroke-width="0.50"/>
<circle cx="501.56" cy="295.22" r="1.75" fill="#ef7d1e" stroke="#1a1a1a" stroke-width="0.50"/>
<circle cx="497.52" cy="295.84" r="1.75" fill="#ef7d1e" stroke="#1a1a1a" stroke-width="0.50"/>
<circle cx="494.67" cy="296.19" r="1.75" fill="#ef7d1e" stroke="#1a1a1a" stroke-width="0.50"/>
<circle cx="494.59" cy="297.07" r="1.75" fill="#ef7d1e" stroke="#1a1a1a" stroke-width="0.50"/>
<circle cx="496.39" cy="297.57" r="1.75" fill="#ef7d1e" stroke="#1a1a1a" stroke-width="0.50"/>
<circle cx="496.78" cy="298.12" r="1.75" fill="#ef7d1e" stroke="#1a1a1a" stroke-width="0.50"/>
<circle cx="494.28" cy="298.43" r="1.75" fill="#ef7d1e" stroke="#1a1a1a" stroke-width="0.50"/>
<circle cx="502.67" cy="299.20" r="1.75" fill="#ef7d1e" stroke="#1a1a1a" stroke-width="0.50"/>
<circle cx="493.85" cy="299.93" r="1.75" fill="#ef7d1e" stroke="#1a1a1a" stroke-width="0.50"/>
<circle cx="500.59" cy="300.23" r="1.75" fill="#ef7d1e" stroke="#1a1a1a" stroke-width="0.50"/>
<circle cx="498.71" cy="300.92" r="1.75" fill="#ef7d1e" stroke="#1a1a1a" stroke-width="0.50"/>
<circle cx="497.94" cy="301.31" r="1.75" fill="#ef7d1e" stroke="#1a1a1a" stroke-width="0.50"/>
<circle cx="493.13" cy="302.45" r="1.75" fill="#ef7d1e" stroke="#1a1a1a" stroke-width="0.50"/>
<circle cx="501.37" cy="302.74" r="1.75" fill="#ef7d1e" stroke="#1a1a1a" stroke-width="0.50"/>
<circle cx="498.42" cy="303.19" r="1.75" fill="#ef7d1e" stroke="#1a1a1a" stroke-width="0.50"/>
<circle cx="500.51" cy="303.87" r="1.75" fill="#ef7d1e" stroke="#1a1a1a" stroke-width="0.50"/>
<line x1="401.30" y1="347.00" x2="401.30" y2="349.50" stroke="#686868" stroke-width="0.90" />
<line x1="449.30" y1="347.00" x2="449.30" y2="349.50" stroke="#686868" stroke-width="0.90" />
<line x1="497.40" y1="347.00" x2="497.40" y2="349.50" stroke="#686868" stroke-width="0.90" />
<text x="401.30" y="361.74" font-size="9.00" text-anchor="middle" fill="#161616" stroke="#161616" stroke-width="0.12" >N</text>
<text x="401.30" y="373.04" font-size="9.00" text-anchor="middle" fill="#161616" stroke="#161616" stroke-width="0.12" >(<tspan font-style="italic">n</tspan> = 49)</text>
<text x="449.30" y="361.74" font-size="9.00" text-anchor="middle" fill="#161616" stroke="#161616" stroke-width="0.12" >P (no-BF)</text>
<text x="449.30" y="373.04" font-size="9.00" text-anchor="middle" fill="#161616" stroke="#161616" stroke-width="0.12" >(<tspan font-style="italic">n</tspan> = 85)</text>
<text x="497.40" y="361.74" font-size="9.00" text-anchor="middle" fill="#161616" stroke="#161616" stroke-width="0.12" >P (BF)</text>
<text x="497.40" y="373.04" font-size="9.00" text-anchor="middle" fill="#161616" stroke="#161616" stroke-width="0.12" >(<tspan font-style="italic">n</tspan> = 98)</text>
<rect x="530.20" y="170.00" width="154.20" height="177.00" stroke="#686868" stroke-width="0.90" fill="none"/>
<text x="607.30" y="164.94" font-size="9.00" text-anchor="middle" fill="#161616" stroke="#161616" stroke-width="0.12" >LumB</text>
<text x="607.50" y="177.31" font-size="7.80" text-anchor="middle" fill="#161616" stroke="#161616" stroke-width="0.04" ><tspan font-style="italic">P</tspan> = 0.99, mean diff = −35</text>
<text x="607.50" y="187.01" font-size="7.80" text-anchor="middle" fill="#161616" stroke="#161616" stroke-width="0.04" >(95% CI = −670–600)</text>
<polyline fill="none" stroke="#8a8a8a" stroke-width="0.90" stroke-linejoin="round" points="559.40,193.50 559.40,190.50 655.60,190.50 655.60,193.50" />
<line x1="559.40" y1="214.60" x2="559.40" y2="267.50" stroke="#999" stroke-width="0.90" />
<line x1="559.40" y1="285.50" x2="559.40" y2="328.10" stroke="#999" stroke-width="0.90" />
<rect x="541.50" y="267.50" width="36.00" height="18.00" stroke="#5e5e5e" stroke-width="0.80" fill="none"/>
<line x1="541.50" y1="273.50" x2="577.50" y2="273.50" stroke="#5e5e5e" stroke-width="0.80" />
<circle cx="559.00" cy="214.50" r="1.75" fill="#1f67a6" stroke="#1a1a1a" stroke-width="0.50"/>
<circle cx="560.90" cy="220.20" r="1.75" fill="#1f67a6" stroke="#1a1a1a" stroke-width="0.50"/>
<circle cx="558.40" cy="225.50" r="1.75" fill="#1f67a6" stroke="#1a1a1a" stroke-width="0.50"/>
<circle cx="563.20" cy="241.40" r="1.75" fill="#1f67a6" stroke="#1a1a1a" stroke-width="0.50"/>
<circle cx="557.70" cy="245.40" r="1.75" fill="#1f67a6" stroke="#1a1a1a" stroke-width="0.50"/>
<circle cx="562.80" cy="244.90" r="1.75" fill="#1f67a6" stroke="#1a1a1a" stroke-width="0.50"/>
<circle cx="555.60" cy="257.20" r="1.75" fill="#1f67a6" stroke="#1a1a1a" stroke-width="0.50"/>
<circle cx="559.90" cy="260.40" r="1.75" fill="#1f67a6" stroke="#1a1a1a" stroke-width="0.50"/>
<circle cx="563.70" cy="284.30" r="1.75" fill="#1f67a6" stroke="#1a1a1a" stroke-width="0.50"/>
<circle cx="558.00" cy="287.60" r="1.75" fill="#1f67a6" stroke="#1a1a1a" stroke-width="0.50"/>
<circle cx="556.10" cy="288.50" r="1.75" fill="#1f67a6" stroke="#1a1a1a" stroke-width="0.50"/>
<circle cx="563.70" cy="289.50" r="1.75" fill="#1f67a6" stroke="#1a1a1a" stroke-width="0.50"/>
<circle cx="559.90" cy="292.30" r="1.75" fill="#1f67a6" stroke="#1a1a1a" stroke-width="0.50"/>
<circle cx="560.90" cy="293.30" r="1.75" fill="#1f67a6" stroke="#1a1a1a" stroke-width="0.50"/>
<circle cx="558.40" cy="303.70" r="1.75" fill="#1f67a6" stroke="#1a1a1a" stroke-width="0.50"/>
<circle cx="557.50" cy="328.00" r="1.75" fill="#1f67a6" stroke="#1a1a1a" stroke-width="0.50"/>
<circle cx="563.79" cy="267.28" r="1.75" fill="#1f67a6" stroke="#1a1a1a" stroke-width="0.50"/>
<circle cx="562.58" cy="268.18" r="1.75" fill="#1f67a6" stroke="#1a1a1a" stroke-width="0.50"/>
<circle cx="557.21" cy="268.23" r="1.75" fill="#1f67a6" stroke="#1a1a1a" stroke-width="0.50"/>
<circle cx="556.71" cy="269.09" r="1.75" fill="#1f67a6" stroke="#1a1a1a" stroke-width="0.50"/>
<circle cx="555.59" cy="269.75" r="1.75" fill="#1f67a6" stroke="#1a1a1a" stroke-width="0.50"/>
<circle cx="560.10" cy="271.12" r="1.75" fill="#1f67a6" stroke="#1a1a1a" stroke-width="0.50"/>
<circle cx="559.15" cy="271.93" r="1.75" fill="#1f67a6" stroke="#1a1a1a" stroke-width="0.50"/>
<circle cx="563.44" cy="272.02" r="1.75" fill="#1f67a6" stroke="#1a1a1a" stroke-width="0.50"/>
<circle cx="560.48" cy="273.02" r="1.75" fill="#1f67a6" stroke="#1a1a1a" stroke-width="0.50"/>
<circle cx="555.94" cy="274.20" r="1.75" fill="#1f67a6" stroke="#1a1a1a" stroke-width="0.50"/>
<circle cx="557.24" cy="274.65" r="1.75" fill="#1f67a6" stroke="#1a1a1a" stroke-width="0.50"/>
<circle cx="560.89" cy="275.70" r="1.75" fill="#1f67a6" stroke="#1a1a1a" stroke-width="0.50"/>
<circle cx="561.16" cy="276.03" r="1.75" fill="#1f67a6" stroke="#1a1a1a" stroke-width="0.50"/>
<circle cx="559.06" cy="276.60" r="1.75" fill="#1f67a6" stroke="#1a1a1a" stroke-width="0.50"/>
<circle cx="563.97" cy="277.98" r="1.75" fill="#1f67a6" stroke="#1a1a1a" stroke-width="0.50"/>
<circle cx="556.91" cy="278.02" r="1.75" fill="#1f67a6" stroke="#1a1a1a" stroke-width="0.50"/>
<circle cx="557.23" cy="279.01" r="1.75" fill="#1f67a6" stroke="#1a1a1a" stroke-width="0.50"/>
<circle cx="563.38" cy="280.18" r="1.75" fill="#1f67a6" stroke="#1a1a1a" stroke-width="0.50"/>
<circle cx="562.75" cy="280.28" r="1.75" fill="#1f67a6" stroke="#1a1a1a" stroke-width="0.50"/>
<line x1="607.50" y1="228.60" x2="607.50" y2="251.50" stroke="#999" stroke-width="0.90" />
<line x1="607.50" y1="282.50" x2="607.50" y2="319.00" stroke="#999" stroke-width="0.90" />
<rect x="589.50" y="251.50" width="36.00" height="31.00" stroke="#5e5e5e" stroke-width="0.80" fill="none"/>
<line x1="589.50" y1="267.50" x2="625.50" y2="267.50" stroke="#5e5e5e" stroke-width="0.80" />
<circle cx="607.40" cy="228.70" r="1.75" fill="#f2a2a2" stroke="#1a1a1a" stroke-width="0.50"/>
<circle cx="609.30" cy="235.40" r="1.75" fill="#f2a2a2" stroke="#1a1a1a" stroke-width="0.50"/>
<circle cx="605.50" cy="237.60" r="1.75" fill="#f2a2a2" stroke="#1a1a1a" stroke-width="0.50"/>
<circle cx="603.60" cy="241.10" r="1.75" fill="#f2a2a2" stroke="#1a1a1a" stroke-width="0.50"/>
<circle cx="608.00" cy="243.00" r="1.75" fill="#f2a2a2" stroke="#1a1a1a" stroke-width="0.50"/>
<circle cx="606.40" cy="245.80" r="1.75" fill="#f2a2a2" stroke="#1a1a1a" stroke-width="0.50"/>
<circle cx="607.40" cy="249.60" r="1.75" fill="#f2a2a2" stroke="#1a1a1a" stroke-width="0.50"/>
<circle cx="608.30" cy="251.50" r="1.75" fill="#f2a2a2" stroke="#1a1a1a" stroke-width="0.50"/>
<circle cx="609.80" cy="255.30" r="1.75" fill="#f2a2a2" stroke="#1a1a1a" stroke-width="0.50"/>
<circle cx="612.10" cy="255.90" r="1.75" fill="#f2a2a2" stroke="#1a1a1a" stroke-width="0.50"/>
<circle cx="605.50" cy="260.40" r="1.75" fill="#f2a2a2" stroke="#1a1a1a" stroke-width="0.50"/>
<circle cx="607.40" cy="262.30" r="1.75" fill="#f2a2a2" stroke="#1a1a1a" stroke-width="0.50"/>
<circle cx="604.10" cy="265.70" r="1.75" fill="#f2a2a2" stroke="#1a1a1a" stroke-width="0.50"/>
<circle cx="606.40" cy="266.70" r="1.75" fill="#f2a2a2" stroke="#1a1a1a" stroke-width="0.50"/>
<circle cx="611.20" cy="267.60" r="1.75" fill="#f2a2a2" stroke="#1a1a1a" stroke-width="0.50"/>
<circle cx="608.30" cy="271.80" r="1.75" fill="#f2a2a2" stroke="#1a1a1a" stroke-width="0.50"/>
<circle cx="606.40" cy="273.30" r="1.75" fill="#f2a2a2" stroke="#1a1a1a" stroke-width="0.50"/>
<circle cx="610.20" cy="272.40" r="1.75" fill="#f2a2a2" stroke="#1a1a1a" stroke-width="0.50"/>
<circle cx="606.40" cy="281.90" r="1.75" fill="#f2a2a2" stroke="#1a1a1a" stroke-width="0.50"/>
<circle cx="611.20" cy="280.00" r="1.75" fill="#f2a2a2" stroke="#1a1a1a" stroke-width="0.50"/>
<circle cx="612.10" cy="281.90" r="1.75" fill="#f2a2a2" stroke="#1a1a1a" stroke-width="0.50"/>
<circle cx="605.50" cy="285.70" r="1.75" fill="#f2a2a2" stroke="#1a1a1a" stroke-width="0.50"/>
<circle cx="607.40" cy="291.90" r="1.75" fill="#f2a2a2" stroke="#1a1a1a" stroke-width="0.50"/>
<circle cx="609.30" cy="292.70" r="1.75" fill="#f2a2a2" stroke="#1a1a1a" stroke-width="0.50"/>
<circle cx="610.20" cy="295.20" r="1.75" fill="#f2a2a2" stroke="#1a1a1a" stroke-width="0.50"/>
<circle cx="610.60" cy="298.40" r="1.75" fill="#f2a2a2" stroke="#1a1a1a" stroke-width="0.50"/>
<circle cx="608.30" cy="311.70" r="1.75" fill="#f2a2a2" stroke="#1a1a1a" stroke-width="0.50"/>
<circle cx="611.20" cy="319.30" r="1.75" fill="#f2a2a2" stroke="#1a1a1a" stroke-width="0.50"/>
<circle cx="610.29" cy="263.66" r="1.75" fill="#f2a2a2" stroke="#1a1a1a" stroke-width="0.50"/>
<circle cx="609.17" cy="266.63" r="1.75" fill="#f2a2a2" stroke="#1a1a1a" stroke-width="0.50"/>
<circle cx="604.45" cy="267.00" r="1.75" fill="#f2a2a2" stroke="#1a1a1a" stroke-width="0.50"/>
<circle cx="610.04" cy="271.19" r="1.75" fill="#f2a2a2" stroke="#1a1a1a" stroke-width="0.50"/>
<circle cx="609.42" cy="272.03" r="1.75" fill="#f2a2a2" stroke="#1a1a1a" stroke-width="0.50"/>
<circle cx="608.73" cy="275.44" r="1.75" fill="#f2a2a2" stroke="#1a1a1a" stroke-width="0.50"/>
<circle cx="604.84" cy="276.76" r="1.75" fill="#f2a2a2" stroke="#1a1a1a" stroke-width="0.50"/>
<circle cx="606.06" cy="278.62" r="1.75" fill="#f2a2a2" stroke="#1a1a1a" stroke-width="0.50"/>
<circle cx="607.85" cy="281.06" r="1.75" fill="#f2a2a2" stroke="#1a1a1a" stroke-width="0.50"/>
<circle cx="605.91" cy="283.33" r="1.75" fill="#f2a2a2" stroke="#1a1a1a" stroke-width="0.50"/>
<circle cx="609.42" cy="285.36" r="1.75" fill="#f2a2a2" stroke="#1a1a1a" stroke-width="0.50"/>
<circle cx="609.74" cy="288.12" r="1.75" fill="#f2a2a2" stroke="#1a1a1a" stroke-width="0.50"/>
<line x1="655.60" y1="220.40" x2="655.60" y2="257.50" stroke="#999" stroke-width="0.90" />
<line x1="655.60" y1="285.50" x2="655.60" y2="315.30" stroke="#999" stroke-width="0.90" />
<rect x="637.50" y="257.50" width="37.00" height="28.00" stroke="#5e5e5e" stroke-width="0.80" fill="none"/>
<line x1="637.50" y1="271.50" x2="674.50" y2="271.50" stroke="#5e5e5e" stroke-width="0.80" />
<circle cx="653.30" cy="220.20" r="1.75" fill="#ef7d1e" stroke="#1a1a1a" stroke-width="0.50"/>
<circle cx="655.40" cy="235.70" r="1.75" fill="#ef7d1e" stroke="#1a1a1a" stroke-width="0.50"/>
<circle cx="659.20" cy="235.70" r="1.75" fill="#ef7d1e" stroke="#1a1a1a" stroke-width="0.50"/>
<circle cx="656.20" cy="241.40" r="1.75" fill="#ef7d1e" stroke="#1a1a1a" stroke-width="0.50"/>
<circle cx="654.30" cy="243.90" r="1.75" fill="#ef7d1e" stroke="#1a1a1a" stroke-width="0.50"/>
<circle cx="657.70" cy="244.90" r="1.75" fill="#ef7d1e" stroke="#1a1a1a" stroke-width="0.50"/>
<circle cx="651.60" cy="249.60" r="1.75" fill="#ef7d1e" stroke="#1a1a1a" stroke-width="0.50"/>
<circle cx="652.00" cy="252.10" r="1.75" fill="#ef7d1e" stroke="#1a1a1a" stroke-width="0.50"/>
<circle cx="659.60" cy="255.30" r="1.75" fill="#ef7d1e" stroke="#1a1a1a" stroke-width="0.50"/>
<circle cx="652.90" cy="260.00" r="1.75" fill="#ef7d1e" stroke="#1a1a1a" stroke-width="0.50"/>
<circle cx="652.00" cy="261.90" r="1.75" fill="#ef7d1e" stroke="#1a1a1a" stroke-width="0.50"/>
<circle cx="655.80" cy="265.70" r="1.75" fill="#ef7d1e" stroke="#1a1a1a" stroke-width="0.50"/>
<circle cx="657.70" cy="267.60" r="1.75" fill="#ef7d1e" stroke="#1a1a1a" stroke-width="0.50"/>
<circle cx="651.60" cy="271.80" r="1.75" fill="#ef7d1e" stroke="#1a1a1a" stroke-width="0.50"/>
<circle cx="655.80" cy="271.80" r="1.75" fill="#ef7d1e" stroke="#1a1a1a" stroke-width="0.50"/>
<circle cx="657.70" cy="271.80" r="1.75" fill="#ef7d1e" stroke="#1a1a1a" stroke-width="0.50"/>
<circle cx="655.40" cy="309.00" r="1.75" fill="#ef7d1e" stroke="#1a1a1a" stroke-width="0.50"/>
<circle cx="653.90" cy="312.20" r="1.75" fill="#ef7d1e" stroke="#1a1a1a" stroke-width="0.50"/>
<circle cx="659.20" cy="315.00" r="1.75" fill="#ef7d1e" stroke="#1a1a1a" stroke-width="0.50"/>
<circle cx="651.32" cy="275.60" r="1.75" fill="#ef7d1e" stroke="#1a1a1a" stroke-width="0.50"/>
<circle cx="652.98" cy="276.25" r="1.75" fill="#ef7d1e" stroke="#1a1a1a" stroke-width="0.50"/>
<circle cx="658.80" cy="276.86" r="1.75" fill="#ef7d1e" stroke="#1a1a1a" stroke-width="0.50"/>
<circle cx="652.26" cy="277.22" r="1.75" fill="#ef7d1e" stroke="#1a1a1a" stroke-width="0.50"/>
<circle cx="651.87" cy="278.18" r="1.75" fill="#ef7d1e" stroke="#1a1a1a" stroke-width="0.50"/>
<circle cx="658.58" cy="278.63" r="1.75" fill="#ef7d1e" stroke="#1a1a1a" stroke-width="0.50"/>
<circle cx="655.07" cy="279.09" r="1.75" fill="#ef7d1e" stroke="#1a1a1a" stroke-width="0.50"/>
<circle cx="658.41" cy="279.82" r="1.75" fill="#ef7d1e" stroke="#1a1a1a" stroke-width="0.50"/>
<circle cx="656.65" cy="280.25" r="1.75" fill="#ef7d1e" stroke="#1a1a1a" stroke-width="0.50"/>
<circle cx="652.99" cy="280.84" r="1.75" fill="#ef7d1e" stroke="#1a1a1a" stroke-width="0.50"/>
<circle cx="657.42" cy="281.81" r="1.75" fill="#ef7d1e" stroke="#1a1a1a" stroke-width="0.50"/>
<circle cx="652.30" cy="282.66" r="1.75" fill="#ef7d1e" stroke="#1a1a1a" stroke-width="0.50"/>
<circle cx="653.40" cy="283.01" r="1.75" fill="#ef7d1e" stroke="#1a1a1a" stroke-width="0.50"/>
<circle cx="652.40" cy="283.56" r="1.75" fill="#ef7d1e" stroke="#1a1a1a" stroke-width="0.50"/>
<circle cx="658.56" cy="284.25" r="1.75" fill="#ef7d1e" stroke="#1a1a1a" stroke-width="0.50"/>
<circle cx="652.51" cy="284.99" r="1.75" fill="#ef7d1e" stroke="#1a1a1a" stroke-width="0.50"/>
<circle cx="653.86" cy="285.91" r="1.75" fill="#ef7d1e" stroke="#1a1a1a" stroke-width="0.50"/>
<circle cx="652.03" cy="286.60" r="1.75" fill="#ef7d1e" stroke="#1a1a1a" stroke-width="0.50"/>
<circle cx="651.51" cy="287.19" r="1.75" fill="#ef7d1e" stroke="#1a1a1a" stroke-width="0.50"/>
<circle cx="657.01" cy="287.39" r="1.75" fill="#ef7d1e" stroke="#1a1a1a" stroke-width="0.50"/>
<circle cx="655.30" cy="288.09" r="1.75" fill="#ef7d1e" stroke="#1a1a1a" stroke-width="0.50"/>
<circle cx="653.32" cy="288.68" r="1.75" fill="#ef7d1e" stroke="#1a1a1a" stroke-width="0.50"/>
<circle cx="654.28" cy="289.83" r="1.75" fill="#ef7d1e" stroke="#1a1a1a" stroke-width="0.50"/>
<circle cx="659.98" cy="290.44" r="1.75" fill="#ef7d1e" stroke="#1a1a1a" stroke-width="0.50"/>
<circle cx="651.88" cy="290.67" r="1.75" fill="#ef7d1e" stroke="#1a1a1a" stroke-width="0.50"/>
<circle cx="659.07" cy="291.17" r="1.75" fill="#ef7d1e" stroke="#1a1a1a" stroke-width="0.50"/>
<circle cx="657.54" cy="291.96" r="1.75" fill="#ef7d1e" stroke="#1a1a1a" stroke-width="0.50"/>
<circle cx="659.81" cy="292.43" r="1.75" fill="#ef7d1e" stroke="#1a1a1a" stroke-width="0.50"/>
<circle cx="658.26" cy="293.28" r="1.75" fill="#ef7d1e" stroke="#1a1a1a" stroke-width="0.50"/>
<circle cx="652.26" cy="293.71" r="1.75" fill="#ef7d1e" stroke="#1a1a1a" stroke-width="0.50"/>
<circle cx="658.49" cy="294.69" r="1.75" fill="#ef7d1e" stroke="#1a1a1a" stroke-width="0.50"/>
<line x1="559.40" y1="347.00" x2="559.40" y2="349.50" stroke="#686868" stroke-width="0.90" />
<line x1="607.50" y1="347.00" x2="607.50" y2="349.50" stroke="#686868" stroke-width="0.90" />
<line x1="655.60" y1="347.00" x2="655.60" y2="349.50" stroke="#686868" stroke-width="0.90" />
<text x="559.40" y="361.74" font-size="9.00" text-anchor="middle" fill="#161616" stroke="#161616" stroke-width="0.12" >N</text>
<text x="559.40" y="373.04" font-size="9.00" text-anchor="middle" fill="#161616" stroke="#161616" stroke-width="0.12" >(<tspan font-style="italic">n</tspan> = 35)</text>
<text x="607.50" y="361.74" font-size="9.00" text-anchor="middle" fill="#161616" stroke="#161616" stroke-width="0.12" >P (no-BF)</text>
<text x="607.50" y="373.04" font-size="9.00" text-anchor="middle" fill="#161616" stroke="#161616" stroke-width="0.12" >(<tspan font-style="italic">n</tspan> = 40)</text>
<text x="655.60" y="361.74" font-size="9.00" text-anchor="middle" fill="#161616" stroke="#161616" stroke-width="0.12" >P (BF)</text>
<text x="655.60" y="373.04" font-size="9.00" text-anchor="middle" fill="#161616" stroke="#161616" stroke-width="0.12" >(<tspan font-style="italic">n</tspan> = 50)</text>
<line x1="54.00" y1="338.60" x2="56.50" y2="338.60" stroke="#686868" stroke-width="0.90" />
<text x="50.40" y="341.98" font-size="9.40" text-anchor="end" fill="#161616" stroke="#161616" stroke-width="0.12" >0</text>
<line x1="54.00" y1="302.88" x2="56.50" y2="302.88" stroke="#686868" stroke-width="0.90" />
<text x="50.40" y="306.26" font-size="9.40" text-anchor="end" fill="#161616" stroke="#161616" stroke-width="0.12" >2,000</text>
<line x1="54.00" y1="267.15" x2="56.50" y2="267.15" stroke="#686868" stroke-width="0.90" />
<text x="50.40" y="270.53" font-size="9.40" text-anchor="end" fill="#161616" stroke="#161616" stroke-width="0.12" >4,000</text>
<line x1="54.00" y1="231.43" x2="56.50" y2="231.43" stroke="#686868" stroke-width="0.90" />
<text x="50.40" y="234.81" font-size="9.40" text-anchor="end" fill="#161616" stroke="#161616" stroke-width="0.12" >6,000</text>
<line x1="54.00" y1="195.70" x2="56.50" y2="195.70" stroke="#686868" stroke-width="0.90" />
<text x="50.40" y="199.08" font-size="9.40" text-anchor="end" fill="#161616" stroke="#161616" stroke-width="0.12" >8,000</text>
<text x="4.80" y="260.24" font-size="9.00" text-anchor="middle" fill="#161616" stroke="#161616" stroke-width="0.12" transform="rotate(-90 4.80 257.00)" >ESTIMATE</text>
<text x="15.60" y="260.35" font-size="9.30" text-anchor="middle" fill="#161616" stroke="#161616" stroke-width="0.12" transform="rotate(-90 15.60 257.00)" >immune infiltration score</text>
<rect x="75.50" y="401.60" width="210.10" height="105.60" stroke="#686868" stroke-width="0.90" fill="none"/>
<line x1="75.50" y1="494.40" x2="285.60" y2="494.40" stroke="#999" stroke-width="0.90" />
<rect x="84.60" y="495.5" width="191.40" height="8" fill="#dcdcdc"/>
<rect x="84.60" y="495.5" width="39.40" height="8" fill="#ef8328"/>
<rect x="93.98" y="495.5" width="0.5" height="8" fill="#f6b57e" fill-opacity="0.8"/>
<rect x="106.04" y="495.5" width="0.5" height="8" fill="#f6b57e" fill-opacity="0.8"/>
<rect x="99.18" y="495.5" width="0.5" height="8" fill="#f6b57e" fill-opacity="0.8"/>
<rect x="108.39" y="495.5" width="0.5" height="8" fill="#f6b57e" fill-opacity="0.8"/>
<rect x="109.25" y="495.5" width="0.5" height="8" fill="#f6b57e" fill-opacity="0.8"/>
<rect x="87.18" y="495.5" width="0.5" height="8" fill="#f6b57e" fill-opacity="0.8"/>
<rect x="85.12" y="495.5" width="0.5" height="8" fill="#f6b57e" fill-opacity="0.8"/>
<rect x="117.60" y="495.5" width="0.5" height="8" fill="#f6b57e" fill-opacity="0.8"/>
<rect x="94.82" y="495.5" width="0.5" height="8" fill="#f6b57e" fill-opacity="0.8"/>
<rect x="93.83" y="495.5" width="0.5" height="8" fill="#f6b57e" fill-opacity="0.8"/>
<rect x="123.83" y="495.5" width="0.5" height="8" fill="#f6b57e" fill-opacity="0.8"/>
<rect x="103.13" y="495.5" width="0.5" height="8" fill="#f6b57e" fill-opacity="0.8"/>
<rect x="117.56" y="495.5" width="0.5" height="8" fill="#f6b57e" fill-opacity="0.8"/>
<rect x="103.37" y="495.5" width="0.5" height="8" fill="#f6b57e" fill-opacity="0.8"/>
<rect x="109.78" y="495.5" width="0.5" height="8" fill="#f6b57e" fill-opacity="0.8"/>
<rect x="90.53" y="495.5" width="0.5" height="8" fill="#f6b57e" fill-opacity="0.8"/>
<rect x="109.61" y="495.5" width="0.5" height="8" fill="#f6b57e" fill-opacity="0.8"/>
<rect x="126.40" y="495.5" width="2.40" height="8" fill="#ef8328"/>
<rect x="128.48" y="495.5" width="0.5" height="8" fill="#f6b57e" fill-opacity="0.8"/>
<rect x="130.40" y="495.5" width="5.60" height="8" fill="#ef8328"/>
<rect x="133.33" y="495.5" width="0.5" height="8" fill="#f6b57e" fill-opacity="0.8"/>
<rect x="134.55" y="495.5" width="0.5" height="8" fill="#f6b57e" fill-opacity="0.8"/>
<rect x="138.00" y="495.5" width="6.00" height="8" fill="#ef8328"/>
<rect x="142.03" y="495.5" width="0.5" height="8" fill="#f6b57e" fill-opacity="0.8"/>
<rect x="138.38" y="495.5" width="0.5" height="8" fill="#f6b57e" fill-opacity="0.8"/>
<rect x="145.30" y="495.5" width="3.60" height="8" fill="#ef8328"/>
<rect x="148.03" y="495.5" width="0.5" height="8" fill="#f6b57e" fill-opacity="0.8"/>
<rect x="150.80" y="495.5" width="2.90" height="8" fill="#ef8328"/>
<rect x="152.51" y="495.5" width="0.5" height="8" fill="#f6b57e" fill-opacity="0.8"/>
<rect x="154.80" y="495.5" width="2.10" height="8" fill="#ef8328"/>
<rect x="158.50" y="495.5" width="9.60" height="8" fill="#ef8328"/>
<rect x="161.39" y="495.5" width="0.5" height="8" fill="#f6b57e" fill-opacity="0.8"/>
<rect x="158.80" y="495.5" width="0.5" height="8" fill="#f6b57e" fill-opacity="0.8"/>
<rect x="166.81" y="495.5" width="0.5" height="8" fill="#f6b57e" fill-opacity="0.8"/>
<rect x="163.04" y="495.5" width="0.5" height="8" fill="#f6b57e" fill-opacity="0.8"/>
<rect x="172.60" y="495.5" width="9.40" height="8" fill="#ef8328"/>
<rect x="179.36" y="495.5" width="0.5" height="8" fill="#f6b57e" fill-opacity="0.8"/>
<rect x="180.86" y="495.5" width="0.5" height="8" fill="#f6b57e" fill-opacity="0.8"/>
<rect x="179.31" y="495.5" width="0.5" height="8" fill="#f6b57e" fill-opacity="0.8"/>
<rect x="181.26" y="495.5" width="0.5" height="8" fill="#f6b57e" fill-opacity="0.8"/>
<rect x="184.00" y="495.5" width="1.60" height="8" fill="#ef8328"/>
<rect x="187.20" y="495.5" width="5.60" height="8" fill="#ef8328"/>
<rect x="189.41" y="495.5" width="0.5" height="8" fill="#f6b57e" fill-opacity="0.8"/>
<rect x="191.69" y="495.5" width="0.5" height="8" fill="#f6b57e" fill-opacity="0.8"/>
<rect x="194.10" y="495.5" width="3.60" height="8" fill="#ef8328"/>
<rect x="195.70" y="495.5" width="0.5" height="8" fill="#f6b57e" fill-opacity="0.8"/>
<rect x="199.00" y="495.5" width="13.10" height="8" fill="#ef8328"/>
<rect x="211.26" y="495.5" width="0.5" height="8" fill="#f6b57e" fill-opacity="0.8"/>
<rect x="210.51" y="495.5" width="0.5" height="8" fill="#f6b57e" fill-opacity="0.8"/>
<rect x="200.28" y="495.5" width="0.5" height="8" fill="#f6b57e" fill-opacity="0.8"/>
<rect x="200.78" y="495.5" width="0.5" height="8" fill="#f6b57e" fill-opacity="0.8"/>
<rect x="201.84" y="495.5" width="0.5" height="8" fill="#f6b57e" fill-opacity="0.8"/>
<rect x="214.50" y="495.5" width="6.50" height="8" fill="#ef8328"/>
<rect x="220.78" y="495.5" width="0.5" height="8" fill="#f6b57e" fill-opacity="0.8"/>
<rect x="217.34" y="495.5" width="0.5" height="8" fill="#f6b57e" fill-opacity="0.8"/>
<rect x="222.00" y="495.5" width="3.80" height="8" fill="#ef8328"/>
<rect x="224.38" y="495.5" width="0.5" height="8" fill="#f6b57e" fill-opacity="0.8"/>
<rect x="232.20" y="495.5" width="11.20" height="8" fill="#ef8328"/>
<rect x="235.57" y="495.5" width="0.5" height="8" fill="#f6b57e" fill-opacity="0.8"/>
<rect x="237.88" y="495.5" width="0.5" height="8" fill="#f6b57e" fill-opacity="0.8"/>
<rect x="236.52" y="495.5" width="0.5" height="8" fill="#f6b57e" fill-opacity="0.8"/>
<rect x="236.13" y="495.5" width="0.5" height="8" fill="#f6b57e" fill-opacity="0.8"/>
<rect x="238.75" y="495.5" width="0.5" height="8" fill="#f6b57e" fill-opacity="0.8"/>
<rect x="244.60" y="495.5" width="2.80" height="8" fill="#ef8328"/>
<rect x="246.24" y="495.5" width="0.5" height="8" fill="#f6b57e" fill-opacity="0.8"/>
<rect x="249.90" y="495.5" width="10.40" height="8" fill="#ef8328"/>
<rect x="259.30" y="495.5" width="0.5" height="8" fill="#f6b57e" fill-opacity="0.8"/>
<rect x="256.99" y="495.5" width="0.5" height="8" fill="#f6b57e" fill-opacity="0.8"/>
<rect x="259.56" y="495.5" width="0.5" height="8" fill="#f6b57e" fill-opacity="0.8"/>
<rect x="258.81" y="495.5" width="0.5" height="8" fill="#f6b57e" fill-opacity="0.8"/>
<rect x="264.30" y="495.5" width="7.20" height="8" fill="#ef8328"/>
<rect x="271.44" y="495.5" width="0.5" height="8" fill="#f6b57e" fill-opacity="0.8"/>
<rect x="269.13" y="495.5" width="0.5" height="8" fill="#f6b57e" fill-opacity="0.8"/>
<rect x="265.47" y="495.5" width="0.5" height="8" fill="#f6b57e" fill-opacity="0.8"/>
<rect x="274.00" y="495.5" width="2.00" height="8" fill="#ef8328"/>
<line x1="75.50" y1="450.60" x2="285.60" y2="450.60" stroke="#222" stroke-width="0.90" stroke-dasharray="3,2.2"/>
<line x1="73.00" y1="407.80" x2="75.50" y2="407.80" stroke="#686868" stroke-width="0.90" />
<text x="68.30" y="411.04" font-size="9.00" text-anchor="end" fill="#161616" stroke="#161616" stroke-width="0.12" >0.4</text>
<line x1="73.00" y1="429.30" x2="75.50" y2="429.30" stroke="#686868" stroke-width="0.90" />
<text x="68.30" y="432.54" font-size="9.00" text-anchor="end" fill="#161616" stroke="#161616" stroke-width="0.12" >0.2</text>
<line x1="73.00" y1="450.50" x2="75.50" y2="450.50" stroke="#686868" stroke-width="0.90" />
<text x="68.30" y="453.74" font-size="9.00" text-anchor="end" fill="#161616" stroke="#161616" stroke-width="0.12" >0</text>
<line x1="73.00" y1="471.50" x2="75.50" y2="471.50" stroke="#686868" stroke-width="0.90" />
<text x="68.30" y="474.74" font-size="9.00" text-anchor="end" fill="#161616" stroke="#161616" stroke-width="0.12" >−0.2</text>
<line x1="73.00" y1="492.80" x2="75.50" y2="492.80" stroke="#686868" stroke-width="0.90" />
<text x="68.30" y="496.04" font-size="9.00" text-anchor="end" fill="#161616" stroke="#161616" stroke-width="0.12" >−0.4</text>
<line x1="85.40" y1="507.20" x2="85.40" y2="509.70" stroke="#686868" stroke-width="0.90" />
<line x1="85.40" y1="494.40" x2="85.40" y2="496.00" stroke="#666" stroke-width="0.70" />
<text x="85.40" y="521.24" font-size="9.00" text-anchor="middle" fill="#161616" stroke="#161616" stroke-width="0.12" >0</text>
<line x1="133.61" y1="507.20" x2="133.61" y2="509.70" stroke="#686868" stroke-width="0.90" />
<line x1="133.61" y1="494.40" x2="133.61" y2="496.00" stroke="#666" stroke-width="0.70" />
<text x="133.61" y="521.24" font-size="9.00" text-anchor="middle" fill="#161616" stroke="#161616" stroke-width="0.12" >3,000</text>
<line x1="181.82" y1="507.20" x2="181.82" y2="509.70" stroke="#686868" stroke-width="0.90" />
<line x1="181.82" y1="494.40" x2="181.82" y2="496.00" stroke="#666" stroke-width="0.70" />
<text x="181.82" y="521.24" font-size="9.00" text-anchor="middle" fill="#161616" stroke="#161616" stroke-width="0.12" >6,000</text>
<line x1="230.03" y1="507.20" x2="230.03" y2="509.70" stroke="#686868" stroke-width="0.90" />
<line x1="230.03" y1="494.40" x2="230.03" y2="496.00" stroke="#666" stroke-width="0.70" />
<text x="230.03" y="521.24" font-size="9.00" text-anchor="middle" fill="#161616" stroke="#161616" stroke-width="0.12" >9,000</text>
<line x1="278.24" y1="507.20" x2="278.24" y2="509.70" stroke="#686868" stroke-width="0.90" />
<line x1="278.24" y1="494.40" x2="278.24" y2="496.00" stroke="#666" stroke-width="0.70" />
<text x="278.24" y="521.24" font-size="9.00" text-anchor="middle" fill="#161616" stroke="#161616" stroke-width="0.12" >12,000</text>
<polyline fill="none" stroke="#e8472b" stroke-width="1.70" stroke-linejoin="round" points="85.40,450.42 86.50,446.10 88.00,437.68 89.80,429.25 90.90,427.41 92.00,425.64 93.00,423.83 94.00,423.19 95.00,422.21 96.17,421.60 97.33,419.62 98.50,419.09 99.60,417.68 100.70,417.76 101.80,416.51 102.90,414.40 104.00,414.84 105.10,413.74 106.20,412.56 107.30,411.81 108.40,410.39 109.50,409.47 110.60,409.61 111.70,408.17 112.80,407.69 113.90,407.09 114.99,406.44 116.08,406.82 117.16,406.47 118.25,406.80 119.34,405.97 120.42,405.85 121.51,405.31 122.60,405.26 123.70,405.23 124.80,405.25 125.90,406.70 127.00,406.99 128.10,407.04 129.20,407.13 130.30,406.80 131.40,407.25 132.47,407.48 133.55,407.56 134.62,408.15 135.70,408.14 136.78,408.59 137.85,408.54 138.93,409.06 140.00,409.19 141.00,409.06 142.00,409.52 143.00,410.25 144.00,410.34 145.00,410.97 146.00,410.98 147.00,411.14 148.00,411.79 149.00,412.22 150.00,412.27 151.20,412.27 152.40,412.51 153.60,412.96 154.80,412.94 155.82,413.01 156.84,413.50 157.86,413.84 158.88,414.23 159.90,415.07 160.92,415.14 161.94,415.77 162.96,416.13 163.98,416.41 165.00,417.13 166.04,417.43 167.09,418.35 168.13,418.69 169.17,419.50 170.21,420.02 171.26,420.69 172.30,421.71 173.34,422.26 174.39,422.61 175.43,423.57 176.47,423.83 177.51,424.57 178.56,425.46 179.60,425.98 180.63,426.18 181.67,427.19 182.70,427.26 183.73,427.80 184.77,428.59 185.80,428.85 186.83,429.34 187.87,429.73 188.90,430.25 189.93,431.03 190.97,431.35 192.00,432.06 193.04,432.45 194.08,433.02 195.12,433.83 196.17,434.09 197.21,434.67 198.25,435.36 199.29,435.50 200.33,436.01 201.38,436.95 202.42,437.43 203.46,437.63 204.50,438.13 205.56,438.79 206.63,439.26 207.69,439.20 208.76,439.98 209.82,440.30 210.89,440.50 211.95,440.76 213.01,440.94 214.08,441.26 215.14,442.13 216.21,442.08 217.27,442.70 218.34,442.81 219.40,443.48 220.47,443.94 221.55,444.36 222.62,444.88 223.70,445.77 224.78,446.00 225.85,446.67 226.93,447.45 228.00,448.20 229.03,448.50 230.07,448.74 231.10,449.53 232.13,449.57 233.17,449.90 234.20,450.47 235.28,450.76 236.36,450.73 237.44,450.99 238.52,451.29 239.60,451.59 240.68,451.53 241.76,451.85 242.84,452.34 243.92,452.58 245.00,452.59 246.00,452.68 247.00,452.69 248.00,452.51 249.00,452.52 250.00,452.58 251.00,453.15 252.00,453.31 253.00,453.80 254.00,452.36 255.00,453.42 256.03,453.25 257.06,453.73 258.09,453.15 259.12,454.32 260.15,452.92 261.18,453.75 262.21,454.14 263.24,454.48 264.27,454.30 265.30,454.33 266.42,454.22 267.53,454.16 268.65,453.01 269.77,453.30 270.88,453.39 272.00,453.09 273.10,451.79 274.20,451.81 275.30,451.36 276.40,450.20" />
<text x="209.00" y="473.91" font-size="9.20" text-anchor="middle" fill="#161616" stroke="#161616" stroke-width="0.12" >FDR = 6.78 × 10<tspan dy="-3.50" font-size="5.98">−7</tspan><tspan dy="3.50">, NES = 1.77</tspan></text>
<text x="180.55" y="535.63" font-size="9.25" text-anchor="middle" fill="#161616" stroke="#161616" stroke-width="0.12" >Genes ranked by log<tspan dy="2.04" font-size="6.01">2</tspan><tspan dy="-2.04">[FC]</tspan></text>
<text x="28.00" y="451.42" font-size="9.50" text-anchor="middle" fill="#161616" stroke="#161616" stroke-width="0.12" transform="rotate(-90 28.00 448.00)" >PB-T<tspan dy="2.09" font-size="6.17">RM</tspan><tspan dy="-2.09"> signature</tspan></text>
<text x="38.90" y="451.38" font-size="9.40" text-anchor="middle" fill="#161616" stroke="#161616" stroke-width="0.12" transform="rotate(-90 38.90 448.00)" >enrichment score</text>
<rect x="375.50" y="400.70" width="210.10" height="104.60" stroke="#686868" stroke-width="0.90" fill="none"/>
<line x1="375.50" y1="494.40" x2="585.60" y2="494.40" stroke="#999" stroke-width="0.90" />
<rect x="384.60" y="495.5" width="191.40" height="8" fill="#dcdcdc"/>
<rect x="384.60" y="495.5" width="39.40" height="8" fill="#ef8328"/>
<rect x="393.98" y="495.5" width="0.5" height="8" fill="#f6b57e" fill-opacity="0.8"/>
<rect x="406.04" y="495.5" width="0.5" height="8" fill="#f6b57e" fill-opacity="0.8"/>
<rect x="399.18" y="495.5" width="0.5" height="8" fill="#f6b57e" fill-opacity="0.8"/>
<rect x="408.39" y="495.5" width="0.5" height="8" fill="#f6b57e" fill-opacity="0.8"/>
<rect x="409.25" y="495.5" width="0.5" height="8" fill="#f6b57e" fill-opacity="0.8"/>
<rect x="387.18" y="495.5" width="0.5" height="8" fill="#f6b57e" fill-opacity="0.8"/>
<rect x="385.12" y="495.5" width="0.5" height="8" fill="#f6b57e" fill-opacity="0.8"/>
<rect x="417.60" y="495.5" width="0.5" height="8" fill="#f6b57e" fill-opacity="0.8"/>
<rect x="394.82" y="495.5" width="0.5" height="8" fill="#f6b57e" fill-opacity="0.8"/>
<rect x="393.83" y="495.5" width="0.5" height="8" fill="#f6b57e" fill-opacity="0.8"/>
<rect x="423.83" y="495.5" width="0.5" height="8" fill="#f6b57e" fill-opacity="0.8"/>
<rect x="403.13" y="495.5" width="0.5" height="8" fill="#f6b57e" fill-opacity="0.8"/>
<rect x="417.56" y="495.5" width="0.5" height="8" fill="#f6b57e" fill-opacity="0.8"/>
<rect x="403.37" y="495.5" width="0.5" height="8" fill="#f6b57e" fill-opacity="0.8"/>
<rect x="409.78" y="495.5" width="0.5" height="8" fill="#f6b57e" fill-opacity="0.8"/>
<rect x="390.53" y="495.5" width="0.5" height="8" fill="#f6b57e" fill-opacity="0.8"/>
<rect x="409.61" y="495.5" width="0.5" height="8" fill="#f6b57e" fill-opacity="0.8"/>
<rect x="426.40" y="495.5" width="2.40" height="8" fill="#ef8328"/>
<rect x="428.48" y="495.5" width="0.5" height="8" fill="#f6b57e" fill-opacity="0.8"/>
<rect x="430.40" y="495.5" width="5.60" height="8" fill="#ef8328"/>
<rect x="433.33" y="495.5" width="0.5" height="8" fill="#f6b57e" fill-opacity="0.8"/>
<rect x="434.55" y="495.5" width="0.5" height="8" fill="#f6b57e" fill-opacity="0.8"/>
<rect x="438.00" y="495.5" width="6.00" height="8" fill="#ef8328"/>
<rect x="442.03" y="495.5" width="0.5" height="8" fill="#f6b57e" fill-opacity="0.8"/>
<rect x="438.38" y="495.5" width="0.5" height="8" fill="#f6b57e" fill-opacity="0.8"/>
<rect x="445.30" y="495.5" width="3.60" height="8" fill="#ef8328"/>
<rect x="448.03" y="495.5" width="0.5" height="8" fill="#f6b57e" fill-opacity="0.8"/>
<rect x="450.80" y="495.5" width="2.90" height="8" fill="#ef8328"/>
<rect x="452.51" y="495.5" width="0.5" height="8" fill="#f6b57e" fill-opacity="0.8"/>
<rect x="454.80" y="495.5" width="2.10" height="8" fill="#ef8328"/>
<rect x="458.50" y="495.5" width="9.60" height="8" fill="#ef8328"/>
<rect x="461.39" y="495.5" width="0.5" height="8" fill="#f6b57e" fill-opacity="0.8"/>
<rect x="458.80" y="495.5" width="0.5" height="8" fill="#f6b57e" fill-opacity="0.8"/>
<rect x="466.81" y="495.5" width="0.5" height="8" fill="#f6b57e" fill-opacity="0.8"/>
<rect x="463.04" y="495.5" width="0.5" height="8" fill="#f6b57e" fill-opacity="0.8"/>
<rect x="472.60" y="495.5" width="9.40" height="8" fill="#ef8328"/>
<rect x="479.36" y="495.5" width="0.5" height="8" fill="#f6b57e" fill-opacity="0.8"/>
<rect x="480.86" y="495.5" width="0.5" height="8" fill="#f6b57e" fill-opacity="0.8"/>
<rect x="479.31" y="495.5" width="0.5" height="8" fill="#f6b57e" fill-opacity="0.8"/>
<rect x="481.26" y="495.5" width="0.5" height="8" fill="#f6b57e" fill-opacity="0.8"/>
<rect x="484.00" y="495.5" width="1.60" height="8" fill="#ef8328"/>
<rect x="487.20" y="495.5" width="5.60" height="8" fill="#ef8328"/>
<rect x="489.41" y="495.5" width="0.5" height="8" fill="#f6b57e" fill-opacity="0.8"/>
<rect x="491.69" y="495.5" width="0.5" height="8" fill="#f6b57e" fill-opacity="0.8"/>
<rect x="494.10" y="495.5" width="3.60" height="8" fill="#ef8328"/>
<rect x="495.70" y="495.5" width="0.5" height="8" fill="#f6b57e" fill-opacity="0.8"/>
<rect x="499.00" y="495.5" width="13.10" height="8" fill="#ef8328"/>
<rect x="511.26" y="495.5" width="0.5" height="8" fill="#f6b57e" fill-opacity="0.8"/>
<rect x="510.51" y="495.5" width="0.5" height="8" fill="#f6b57e" fill-opacity="0.8"/>
<rect x="500.28" y="495.5" width="0.5" height="8" fill="#f6b57e" fill-opacity="0.8"/>
<rect x="500.78" y="495.5" width="0.5" height="8" fill="#f6b57e" fill-opacity="0.8"/>
<rect x="501.84" y="495.5" width="0.5" height="8" fill="#f6b57e" fill-opacity="0.8"/>
<rect x="514.50" y="495.5" width="6.50" height="8" fill="#ef8328"/>
<rect x="520.78" y="495.5" width="0.5" height="8" fill="#f6b57e" fill-opacity="0.8"/>
<rect x="517.34" y="495.5" width="0.5" height="8" fill="#f6b57e" fill-opacity="0.8"/>
<rect x="522.00" y="495.5" width="3.80" height="8" fill="#ef8328"/>
<rect x="524.38" y="495.5" width="0.5" height="8" fill="#f6b57e" fill-opacity="0.8"/>
<rect x="532.20" y="495.5" width="11.20" height="8" fill="#ef8328"/>
<rect x="535.57" y="495.5" width="0.5" height="8" fill="#f6b57e" fill-opacity="0.8"/>
<rect x="537.88" y="495.5" width="0.5" height="8" fill="#f6b57e" fill-opacity="0.8"/>
<rect x="536.52" y="495.5" width="0.5" height="8" fill="#f6b57e" fill-opacity="0.8"/>
<rect x="536.13" y="495.5" width="0.5" height="8" fill="#f6b57e" fill-opacity="0.8"/>
<rect x="538.75" y="495.5" width="0.5" height="8" fill="#f6b57e" fill-opacity="0.8"/>
<rect x="544.60" y="495.5" width="2.80" height="8" fill="#ef8328"/>
<rect x="546.24" y="495.5" width="0.5" height="8" fill="#f6b57e" fill-opacity="0.8"/>
<rect x="549.90" y="495.5" width="10.40" height="8" fill="#ef8328"/>
<rect x="559.30" y="495.5" width="0.5" height="8" fill="#f6b57e" fill-opacity="0.8"/>
<rect x="556.99" y="495.5" width="0.5" height="8" fill="#f6b57e" fill-opacity="0.8"/>
<rect x="559.56" y="495.5" width="0.5" height="8" fill="#f6b57e" fill-opacity="0.8"/>
<rect x="558.81" y="495.5" width="0.5" height="8" fill="#f6b57e" fill-opacity="0.8"/>
<rect x="564.30" y="495.5" width="7.20" height="8" fill="#ef8328"/>
<rect x="571.44" y="495.5" width="0.5" height="8" fill="#f6b57e" fill-opacity="0.8"/>
<rect x="569.13" y="495.5" width="0.5" height="8" fill="#f6b57e" fill-opacity="0.8"/>
<rect x="565.47" y="495.5" width="0.5" height="8" fill="#f6b57e" fill-opacity="0.8"/>
<rect x="574.00" y="495.5" width="2.00" height="8" fill="#ef8328"/>
<line x1="375.50" y1="451.80" x2="585.60" y2="451.80" stroke="#222" stroke-width="0.90" stroke-dasharray="3,2.2"/>
<line x1="373.00" y1="408.00" x2="375.50" y2="408.00" stroke="#686868" stroke-width="0.90" />
<text x="368.30" y="411.24" font-size="9.00" text-anchor="end" fill="#161616" stroke="#161616" stroke-width="0.12" >0.3</text>
<line x1="373.00" y1="422.70" x2="375.50" y2="422.70" stroke="#686868" stroke-width="0.90" />
<text x="368.30" y="425.94" font-size="9.00" text-anchor="end" fill="#161616" stroke="#161616" stroke-width="0.12" >0.2</text>
<line x1="373.00" y1="437.40" x2="375.50" y2="437.40" stroke="#686868" stroke-width="0.90" />
<text x="368.30" y="440.64" font-size="9.00" text-anchor="end" fill="#161616" stroke="#161616" stroke-width="0.12" >0.1</text>
<line x1="373.00" y1="451.80" x2="375.50" y2="451.80" stroke="#686868" stroke-width="0.90" />
<text x="368.30" y="455.04" font-size="9.00" text-anchor="end" fill="#161616" stroke="#161616" stroke-width="0.12" >0</text>
<line x1="373.00" y1="466.70" x2="375.50" y2="466.70" stroke="#686868" stroke-width="0.90" />
<text x="368.30" y="469.94" font-size="9.00" text-anchor="end" fill="#161616" stroke="#161616" stroke-width="0.12" >−0.1</text>
<line x1="373.00" y1="481.20" x2="375.50" y2="481.20" stroke="#686868" stroke-width="0.90" />
<text x="368.30" y="484.44" font-size="9.00" text-anchor="end" fill="#161616" stroke="#161616" stroke-width="0.12" >−0.2</text>
<line x1="385.40" y1="505.30" x2="385.40" y2="507.80" stroke="#686868" stroke-width="0.90" />
<line x1="385.40" y1="494.40" x2="385.40" y2="496.00" stroke="#666" stroke-width="0.70" />
<text x="385.40" y="521.24" font-size="9.00" text-anchor="middle" fill="#161616" stroke="#161616" stroke-width="0.12" >0</text>
<line x1="424.64" y1="505.30" x2="424.64" y2="507.80" stroke="#686868" stroke-width="0.90" />
<line x1="424.64" y1="494.40" x2="424.64" y2="496.00" stroke="#666" stroke-width="0.70" />
<text x="424.64" y="521.24" font-size="9.00" text-anchor="middle" fill="#161616" stroke="#161616" stroke-width="0.12" >2,500</text>
<line x1="463.88" y1="505.30" x2="463.88" y2="507.80" stroke="#686868" stroke-width="0.90" />
<line x1="463.88" y1="494.40" x2="463.88" y2="496.00" stroke="#666" stroke-width="0.70" />
<text x="463.88" y="521.24" font-size="9.00" text-anchor="middle" fill="#161616" stroke="#161616" stroke-width="0.12" >5,000</text>
<line x1="503.12" y1="505.30" x2="503.12" y2="507.80" stroke="#686868" stroke-width="0.90" />
<line x1="503.12" y1="494.40" x2="503.12" y2="496.00" stroke="#666" stroke-width="0.70" />
<text x="503.12" y="521.24" font-size="9.00" text-anchor="middle" fill="#161616" stroke="#161616" stroke-width="0.12" >7,500</text>
<line x1="542.36" y1="505.30" x2="542.36" y2="507.80" stroke="#686868" stroke-width="0.90" />
<line x1="542.36" y1="494.40" x2="542.36" y2="496.00" stroke="#666" stroke-width="0.70" />
<text x="542.36" y="521.24" font-size="9.00" text-anchor="middle" fill="#161616" stroke="#161616" stroke-width="0.12" >10,000</text>
<line x1="581.60" y1="505.30" x2="581.60" y2="507.80" stroke="#686868" stroke-width="0.90" />
<line x1="581.60" y1="494.40" x2="581.60" y2="496.00" stroke="#666" stroke-width="0.70" />
<text x="581.60" y="521.24" font-size="9.00" text-anchor="middle" fill="#161616" stroke="#161616" stroke-width="0.12" >12,500</text>
<polyline fill="none" stroke="#e8472b" stroke-width="1.70" stroke-linejoin="round" points="385.40,451.41 386.50,449.05 387.60,445.99 388.70,444.33 389.80,441.35 390.90,439.49 392.00,437.44 393.07,435.94 394.15,435.12 395.23,432.53 396.30,431.55 397.40,430.56 398.50,430.20 399.60,429.94 400.70,430.11 401.80,429.26 402.90,427.82 403.92,427.12 404.94,425.79 405.96,425.83 406.98,424.62 408.00,423.49 409.18,422.14 410.36,420.63 411.54,419.58 412.72,417.95 413.90,415.71 414.99,415.98 416.07,414.73 417.16,414.48 418.25,413.50 419.34,412.61 420.43,411.83 421.51,411.26 422.60,410.40 423.66,409.70 424.71,410.44 425.77,410.02 426.83,409.93 427.89,409.08 428.94,408.47 430.00,408.40 431.06,407.45 432.11,407.41 433.17,406.94 434.23,406.45 435.29,406.12 436.34,405.96 437.40,405.46 438.49,405.85 439.57,406.20 440.66,406.36 441.74,406.48 442.83,406.95 443.91,407.08 445.00,407.35 446.09,407.72 447.18,408.20 448.27,408.43 449.36,409.14 450.44,409.70 451.53,409.77 452.62,410.34 453.71,410.85 454.80,410.74 455.82,411.30 456.83,412.17 457.85,412.69 458.87,413.08 459.88,413.31 460.90,413.95 461.92,414.71 462.93,415.22 463.95,415.67 464.97,415.83 465.98,416.70 467.00,416.93 468.05,417.76 469.10,418.08 470.15,419.19 471.20,419.62 472.25,420.33 473.30,420.69 474.35,421.56 475.40,422.18 476.45,422.83 477.50,423.34 478.55,424.19 479.60,424.61 480.64,425.32 481.68,425.97 482.72,426.99 483.76,427.40 484.80,428.20 485.84,428.84 486.88,429.89 487.92,430.57 488.96,431.29 490.00,431.74 491.06,432.81 492.11,433.60 493.17,434.31 494.22,435.10 495.28,436.50 496.33,436.85 497.39,437.80 498.44,438.63 499.50,439.65 500.55,439.95 501.60,440.76 502.65,441.30 503.70,442.15 504.75,442.27 505.80,443.05 506.85,443.73 507.90,444.58 508.95,444.92 510.00,445.49 511.06,446.22 512.12,446.65 513.18,447.13 514.24,448.02 515.30,448.88 516.36,449.41 517.42,449.77 518.48,450.64 519.54,451.37 520.60,451.66 521.66,452.45 522.71,452.92 523.77,453.46 524.83,454.08 525.89,454.63 526.94,455.32 528.00,455.74 529.07,456.43 530.14,456.74 531.21,457.60 532.29,458.00 533.36,458.15 534.43,459.07 535.50,459.23 536.56,459.21 537.61,459.08 538.67,458.77 539.72,458.57 540.78,458.47 541.83,458.13 542.89,458.36 543.94,457.76 545.00,457.98 546.01,457.55 547.02,457.51 548.03,457.47 549.04,457.18 550.06,457.15 551.07,457.04 552.08,457.08 553.09,457.69 554.10,457.78 555.25,456.19 556.40,456.89 557.55,456.16 558.70,457.15 559.85,456.30 561.00,457.13 562.00,455.97 563.00,454.70 564.00,453.91 565.00,453.70 566.00,454.09 567.00,452.69 568.00,452.97 569.00,452.54 570.00,452.25 571.00,452.73 572.00,451.54 573.00,452.10 574.00,451.77 575.00,451.95 576.00,451.00" />
<text x="520.10" y="477.11" font-size="9.20" text-anchor="middle" fill="#161616" stroke="#161616" stroke-width="0.12" >FDR = 3.98 × 10<tspan dy="-3.50" font-size="5.98">−2</tspan><tspan dy="3.50">, NES = 1.3</tspan></text>
<text x="480.55" y="535.63" font-size="9.25" text-anchor="middle" fill="#161616" stroke="#161616" stroke-width="0.12" >Genes ranked by log<tspan dy="2.04" font-size="6.01">2</tspan><tspan dy="-2.04">[FC]</tspan></text>
<text x="329.10" y="451.42" font-size="9.50" text-anchor="middle" fill="#161616" stroke="#161616" stroke-width="0.12" transform="rotate(-90 329.10 448.00)" >PB-T<tspan dy="2.09" font-size="6.17">RM</tspan><tspan dy="-2.09"> signature</tspan></text>
<text x="340.00" y="451.38" font-size="9.40" text-anchor="middle" fill="#161616" stroke="#161616" stroke-width="0.12" transform="rotate(-90 340.00 448.00)" >enrichment score</text>
<line x1="100.70" y1="725.00" x2="100.70" y2="727.50" stroke="#686868" stroke-width="0.90" />
<line x1="182.20" y1="725.00" x2="182.20" y2="727.50" stroke="#686868" stroke-width="0.90" />
<line x1="320.70" y1="724.60" x2="320.70" y2="727.10" stroke="#686868" stroke-width="0.90" />
<line x1="403.00" y1="724.60" x2="403.00" y2="727.10" stroke="#686868" stroke-width="0.90" />
<line x1="524.50" y1="724.60" x2="524.50" y2="727.10" stroke="#686868" stroke-width="0.90" />
<line x1="580.90" y1="724.60" x2="580.90" y2="727.10" stroke="#686868" stroke-width="0.90" />
<line x1="636.70" y1="724.60" x2="636.70" y2="727.10" stroke="#686868" stroke-width="0.90" />
<rect x="52.60" y="556.70" width="178.60" height="168.30" stroke="#686868" stroke-width="0.90" fill="none"/>
<line x1="50.10" y1="717.10" x2="52.60" y2="717.10" stroke="#686868" stroke-width="0.90" />
<text x="45.90" y="720.41" font-size="9.20" text-anchor="end" fill="#161616" stroke="#161616" stroke-width="0.12" >0</text>
<line x1="50.10" y1="686.60" x2="52.60" y2="686.60" stroke="#686868" stroke-width="0.90" />
<text x="45.90" y="689.91" font-size="9.20" text-anchor="end" fill="#161616" stroke="#161616" stroke-width="0.12" >10</text>
<line x1="50.10" y1="656.10" x2="52.60" y2="656.10" stroke="#686868" stroke-width="0.90" />
<text x="45.90" y="659.41" font-size="9.20" text-anchor="end" fill="#161616" stroke="#161616" stroke-width="0.12" >20</text>
<line x1="50.10" y1="625.60" x2="52.60" y2="625.60" stroke="#686868" stroke-width="0.90" />
<text x="45.90" y="628.91" font-size="9.20" text-anchor="end" fill="#161616" stroke="#161616" stroke-width="0.12" >30</text>
<line x1="50.10" y1="595.10" x2="52.60" y2="595.10" stroke="#686868" stroke-width="0.90" />
<text x="45.90" y="598.41" font-size="9.20" text-anchor="end" fill="#161616" stroke="#161616" stroke-width="0.12" >40</text>
<line x1="50.10" y1="564.60" x2="52.60" y2="564.60" stroke="#686868" stroke-width="0.90" />
<text x="45.90" y="567.91" font-size="9.20" text-anchor="end" fill="#161616" stroke="#161616" stroke-width="0.12" >50</text>
<text x="22.80" y="643.83" font-size="9.25" text-anchor="middle" fill="#161616" stroke="#161616" stroke-width="0.12" transform="rotate(-90 22.80 640.50)" >Intratumoural CD3 density (% pixels)</text>
<text x="141.40" y="573.38" font-size="9.40" text-anchor="middle" fill="#161616" stroke="#161616" stroke-width="0.12" ><tspan font-style="italic">P</tspan> = 0.02, AME = 2.3%</text>
<polyline fill="none" stroke="#777" stroke-width="0.90" stroke-linejoin="round" points="100.70,581.60 100.70,577.40 182.20,577.40 182.20,581.60" />
<line x1="100.70" y1="681.30" x2="100.70" y2="700.80" stroke="#999" stroke-width="0.90" />
<rect x="70.40" y="700.80" width="61.00" height="15.00" stroke="#9a9a9a" stroke-width="0.90" fill="none"/>
<line x1="70.40" y1="714.50" x2="131.40" y2="714.50" stroke="#2a2a2a" stroke-width="1.10" />
<line x1="182.20" y1="682.00" x2="182.20" y2="696.60" stroke="#999" stroke-width="0.90" />
<rect x="151.20" y="696.60" width="61.60" height="16.70" stroke="#9a9a9a" stroke-width="0.90" fill="none"/>
<line x1="151.20" y1="708.50" x2="212.80" y2="708.50" stroke="#2a2a2a" stroke-width="1.10" />
<circle cx="100.30" cy="665.30" r="2.00" fill="#1f67a6" stroke="#1a1a1a" stroke-width="0.50"/>
<circle cx="110.50" cy="671.70" r="2.00" fill="#1f67a6" stroke="#1a1a1a" stroke-width="0.50"/>
<circle cx="108.10" cy="677.20" r="2.00" fill="#1f67a6" stroke="#1a1a1a" stroke-width="0.50"/>
<circle cx="112.60" cy="680.70" r="2.00" fill="#1f67a6" stroke="#1a1a1a" stroke-width="0.50"/>
<circle cx="111.60" cy="686.80" r="2.00" fill="#1f67a6" stroke="#1a1a1a" stroke-width="0.50"/>
<circle cx="95.00" cy="699.60" r="2.00" fill="#1f67a6" stroke="#1a1a1a" stroke-width="0.50"/>
<circle cx="96.20" cy="702.60" r="2.00" fill="#1f67a6" stroke="#1a1a1a" stroke-width="0.50"/>
<circle cx="96.20" cy="707.60" r="2.00" fill="#1f67a6" stroke="#1a1a1a" stroke-width="0.50"/>
<circle cx="94.80" cy="709.70" r="2.00" fill="#1f67a6" stroke="#1a1a1a" stroke-width="0.50"/>
<circle cx="97.10" cy="713.40" r="2.00" fill="#1f67a6" stroke="#1a1a1a" stroke-width="0.50"/>
<circle cx="101.80" cy="712.50" r="2.00" fill="#1f67a6" stroke="#1a1a1a" stroke-width="0.50"/>
<circle cx="92.50" cy="716.90" r="2.00" fill="#1f67a6" stroke="#1a1a1a" stroke-width="0.50"/>
<circle cx="93.90" cy="716.90" r="2.00" fill="#1f67a6" stroke="#1a1a1a" stroke-width="0.50"/>
<circle cx="98.80" cy="716.00" r="2.00" fill="#1f67a6" stroke="#1a1a1a" stroke-width="0.50"/>
<circle cx="103.80" cy="714.60" r="2.00" fill="#1f67a6" stroke="#1a1a1a" stroke-width="0.50"/>
<circle cx="105.00" cy="716.90" r="2.00" fill="#1f67a6" stroke="#1a1a1a" stroke-width="0.50"/>
<circle cx="107.30" cy="715.10" r="2.00" fill="#1f67a6" stroke="#1a1a1a" stroke-width="0.50"/>
<circle cx="107.90" cy="716.90" r="2.00" fill="#1f67a6" stroke="#1a1a1a" stroke-width="0.50"/>
<circle cx="110.80" cy="712.80" r="2.00" fill="#1f67a6" stroke="#1a1a1a" stroke-width="0.50"/>
<circle cx="112.60" cy="715.10" r="2.00" fill="#1f67a6" stroke="#1a1a1a" stroke-width="0.50"/>
<circle cx="111.40" cy="717.10" r="2.00" fill="#1f67a6" stroke="#1a1a1a" stroke-width="0.50"/>
<circle cx="106.10" cy="717.50" r="2.00" fill="#1f67a6" stroke="#1a1a1a" stroke-width="0.50"/>
<circle cx="102.00" cy="714.00" r="2.00" fill="#1f67a6" stroke="#1a1a1a" stroke-width="0.50"/>
<circle cx="109.00" cy="716.00" r="2.00" fill="#1f67a6" stroke="#1a1a1a" stroke-width="0.50"/>
<circle cx="174.70" cy="596.40" r="2.00" fill="#ef7d1e" stroke="#1a1a1a" stroke-width="0.50"/>
<circle cx="193.90" cy="623.00" r="2.00" fill="#ef7d1e" stroke="#1a1a1a" stroke-width="0.50"/>
<circle cx="190.10" cy="639.20" r="2.00" fill="#ef7d1e" stroke="#1a1a1a" stroke-width="0.50"/>
<circle cx="191.70" cy="657.40" r="2.00" fill="#ef7d1e" stroke="#1a1a1a" stroke-width="0.50"/>
<circle cx="175.90" cy="660.00" r="2.00" fill="#ef7d1e" stroke="#1a1a1a" stroke-width="0.50"/>
<circle cx="174.40" cy="662.50" r="2.00" fill="#ef7d1e" stroke="#1a1a1a" stroke-width="0.50"/>
<circle cx="188.40" cy="667.70" r="2.00" fill="#ef7d1e" stroke="#1a1a1a" stroke-width="0.50"/>
<circle cx="180.90" cy="679.80" r="2.00" fill="#ef7d1e" stroke="#1a1a1a" stroke-width="0.50"/>
<circle cx="190.90" cy="681.40" r="2.00" fill="#ef7d1e" stroke="#1a1a1a" stroke-width="0.50"/>
<circle cx="194.20" cy="681.10" r="2.00" fill="#ef7d1e" stroke="#1a1a1a" stroke-width="0.50"/>
<circle cx="179.60" cy="684.40" r="2.00" fill="#ef7d1e" stroke="#1a1a1a" stroke-width="0.50"/>
<circle cx="182.80" cy="685.10" r="2.00" fill="#ef7d1e" stroke="#1a1a1a" stroke-width="0.50"/>
<circle cx="190.90" cy="686.70" r="2.00" fill="#ef7d1e" stroke="#1a1a1a" stroke-width="0.50"/>
<circle cx="193.10" cy="685.50" r="2.00" fill="#ef7d1e" stroke="#1a1a1a" stroke-width="0.50"/>
<circle cx="172.50" cy="691.80" r="2.00" fill="#ef7d1e" stroke="#1a1a1a" stroke-width="0.50"/>
<circle cx="183.70" cy="691.70" r="2.00" fill="#ef7d1e" stroke="#1a1a1a" stroke-width="0.50"/>
<circle cx="182.50" cy="694.00" r="2.00" fill="#ef7d1e" stroke="#1a1a1a" stroke-width="0.50"/>
<circle cx="175.80" cy="696.70" r="2.00" fill="#ef7d1e" stroke="#1a1a1a" stroke-width="0.50"/>
<circle cx="172.00" cy="698.00" r="2.00" fill="#ef7d1e" stroke="#1a1a1a" stroke-width="0.50"/>
<circle cx="191.60" cy="698.00" r="2.00" fill="#ef7d1e" stroke="#1a1a1a" stroke-width="0.50"/>
<circle cx="185.40" cy="699.00" r="2.00" fill="#ef7d1e" stroke="#1a1a1a" stroke-width="0.50"/>
<circle cx="181.50" cy="699.50" r="2.00" fill="#ef7d1e" stroke="#1a1a1a" stroke-width="0.50"/>
<circle cx="187.62" cy="715.56" r="2.00" fill="#ef7d1e" stroke="#1a1a1a" stroke-width="0.50"/>
<circle cx="181.94" cy="707.47" r="2.00" fill="#ef7d1e" stroke="#1a1a1a" stroke-width="0.50"/>
<circle cx="190.40" cy="714.89" r="2.00" fill="#ef7d1e" stroke="#1a1a1a" stroke-width="0.50"/>
<circle cx="182.84" cy="703.65" r="2.00" fill="#ef7d1e" stroke="#1a1a1a" stroke-width="0.50"/>
<circle cx="175.37" cy="710.08" r="2.00" fill="#ef7d1e" stroke="#1a1a1a" stroke-width="0.50"/>
<circle cx="179.02" cy="716.99" r="2.00" fill="#ef7d1e" stroke="#1a1a1a" stroke-width="0.50"/>
<circle cx="170.87" cy="708.50" r="2.00" fill="#ef7d1e" stroke="#1a1a1a" stroke-width="0.50"/>
<circle cx="175.27" cy="703.97" r="2.00" fill="#ef7d1e" stroke="#1a1a1a" stroke-width="0.50"/>
<circle cx="170.14" cy="714.66" r="2.00" fill="#ef7d1e" stroke="#1a1a1a" stroke-width="0.50"/>
<circle cx="188.94" cy="699.06" r="2.00" fill="#ef7d1e" stroke="#1a1a1a" stroke-width="0.50"/>
<circle cx="185.63" cy="702.07" r="2.00" fill="#ef7d1e" stroke="#1a1a1a" stroke-width="0.50"/>
<circle cx="177.88" cy="716.84" r="2.00" fill="#ef7d1e" stroke="#1a1a1a" stroke-width="0.50"/>
<circle cx="172.13" cy="710.23" r="2.00" fill="#ef7d1e" stroke="#1a1a1a" stroke-width="0.50"/>
<circle cx="178.95" cy="700.20" r="2.00" fill="#ef7d1e" stroke="#1a1a1a" stroke-width="0.50"/>
<circle cx="191.07" cy="715.68" r="2.00" fill="#ef7d1e" stroke="#1a1a1a" stroke-width="0.50"/>
<circle cx="194.05" cy="716.02" r="2.00" fill="#ef7d1e" stroke="#1a1a1a" stroke-width="0.50"/>
<circle cx="183.90" cy="711.06" r="2.00" fill="#ef7d1e" stroke="#1a1a1a" stroke-width="0.50"/>
<circle cx="182.09" cy="712.98" r="2.00" fill="#ef7d1e" stroke="#1a1a1a" stroke-width="0.50"/>
<circle cx="170.00" cy="715.28" r="2.00" fill="#ef7d1e" stroke="#1a1a1a" stroke-width="0.50"/>
<circle cx="175.34" cy="702.29" r="2.00" fill="#ef7d1e" stroke="#1a1a1a" stroke-width="0.50"/>
<circle cx="174.63" cy="704.28" r="2.00" fill="#ef7d1e" stroke="#1a1a1a" stroke-width="0.50"/>
<circle cx="193.14" cy="699.78" r="2.00" fill="#ef7d1e" stroke="#1a1a1a" stroke-width="0.50"/>
<circle cx="189.60" cy="704.86" r="2.00" fill="#ef7d1e" stroke="#1a1a1a" stroke-width="0.50"/>
<circle cx="188.70" cy="708.59" r="2.00" fill="#ef7d1e" stroke="#1a1a1a" stroke-width="0.50"/>
<circle cx="181.86" cy="716.05" r="2.00" fill="#ef7d1e" stroke="#1a1a1a" stroke-width="0.50"/>
<circle cx="174.43" cy="703.20" r="2.00" fill="#ef7d1e" stroke="#1a1a1a" stroke-width="0.50"/>
<circle cx="192.96" cy="700.91" r="2.00" fill="#ef7d1e" stroke="#1a1a1a" stroke-width="0.50"/>
<circle cx="178.86" cy="711.84" r="2.00" fill="#ef7d1e" stroke="#1a1a1a" stroke-width="0.50"/>
<circle cx="179.42" cy="711.09" r="2.00" fill="#ef7d1e" stroke="#1a1a1a" stroke-width="0.50"/>
<circle cx="179.44" cy="699.13" r="2.00" fill="#ef7d1e" stroke="#1a1a1a" stroke-width="0.50"/>
<circle cx="171.52" cy="716.89" r="2.00" fill="#ef7d1e" stroke="#1a1a1a" stroke-width="0.50"/>
<circle cx="195.81" cy="705.68" r="2.00" fill="#ef7d1e" stroke="#1a1a1a" stroke-width="0.50"/>
<circle cx="182.27" cy="710.26" r="2.00" fill="#ef7d1e" stroke="#1a1a1a" stroke-width="0.50"/>
<circle cx="189.20" cy="709.20" r="2.00" fill="#ef7d1e" stroke="#1a1a1a" stroke-width="0.50"/>
<circle cx="185.44" cy="714.81" r="2.00" fill="#ef7d1e" stroke="#1a1a1a" stroke-width="0.50"/>
<circle cx="185.81" cy="709.08" r="2.00" fill="#ef7d1e" stroke="#1a1a1a" stroke-width="0.50"/>
<circle cx="173.59" cy="715.36" r="2.00" fill="#ef7d1e" stroke="#1a1a1a" stroke-width="0.50"/>
<circle cx="194.03" cy="712.89" r="2.00" fill="#ef7d1e" stroke="#1a1a1a" stroke-width="0.50"/>
<circle cx="185.13" cy="712.92" r="2.00" fill="#ef7d1e" stroke="#1a1a1a" stroke-width="0.50"/>
<circle cx="171.79" cy="713.56" r="2.00" fill="#ef7d1e" stroke="#1a1a1a" stroke-width="0.50"/>
<circle cx="190.97" cy="716.60" r="2.00" fill="#ef7d1e" stroke="#1a1a1a" stroke-width="0.50"/>
<circle cx="179.12" cy="704.36" r="2.00" fill="#ef7d1e" stroke="#1a1a1a" stroke-width="0.50"/>
<circle cx="187.25" cy="706.44" r="2.00" fill="#ef7d1e" stroke="#1a1a1a" stroke-width="0.50"/>
<circle cx="194.87" cy="701.50" r="2.00" fill="#ef7d1e" stroke="#1a1a1a" stroke-width="0.50"/>
<circle cx="195.71" cy="711.89" r="2.00" fill="#ef7d1e" stroke="#1a1a1a" stroke-width="0.50"/>
<circle cx="184.94" cy="699.96" r="2.00" fill="#ef7d1e" stroke="#1a1a1a" stroke-width="0.50"/>
<circle cx="182.25" cy="701.87" r="2.00" fill="#ef7d1e" stroke="#1a1a1a" stroke-width="0.50"/>
<circle cx="175.67" cy="712.43" r="2.00" fill="#ef7d1e" stroke="#1a1a1a" stroke-width="0.50"/>
<circle cx="173.38" cy="702.04" r="2.00" fill="#ef7d1e" stroke="#1a1a1a" stroke-width="0.50"/>
<circle cx="190.74" cy="716.57" r="2.00" fill="#ef7d1e" stroke="#1a1a1a" stroke-width="0.50"/>
<circle cx="182.05" cy="704.43" r="2.00" fill="#ef7d1e" stroke="#1a1a1a" stroke-width="0.50"/>
<text x="100.70" y="738.74" font-size="9.00" text-anchor="middle" fill="#161616" stroke="#161616" stroke-width="0.12" >N</text>
<text x="182.20" y="738.74" font-size="9.00" text-anchor="middle" fill="#161616" stroke="#161616" stroke-width="0.12" >P</text>
<text x="100.70" y="750.14" font-size="9.00" text-anchor="middle" fill="#161616" stroke="#161616" stroke-width="0.12" >(<tspan font-style="italic">n</tspan> = 24)</text>
<text x="182.20" y="750.14" font-size="9.00" text-anchor="middle" fill="#161616" stroke="#161616" stroke-width="0.12" >(<tspan font-style="italic">n</tspan> = 73)</text>
<rect x="271.30" y="556.80" width="179.40" height="167.80" stroke="#686868" stroke-width="0.90" fill="none"/>
<line x1="268.80" y1="716.90" x2="271.30" y2="716.90" stroke="#686868" stroke-width="0.90" />
<text x="262.00" y="720.21" font-size="9.20" text-anchor="end" fill="#161616" stroke="#161616" stroke-width="0.12" >0</text>
<line x1="268.80" y1="662.40" x2="271.30" y2="662.40" stroke="#686868" stroke-width="0.90" />
<text x="262.00" y="665.71" font-size="9.20" text-anchor="end" fill="#161616" stroke="#161616" stroke-width="0.12" >10</text>
<line x1="268.80" y1="607.90" x2="271.30" y2="607.90" stroke="#686868" stroke-width="0.90" />
<text x="262.00" y="611.21" font-size="9.20" text-anchor="end" fill="#161616" stroke="#161616" stroke-width="0.12" >20</text>
<text x="243.50" y="643.83" font-size="9.25" text-anchor="middle" fill="#161616" stroke="#161616" stroke-width="0.12" transform="rotate(-90 243.50 640.50)" >Intratumoural CD8 density (% pixels)</text>
<text x="361.50" y="572.58" font-size="9.40" text-anchor="middle" fill="#161616" stroke="#161616" stroke-width="0.12" ><tspan font-style="italic">P</tspan> = 0.02, AME = 1.6%</text>
<polyline fill="none" stroke="#777" stroke-width="0.90" stroke-linejoin="round" points="320.70,580.50 320.70,576.90 403.00,576.90 403.00,580.50" />
<line x1="320.70" y1="680.30" x2="320.70" y2="700.50" stroke="#999" stroke-width="0.90" />
<rect x="289.80" y="700.50" width="61.10" height="14.70" stroke="#9a9a9a" stroke-width="0.90" fill="none"/>
<line x1="289.80" y1="711.50" x2="350.90" y2="711.50" stroke="#2a2a2a" stroke-width="1.10" />
<line x1="403.00" y1="661.00" x2="403.00" y2="690.70" stroke="#999" stroke-width="0.90" />
<rect x="371.10" y="690.70" width="61.10" height="21.20" stroke="#9a9a9a" stroke-width="0.90" fill="none"/>
<line x1="371.10" y1="705.50" x2="432.20" y2="705.50" stroke="#2a2a2a" stroke-width="1.10" />
<circle cx="330.20" cy="650.30" r="1.90" fill="#1f67a6" stroke="#1a1a1a" stroke-width="0.50"/>
<circle cx="327.70" cy="654.70" r="1.90" fill="#1f67a6" stroke="#1a1a1a" stroke-width="0.50"/>
<circle cx="316.20" cy="669.70" r="1.90" fill="#1f67a6" stroke="#1a1a1a" stroke-width="0.50"/>
<circle cx="318.80" cy="671.80" r="1.90" fill="#1f67a6" stroke="#1a1a1a" stroke-width="0.50"/>
<circle cx="327.90" cy="669.00" r="1.90" fill="#1f67a6" stroke="#1a1a1a" stroke-width="0.50"/>
<circle cx="315.00" cy="680.20" r="1.90" fill="#1f67a6" stroke="#1a1a1a" stroke-width="0.50"/>
<circle cx="309.20" cy="701.70" r="1.90" fill="#1f67a6" stroke="#1a1a1a" stroke-width="0.50"/>
<circle cx="327.90" cy="700.30" r="1.90" fill="#1f67a6" stroke="#1a1a1a" stroke-width="0.50"/>
<circle cx="320.20" cy="704.90" r="1.90" fill="#1f67a6" stroke="#1a1a1a" stroke-width="0.50"/>
<circle cx="331.40" cy="706.30" r="1.90" fill="#1f67a6" stroke="#1a1a1a" stroke-width="0.50"/>
<circle cx="331.40" cy="709.10" r="1.90" fill="#1f67a6" stroke="#1a1a1a" stroke-width="0.50"/>
<circle cx="321.60" cy="709.10" r="1.90" fill="#1f67a6" stroke="#1a1a1a" stroke-width="0.50"/>
<circle cx="320.90" cy="711.90" r="1.90" fill="#1f67a6" stroke="#1a1a1a" stroke-width="0.50"/>
<circle cx="325.50" cy="713.10" r="1.90" fill="#1f67a6" stroke="#1a1a1a" stroke-width="0.50"/>
<circle cx="327.90" cy="714.50" r="1.90" fill="#1f67a6" stroke="#1a1a1a" stroke-width="0.50"/>
<circle cx="331.40" cy="716.10" r="1.90" fill="#1f67a6" stroke="#1a1a1a" stroke-width="0.50"/>
<circle cx="309.20" cy="716.10" r="1.90" fill="#1f67a6" stroke="#1a1a1a" stroke-width="0.50"/>
<circle cx="311.50" cy="715.70" r="1.90" fill="#1f67a6" stroke="#1a1a1a" stroke-width="0.50"/>
<circle cx="315.50" cy="716.10" r="1.90" fill="#1f67a6" stroke="#1a1a1a" stroke-width="0.50"/>
<circle cx="322.50" cy="716.80" r="1.90" fill="#1f67a6" stroke="#1a1a1a" stroke-width="0.50"/>
<circle cx="329.00" cy="715.50" r="1.90" fill="#1f67a6" stroke="#1a1a1a" stroke-width="0.50"/>
<circle cx="408.00" cy="599.80" r="1.90" fill="#ef7d1e" stroke="#1a1a1a" stroke-width="0.50"/>
<circle cx="401.00" cy="630.90" r="1.90" fill="#ef7d1e" stroke="#1a1a1a" stroke-width="0.50"/>
<circle cx="408.50" cy="631.60" r="1.90" fill="#ef7d1e" stroke="#1a1a1a" stroke-width="0.50"/>
<circle cx="390.50" cy="633.90" r="1.90" fill="#ef7d1e" stroke="#1a1a1a" stroke-width="0.50"/>
<circle cx="396.30" cy="637.40" r="1.90" fill="#ef7d1e" stroke="#1a1a1a" stroke-width="0.50"/>
<circle cx="389.80" cy="657.70" r="1.90" fill="#ef7d1e" stroke="#1a1a1a" stroke-width="0.50"/>
<circle cx="403.80" cy="660.50" r="1.90" fill="#ef7d1e" stroke="#1a1a1a" stroke-width="0.50"/>
<circle cx="391.00" cy="666.40" r="1.90" fill="#ef7d1e" stroke="#1a1a1a" stroke-width="0.50"/>
<circle cx="395.20" cy="668.30" r="1.90" fill="#ef7d1e" stroke="#1a1a1a" stroke-width="0.50"/>
<circle cx="402.20" cy="667.10" r="1.90" fill="#ef7d1e" stroke="#1a1a1a" stroke-width="0.50"/>
<circle cx="405.00" cy="675.30" r="1.90" fill="#ef7d1e" stroke="#1a1a1a" stroke-width="0.50"/>
<circle cx="409.20" cy="676.00" r="1.90" fill="#ef7d1e" stroke="#1a1a1a" stroke-width="0.50"/>
<circle cx="394.00" cy="677.60" r="1.90" fill="#ef7d1e" stroke="#1a1a1a" stroke-width="0.50"/>
<circle cx="406.10" cy="680.60" r="1.90" fill="#ef7d1e" stroke="#1a1a1a" stroke-width="0.50"/>
<circle cx="394.00" cy="684.10" r="1.90" fill="#ef7d1e" stroke="#1a1a1a" stroke-width="0.50"/>
<circle cx="408.50" cy="685.80" r="1.90" fill="#ef7d1e" stroke="#1a1a1a" stroke-width="0.50"/>
<circle cx="395.60" cy="687.60" r="1.90" fill="#ef7d1e" stroke="#1a1a1a" stroke-width="0.50"/>
<circle cx="399.10" cy="690.90" r="1.90" fill="#ef7d1e" stroke="#1a1a1a" stroke-width="0.50"/>
<circle cx="394.50" cy="692.10" r="1.90" fill="#ef7d1e" stroke="#1a1a1a" stroke-width="0.50"/>
<circle cx="409.60" cy="694.00" r="1.90" fill="#ef7d1e" stroke="#1a1a1a" stroke-width="0.50"/>
<circle cx="398.00" cy="696.30" r="1.90" fill="#ef7d1e" stroke="#1a1a1a" stroke-width="0.50"/>
<circle cx="390.00" cy="701.13" r="1.90" fill="#ef7d1e" stroke="#1a1a1a" stroke-width="0.50"/>
<circle cx="396.40" cy="713.56" r="1.90" fill="#ef7d1e" stroke="#1a1a1a" stroke-width="0.50"/>
<circle cx="393.19" cy="710.53" r="1.90" fill="#ef7d1e" stroke="#1a1a1a" stroke-width="0.50"/>
<circle cx="397.69" cy="716.38" r="1.90" fill="#ef7d1e" stroke="#1a1a1a" stroke-width="0.50"/>
<circle cx="415.05" cy="699.58" r="1.90" fill="#ef7d1e" stroke="#1a1a1a" stroke-width="0.50"/>
<circle cx="401.48" cy="703.34" r="1.90" fill="#ef7d1e" stroke="#1a1a1a" stroke-width="0.50"/>
<circle cx="414.39" cy="713.66" r="1.90" fill="#ef7d1e" stroke="#1a1a1a" stroke-width="0.50"/>
<circle cx="408.20" cy="708.33" r="1.90" fill="#ef7d1e" stroke="#1a1a1a" stroke-width="0.50"/>
<circle cx="394.31" cy="716.81" r="1.90" fill="#ef7d1e" stroke="#1a1a1a" stroke-width="0.50"/>
<circle cx="409.99" cy="701.10" r="1.90" fill="#ef7d1e" stroke="#1a1a1a" stroke-width="0.50"/>
<circle cx="404.78" cy="700.03" r="1.90" fill="#ef7d1e" stroke="#1a1a1a" stroke-width="0.50"/>
<circle cx="404.23" cy="710.40" r="1.90" fill="#ef7d1e" stroke="#1a1a1a" stroke-width="0.50"/>
<circle cx="396.88" cy="700.83" r="1.90" fill="#ef7d1e" stroke="#1a1a1a" stroke-width="0.50"/>
<circle cx="396.02" cy="708.15" r="1.90" fill="#ef7d1e" stroke="#1a1a1a" stroke-width="0.50"/>
<circle cx="388.88" cy="702.80" r="1.90" fill="#ef7d1e" stroke="#1a1a1a" stroke-width="0.50"/>
<circle cx="414.26" cy="704.76" r="1.90" fill="#ef7d1e" stroke="#1a1a1a" stroke-width="0.50"/>
<circle cx="404.57" cy="716.85" r="1.90" fill="#ef7d1e" stroke="#1a1a1a" stroke-width="0.50"/>
<circle cx="411.51" cy="705.72" r="1.90" fill="#ef7d1e" stroke="#1a1a1a" stroke-width="0.50"/>
<circle cx="395.52" cy="707.05" r="1.90" fill="#ef7d1e" stroke="#1a1a1a" stroke-width="0.50"/>
<circle cx="414.39" cy="710.81" r="1.90" fill="#ef7d1e" stroke="#1a1a1a" stroke-width="0.50"/>
<circle cx="392.19" cy="699.42" r="1.90" fill="#ef7d1e" stroke="#1a1a1a" stroke-width="0.50"/>
<circle cx="391.13" cy="716.06" r="1.90" fill="#ef7d1e" stroke="#1a1a1a" stroke-width="0.50"/>
<circle cx="400.62" cy="716.83" r="1.90" fill="#ef7d1e" stroke="#1a1a1a" stroke-width="0.50"/>
<circle cx="411.93" cy="715.44" r="1.90" fill="#ef7d1e" stroke="#1a1a1a" stroke-width="0.50"/>
<circle cx="392.00" cy="705.45" r="1.90" fill="#ef7d1e" stroke="#1a1a1a" stroke-width="0.50"/>
<circle cx="397.32" cy="708.05" r="1.90" fill="#ef7d1e" stroke="#1a1a1a" stroke-width="0.50"/>
<circle cx="394.51" cy="709.01" r="1.90" fill="#ef7d1e" stroke="#1a1a1a" stroke-width="0.50"/>
<circle cx="393.55" cy="715.06" r="1.90" fill="#ef7d1e" stroke="#1a1a1a" stroke-width="0.50"/>
<circle cx="407.70" cy="711.36" r="1.90" fill="#ef7d1e" stroke="#1a1a1a" stroke-width="0.50"/>
<circle cx="389.84" cy="707.81" r="1.90" fill="#ef7d1e" stroke="#1a1a1a" stroke-width="0.50"/>
<circle cx="412.11" cy="704.17" r="1.90" fill="#ef7d1e" stroke="#1a1a1a" stroke-width="0.50"/>
<circle cx="409.87" cy="702.66" r="1.90" fill="#ef7d1e" stroke="#1a1a1a" stroke-width="0.50"/>
<circle cx="401.08" cy="716.96" r="1.90" fill="#ef7d1e" stroke="#1a1a1a" stroke-width="0.50"/>
<circle cx="409.15" cy="716.44" r="1.90" fill="#ef7d1e" stroke="#1a1a1a" stroke-width="0.50"/>
<circle cx="407.74" cy="714.92" r="1.90" fill="#ef7d1e" stroke="#1a1a1a" stroke-width="0.50"/>
<circle cx="407.34" cy="713.65" r="1.90" fill="#ef7d1e" stroke="#1a1a1a" stroke-width="0.50"/>
<circle cx="389.73" cy="712.57" r="1.90" fill="#ef7d1e" stroke="#1a1a1a" stroke-width="0.50"/>
<circle cx="396.92" cy="711.14" r="1.90" fill="#ef7d1e" stroke="#1a1a1a" stroke-width="0.50"/>
<circle cx="396.54" cy="699.54" r="1.90" fill="#ef7d1e" stroke="#1a1a1a" stroke-width="0.50"/>
<circle cx="403.38" cy="708.81" r="1.90" fill="#ef7d1e" stroke="#1a1a1a" stroke-width="0.50"/>
<circle cx="391.25" cy="698.34" r="1.90" fill="#ef7d1e" stroke="#1a1a1a" stroke-width="0.50"/>
<circle cx="402.27" cy="706.68" r="1.90" fill="#ef7d1e" stroke="#1a1a1a" stroke-width="0.50"/>
<circle cx="414.62" cy="703.61" r="1.90" fill="#ef7d1e" stroke="#1a1a1a" stroke-width="0.50"/>
<circle cx="407.42" cy="712.63" r="1.90" fill="#ef7d1e" stroke="#1a1a1a" stroke-width="0.50"/>
<circle cx="403.68" cy="708.33" r="1.90" fill="#ef7d1e" stroke="#1a1a1a" stroke-width="0.50"/>
<circle cx="410.52" cy="716.44" r="1.90" fill="#ef7d1e" stroke="#1a1a1a" stroke-width="0.50"/>
<circle cx="398.16" cy="697.60" r="1.90" fill="#ef7d1e" stroke="#1a1a1a" stroke-width="0.50"/>
<circle cx="415.32" cy="712.49" r="1.90" fill="#ef7d1e" stroke="#1a1a1a" stroke-width="0.50"/>
<circle cx="390.65" cy="715.90" r="1.90" fill="#ef7d1e" stroke="#1a1a1a" stroke-width="0.50"/>
<circle cx="410.51" cy="716.33" r="1.90" fill="#ef7d1e" stroke="#1a1a1a" stroke-width="0.50"/>
<circle cx="400.65" cy="703.00" r="1.90" fill="#ef7d1e" stroke="#1a1a1a" stroke-width="0.50"/>
<circle cx="389.13" cy="706.23" r="1.90" fill="#ef7d1e" stroke="#1a1a1a" stroke-width="0.50"/>
<text x="320.70" y="738.64" font-size="9.00" text-anchor="middle" fill="#161616" stroke="#161616" stroke-width="0.12" >N</text>
<text x="403.00" y="738.64" font-size="9.00" text-anchor="middle" fill="#161616" stroke="#161616" stroke-width="0.12" >P</text>
<text x="320.70" y="750.04" font-size="9.00" text-anchor="middle" fill="#161616" stroke="#161616" stroke-width="0.12" >(<tspan font-style="italic">n</tspan> = 24)</text>
<text x="403.00" y="750.04" font-size="9.00" text-anchor="middle" fill="#161616" stroke="#161616" stroke-width="0.12" >(<tspan font-style="italic">n</tspan> = 73)</text>
<rect x="491.90" y="556.80" width="178.30" height="167.80" stroke="#686868" stroke-width="0.90" fill="none"/>
<line x1="489.40" y1="716.90" x2="491.90" y2="716.90" stroke="#686868" stroke-width="0.90" />
<text x="484.50" y="720.21" font-size="9.20" text-anchor="end" fill="#161616" stroke="#161616" stroke-width="0.12" >0</text>
<line x1="489.40" y1="662.40" x2="491.90" y2="662.40" stroke="#686868" stroke-width="0.90" />
<text x="484.50" y="665.71" font-size="9.20" text-anchor="end" fill="#161616" stroke="#161616" stroke-width="0.12" >10</text>
<line x1="489.40" y1="607.90" x2="491.90" y2="607.90" stroke="#686868" stroke-width="0.90" />
<text x="484.50" y="611.21" font-size="9.20" text-anchor="end" fill="#161616" stroke="#161616" stroke-width="0.12" >20</text>
<text x="463.40" y="643.83" font-size="9.25" text-anchor="middle" fill="#161616" stroke="#161616" stroke-width="0.12" transform="rotate(-90 463.40 640.50)" >Intratumoural CD8 density (% pixels)</text>
<text x="580.30" y="576.28" font-size="9.40" text-anchor="middle" fill="#161616" stroke="#161616" stroke-width="0.12" ><tspan font-style="italic">P</tspan> = 0.004, AME = 2.9%</text>
<polyline fill="none" stroke="#777" stroke-width="0.90" stroke-linejoin="round" points="524.50,584.30 524.50,579.90 636.70,579.90 636.70,584.30" />
<text x="552.40" y="603.78" font-size="9.40" text-anchor="middle" fill="#161616" stroke="#161616" stroke-width="0.12" ><tspan font-style="italic">P</tspan> = 0.06, AME = 1.2%</text>
<polyline fill="none" stroke="#777" stroke-width="0.90" stroke-linejoin="round" points="524.50,611.50 524.50,607.50 580.90,607.50 580.90,611.50" />
<line x1="524.50" y1="680.30" x2="524.50" y2="700.50" stroke="#999" stroke-width="0.90" />
<rect x="503.70" y="700.50" width="42.00" height="14.70" stroke="#9a9a9a" stroke-width="0.90" fill="none"/>
<line x1="503.70" y1="711.50" x2="545.70" y2="711.50" stroke="#2a2a2a" stroke-width="1.10" />
<line x1="580.90" y1="676.00" x2="580.90" y2="696.40" stroke="#999" stroke-width="0.90" />
<rect x="559.80" y="696.40" width="41.60" height="15.80" stroke="#9a9a9a" stroke-width="0.90" fill="none"/>
<line x1="559.80" y1="705.50" x2="601.40" y2="705.50" stroke="#2a2a2a" stroke-width="1.10" />
<line x1="636.70" y1="637.30" x2="636.70" y2="672.60" stroke="#999" stroke-width="0.90" />
<rect x="615.50" y="672.60" width="42.00" height="36.90" stroke="#9a9a9a" stroke-width="0.90" fill="none"/>
<line x1="615.50" y1="700.50" x2="657.50" y2="700.50" stroke="#2a2a2a" stroke-width="1.10" />
<circle cx="521.70" cy="649.90" r="1.90" fill="#1f67a6" stroke="#1a1a1a" stroke-width="0.50"/>
<circle cx="518.80" cy="654.00" r="1.90" fill="#1f67a6" stroke="#1a1a1a" stroke-width="0.50"/>
<circle cx="519.70" cy="669.70" r="1.90" fill="#1f67a6" stroke="#1a1a1a" stroke-width="0.50"/>
<circle cx="525.80" cy="668.90" r="1.90" fill="#1f67a6" stroke="#1a1a1a" stroke-width="0.50"/>
<circle cx="522.20" cy="671.60" r="1.90" fill="#1f67a6" stroke="#1a1a1a" stroke-width="0.50"/>
<circle cx="522.40" cy="679.80" r="1.90" fill="#1f67a6" stroke="#1a1a1a" stroke-width="0.50"/>
<circle cx="516.40" cy="700.20" r="1.90" fill="#1f67a6" stroke="#1a1a1a" stroke-width="0.50"/>
<circle cx="520.00" cy="701.50" r="1.90" fill="#1f67a6" stroke="#1a1a1a" stroke-width="0.50"/>
<circle cx="524.08" cy="707.44" r="1.90" fill="#1f67a6" stroke="#1a1a1a" stroke-width="0.50"/>
<circle cx="523.23" cy="708.80" r="1.90" fill="#1f67a6" stroke="#1a1a1a" stroke-width="0.50"/>
<circle cx="520.61" cy="710.14" r="1.90" fill="#1f67a6" stroke="#1a1a1a" stroke-width="0.50"/>
<circle cx="523.94" cy="715.43" r="1.90" fill="#1f67a6" stroke="#1a1a1a" stroke-width="0.50"/>
<circle cx="528.27" cy="712.11" r="1.90" fill="#1f67a6" stroke="#1a1a1a" stroke-width="0.50"/>
<circle cx="528.58" cy="705.71" r="1.90" fill="#1f67a6" stroke="#1a1a1a" stroke-width="0.50"/>
<circle cx="520.78" cy="709.50" r="1.90" fill="#1f67a6" stroke="#1a1a1a" stroke-width="0.50"/>
<circle cx="524.79" cy="710.33" r="1.90" fill="#1f67a6" stroke="#1a1a1a" stroke-width="0.50"/>
<circle cx="532.41" cy="707.57" r="1.90" fill="#1f67a6" stroke="#1a1a1a" stroke-width="0.50"/>
<circle cx="524.68" cy="714.68" r="1.90" fill="#1f67a6" stroke="#1a1a1a" stroke-width="0.50"/>
<circle cx="528.47" cy="709.09" r="1.90" fill="#1f67a6" stroke="#1a1a1a" stroke-width="0.50"/>
<circle cx="529.47" cy="705.01" r="1.90" fill="#1f67a6" stroke="#1a1a1a" stroke-width="0.50"/>
<circle cx="529.14" cy="707.63" r="1.90" fill="#1f67a6" stroke="#1a1a1a" stroke-width="0.50"/>
<circle cx="530.74" cy="707.20" r="1.90" fill="#1f67a6" stroke="#1a1a1a" stroke-width="0.50"/>
<circle cx="527.93" cy="706.88" r="1.90" fill="#1f67a6" stroke="#1a1a1a" stroke-width="0.50"/>
<circle cx="531.67" cy="712.14" r="1.90" fill="#1f67a6" stroke="#1a1a1a" stroke-width="0.50"/>
<circle cx="581.20" cy="630.60" r="1.90" fill="#f2a2a2" stroke="#1a1a1a" stroke-width="0.50"/>
<circle cx="584.80" cy="631.60" r="1.90" fill="#f2a2a2" stroke="#1a1a1a" stroke-width="0.50"/>
<circle cx="588.60" cy="634.00" r="1.90" fill="#f2a2a2" stroke="#1a1a1a" stroke-width="0.50"/>
<circle cx="574.70" cy="660.50" r="1.90" fill="#f2a2a2" stroke="#1a1a1a" stroke-width="0.50"/>
<circle cx="579.00" cy="667.30" r="1.90" fill="#f2a2a2" stroke="#1a1a1a" stroke-width="0.50"/>
<circle cx="574.20" cy="675.00" r="1.90" fill="#f2a2a2" stroke="#1a1a1a" stroke-width="0.50"/>
<circle cx="587.90" cy="676.20" r="1.90" fill="#f2a2a2" stroke="#1a1a1a" stroke-width="0.50"/>
<circle cx="586.70" cy="678.80" r="1.90" fill="#f2a2a2" stroke="#1a1a1a" stroke-width="0.50"/>
<circle cx="586.00" cy="680.50" r="1.90" fill="#f2a2a2" stroke="#1a1a1a" stroke-width="0.50"/>
<circle cx="578.30" cy="684.10" r="1.90" fill="#f2a2a2" stroke="#1a1a1a" stroke-width="0.50"/>
<circle cx="581.90" cy="685.80" r="1.90" fill="#f2a2a2" stroke="#1a1a1a" stroke-width="0.50"/>
<circle cx="586.70" cy="691.30" r="1.90" fill="#f2a2a2" stroke="#1a1a1a" stroke-width="0.50"/>
<circle cx="583.10" cy="692.50" r="1.90" fill="#f2a2a2" stroke="#1a1a1a" stroke-width="0.50"/>
<circle cx="583.06" cy="705.79" r="1.90" fill="#f2a2a2" stroke="#1a1a1a" stroke-width="0.50"/>
<circle cx="589.35" cy="696.43" r="1.90" fill="#f2a2a2" stroke="#1a1a1a" stroke-width="0.50"/>
<circle cx="572.11" cy="693.21" r="1.90" fill="#f2a2a2" stroke="#1a1a1a" stroke-width="0.50"/>
<circle cx="577.61" cy="707.53" r="1.90" fill="#f2a2a2" stroke="#1a1a1a" stroke-width="0.50"/>
<circle cx="574.62" cy="705.67" r="1.90" fill="#f2a2a2" stroke="#1a1a1a" stroke-width="0.50"/>
<circle cx="573.43" cy="702.05" r="1.90" fill="#f2a2a2" stroke="#1a1a1a" stroke-width="0.50"/>
<circle cx="588.98" cy="707.78" r="1.90" fill="#f2a2a2" stroke="#1a1a1a" stroke-width="0.50"/>
<circle cx="580.32" cy="698.09" r="1.90" fill="#f2a2a2" stroke="#1a1a1a" stroke-width="0.50"/>
<circle cx="589.21" cy="712.95" r="1.90" fill="#f2a2a2" stroke="#1a1a1a" stroke-width="0.50"/>
<circle cx="575.70" cy="698.88" r="1.90" fill="#f2a2a2" stroke="#1a1a1a" stroke-width="0.50"/>
<circle cx="583.55" cy="706.99" r="1.90" fill="#f2a2a2" stroke="#1a1a1a" stroke-width="0.50"/>
<circle cx="576.70" cy="699.34" r="1.90" fill="#f2a2a2" stroke="#1a1a1a" stroke-width="0.50"/>
<circle cx="577.80" cy="693.94" r="1.90" fill="#f2a2a2" stroke="#1a1a1a" stroke-width="0.50"/>
<circle cx="587.22" cy="708.98" r="1.90" fill="#f2a2a2" stroke="#1a1a1a" stroke-width="0.50"/>
<circle cx="584.26" cy="711.64" r="1.90" fill="#f2a2a2" stroke="#1a1a1a" stroke-width="0.50"/>
<circle cx="582.76" cy="710.38" r="1.90" fill="#f2a2a2" stroke="#1a1a1a" stroke-width="0.50"/>
<circle cx="578.82" cy="708.40" r="1.90" fill="#f2a2a2" stroke="#1a1a1a" stroke-width="0.50"/>
<circle cx="580.41" cy="694.14" r="1.90" fill="#f2a2a2" stroke="#1a1a1a" stroke-width="0.50"/>
<circle cx="583.11" cy="704.63" r="1.90" fill="#f2a2a2" stroke="#1a1a1a" stroke-width="0.50"/>
<circle cx="575.14" cy="708.32" r="1.90" fill="#f2a2a2" stroke="#1a1a1a" stroke-width="0.50"/>
<circle cx="576.90" cy="705.82" r="1.90" fill="#f2a2a2" stroke="#1a1a1a" stroke-width="0.50"/>
<circle cx="589.29" cy="710.68" r="1.90" fill="#f2a2a2" stroke="#1a1a1a" stroke-width="0.50"/>
<circle cx="586.59" cy="715.38" r="1.90" fill="#f2a2a2" stroke="#1a1a1a" stroke-width="0.50"/>
<circle cx="584.68" cy="694.26" r="1.90" fill="#f2a2a2" stroke="#1a1a1a" stroke-width="0.50"/>
<circle cx="581.02" cy="715.99" r="1.90" fill="#f2a2a2" stroke="#1a1a1a" stroke-width="0.50"/>
<circle cx="582.94" cy="715.20" r="1.90" fill="#f2a2a2" stroke="#1a1a1a" stroke-width="0.50"/>
<circle cx="576.32" cy="698.95" r="1.90" fill="#f2a2a2" stroke="#1a1a1a" stroke-width="0.50"/>
<circle cx="581.80" cy="716.52" r="1.90" fill="#f2a2a2" stroke="#1a1a1a" stroke-width="0.50"/>
<circle cx="577.56" cy="713.36" r="1.90" fill="#f2a2a2" stroke="#1a1a1a" stroke-width="0.50"/>
<circle cx="588.10" cy="704.24" r="1.90" fill="#f2a2a2" stroke="#1a1a1a" stroke-width="0.50"/>
<circle cx="574.43" cy="706.17" r="1.90" fill="#f2a2a2" stroke="#1a1a1a" stroke-width="0.50"/>
<circle cx="586.80" cy="697.09" r="1.90" fill="#f2a2a2" stroke="#1a1a1a" stroke-width="0.50"/>
<circle cx="572.88" cy="702.57" r="1.90" fill="#f2a2a2" stroke="#1a1a1a" stroke-width="0.50"/>
<circle cx="579.25" cy="710.71" r="1.90" fill="#f2a2a2" stroke="#1a1a1a" stroke-width="0.50"/>
<circle cx="576.05" cy="702.08" r="1.90" fill="#f2a2a2" stroke="#1a1a1a" stroke-width="0.50"/>
<circle cx="587.18" cy="696.88" r="1.90" fill="#f2a2a2" stroke="#1a1a1a" stroke-width="0.50"/>
<circle cx="587.90" cy="694.45" r="1.90" fill="#f2a2a2" stroke="#1a1a1a" stroke-width="0.50"/>
<circle cx="582.48" cy="716.05" r="1.90" fill="#f2a2a2" stroke="#1a1a1a" stroke-width="0.50"/>
<circle cx="588.19" cy="713.80" r="1.90" fill="#f2a2a2" stroke="#1a1a1a" stroke-width="0.50"/>
<circle cx="585.67" cy="698.00" r="1.90" fill="#f2a2a2" stroke="#1a1a1a" stroke-width="0.50"/>
<circle cx="573.07" cy="710.69" r="1.90" fill="#f2a2a2" stroke="#1a1a1a" stroke-width="0.50"/>
<circle cx="582.92" cy="696.62" r="1.90" fill="#f2a2a2" stroke="#1a1a1a" stroke-width="0.50"/>
<circle cx="580.48" cy="700.62" r="1.90" fill="#f2a2a2" stroke="#1a1a1a" stroke-width="0.50"/>
<circle cx="578.08" cy="696.92" r="1.90" fill="#f2a2a2" stroke="#1a1a1a" stroke-width="0.50"/>
<circle cx="632.00" cy="599.80" r="1.90" fill="#ef7d1e" stroke="#1a1a1a" stroke-width="0.50"/>
<circle cx="630.10" cy="637.10" r="1.90" fill="#ef7d1e" stroke="#1a1a1a" stroke-width="0.50"/>
<circle cx="645.00" cy="657.60" r="1.90" fill="#ef7d1e" stroke="#1a1a1a" stroke-width="0.50"/>
<circle cx="639.70" cy="666.80" r="1.90" fill="#ef7d1e" stroke="#1a1a1a" stroke-width="0.50"/>
<circle cx="639.70" cy="687.70" r="1.90" fill="#ef7d1e" stroke="#1a1a1a" stroke-width="0.50"/>
<circle cx="644.00" cy="693.70" r="1.90" fill="#ef7d1e" stroke="#1a1a1a" stroke-width="0.50"/>
<circle cx="638.00" cy="699.00" r="1.90" fill="#ef7d1e" stroke="#1a1a1a" stroke-width="0.50"/>
<circle cx="632.50" cy="702.20" r="1.90" fill="#ef7d1e" stroke="#1a1a1a" stroke-width="0.50"/>
<circle cx="633.70" cy="706.30" r="1.90" fill="#ef7d1e" stroke="#1a1a1a" stroke-width="0.50"/>
<circle cx="640.40" cy="709.00" r="1.90" fill="#ef7d1e" stroke="#1a1a1a" stroke-width="0.50"/>
<circle cx="634.40" cy="710.10" r="1.90" fill="#ef7d1e" stroke="#1a1a1a" stroke-width="0.50"/>
<circle cx="640.20" cy="713.00" r="1.90" fill="#ef7d1e" stroke="#1a1a1a" stroke-width="0.50"/>
<circle cx="634.90" cy="713.50" r="1.90" fill="#ef7d1e" stroke="#1a1a1a" stroke-width="0.50"/>
<circle cx="639.20" cy="709.90" r="1.90" fill="#ef7d1e" stroke="#1a1a1a" stroke-width="0.50"/>
<text x="524.50" y="738.64" font-size="9.00" text-anchor="middle" fill="#161616" stroke="#161616" stroke-width="0.12" >N</text>
<text x="524.50" y="750.04" font-size="9.00" text-anchor="middle" fill="#161616" stroke="#161616" stroke-width="0.12" >(<tspan font-style="italic">n</tspan> = 24)</text>
<text x="580.90" y="738.64" font-size="9.00" text-anchor="middle" fill="#161616" stroke="#161616" stroke-width="0.12" >P (BF &lt; 6</text>
<text x="580.90" y="750.04" font-size="9.00" text-anchor="middle" fill="#161616" stroke="#161616" stroke-width="0.12" >months)</text>
<text x="580.90" y="761.44" font-size="9.00" text-anchor="middle" fill="#161616" stroke="#161616" stroke-width="0.12" >(<tspan font-style="italic">n</tspan> = 57)</text>
<text x="636.70" y="738.64" font-size="9.00" text-anchor="middle" fill="#161616" stroke="#161616" stroke-width="0.12" >P (BF &gt; 6</text>
<text x="636.70" y="750.04" font-size="9.00" text-anchor="middle" fill="#161616" stroke="#161616" stroke-width="0.12" >months)</text>
<text x="636.70" y="761.44" font-size="9.00" text-anchor="middle" fill="#161616" stroke="#161616" stroke-width="0.12" >(<tspan font-style="italic">n</tspan> = 14)</text>
<rect x="64.10" y="783.20" width="305.60" height="127.80" stroke="#686868" stroke-width="0.90" fill="none"/>
<line x1="61.60" y1="904.80" x2="64.10" y2="904.80" stroke="#686868" stroke-width="0.90" />
<text x="57.30" y="908.04" font-size="9.00" text-anchor="end" fill="#161616" stroke="#161616" stroke-width="0.12" >0</text>
<line x1="61.60" y1="875.82" x2="64.10" y2="875.82" stroke="#686868" stroke-width="0.90" />
<text x="57.30" y="879.06" font-size="9.00" text-anchor="end" fill="#161616" stroke="#161616" stroke-width="0.12" >0.25</text>
<line x1="61.60" y1="846.85" x2="64.10" y2="846.85" stroke="#686868" stroke-width="0.90" />
<text x="57.30" y="850.09" font-size="9.00" text-anchor="end" fill="#161616" stroke="#161616" stroke-width="0.12" >0.50</text>
<line x1="61.60" y1="817.88" x2="64.10" y2="817.88" stroke="#686868" stroke-width="0.90" />
<text x="57.30" y="821.12" font-size="9.00" text-anchor="end" fill="#161616" stroke="#161616" stroke-width="0.12" >0.75</text>
<line x1="61.60" y1="788.90" x2="64.10" y2="788.90" stroke="#686868" stroke-width="0.90" />
<text x="57.30" y="792.14" font-size="9.00" text-anchor="end" fill="#161616" stroke="#161616" stroke-width="0.12" >1.00</text>
<line x1="77.80" y1="911.00" x2="77.80" y2="913.50" stroke="#686868" stroke-width="0.90" />
<text x="77.80" y="924.84" font-size="9.00" text-anchor="middle" fill="#161616" stroke="#161616" stroke-width="0.12" >0</text>
<line x1="170.75" y1="911.00" x2="170.75" y2="913.50" stroke="#686868" stroke-width="0.90" />
<text x="170.75" y="924.84" font-size="9.00" text-anchor="middle" fill="#161616" stroke="#161616" stroke-width="0.12" >5</text>
<line x1="263.70" y1="911.00" x2="263.70" y2="913.50" stroke="#686868" stroke-width="0.90" />
<text x="263.70" y="924.84" font-size="9.00" text-anchor="middle" fill="#161616" stroke="#161616" stroke-width="0.12" >10</text>
<line x1="356.65" y1="911.00" x2="356.65" y2="913.50" stroke="#686868" stroke-width="0.90" />
<text x="356.65" y="924.84" font-size="9.00" text-anchor="middle" fill="#161616" stroke="#161616" stroke-width="0.12" >15</text>
<text x="216.60" y="940.04" font-size="9.00" text-anchor="middle" fill="#161616" stroke="#161616" stroke-width="0.12" >Time (years)</text>
<text x="27.60" y="850.74" font-size="9.00" text-anchor="middle" fill="#161616" stroke="#161616" stroke-width="0.12" transform="rotate(-90 27.60 847.50)" >OS</text>
<polyline fill="none" stroke="#f28a8a" stroke-width="1.50" stroke-linejoin="round" points="77.60,789.50 77.60,793.40 113.90,793.40 113.90,797.30 132.30,797.30 132.30,801.80 139.60,801.80 139.60,806.00 144.60,806.00 144.60,814.40 248.10,814.40 248.10,819.80 259.30,819.80 259.30,825.00 308.70,825.00 308.70,831.30 356.70,831.30" stroke-linejoin="miter"/>
<polyline fill="none" stroke="#c4222e" stroke-width="2.00" stroke-linejoin="round" points="77.60,789.20 81.95,789.20 81.95,789.25 86.30,789.25 86.30,789.30 90.65,789.30 90.65,789.35 95.00,789.35 95.00,789.40 100.00,789.40 100.00,789.60 105.00,789.60 105.00,789.80 110.00,789.80 110.00,790.00 114.33,790.00 114.33,790.43 118.67,790.43 118.67,790.87 123.00,790.87 123.00,791.30 127.00,791.30 127.00,791.87 131.00,791.87 131.00,792.43 135.00,792.43 135.00,793.00 139.50,793.00 139.50,793.85 144.00,793.85 144.00,794.70 150.00,794.70 150.00,795.20 155.00,795.20 155.00,796.10 160.00,796.10 160.00,797.00 165.00,797.00 165.00,797.90 171.00,797.90 171.00,798.50 175.17,798.50 175.17,798.80 179.33,798.80 179.33,799.10 183.50,799.10 183.50,799.40 187.62,799.40 187.62,799.67 191.75,799.67 191.75,799.95 195.88,799.95 195.88,800.23 200.00,800.23 200.00,800.50 204.13,800.50 204.13,800.77 208.27,800.77 208.27,801.03 212.40,801.03 212.40,801.30 216.60,801.30 216.60,801.87 220.80,801.87 220.80,802.43 225.00,802.43 225.00,803.00 229.50,803.00 229.50,804.00 234.00,804.00 234.00,805.00 238.00,805.00 238.00,805.30 242.00,805.30 242.00,805.60 246.00,805.60 246.00,805.90 250.00,805.90 250.00,806.20 255.20,806.20 255.20,806.40 260.40,806.40 260.40,806.60 265.60,806.60 265.60,806.80 270.45,806.80 270.45,807.05 275.30,807.05 275.30,807.30 280.15,807.30 280.15,807.55 285.00,807.55 285.00,807.80 289.75,807.80 289.75,807.97 294.50,807.97 294.50,808.15 299.25,808.15 299.25,808.33 304.00,808.33 304.00,808.50 308.05,808.50 308.05,808.50 312.11,808.50 312.11,808.50 316.16,808.50 316.16,808.50 320.22,808.50 320.22,808.50 324.27,808.50 324.27,808.50 328.32,808.50 328.32,808.50 332.38,808.50 332.38,808.50 336.43,808.50 336.43,808.50 340.48,808.50 340.48,808.50 344.54,808.50 344.54,808.50 348.59,808.50 348.59,808.50 352.65,808.50 352.65,808.50 356.70,808.50 356.70,808.50" stroke-linejoin="miter"/>
<text x="71.50" y="845.48" font-size="9.10" text-anchor="start" fill="#161616" stroke="#161616" stroke-width="0.12" >HR: yes versus no: 0.42 (0.20–0.87)</text>
<text x="69.10" y="857.88" font-size="9.10" text-anchor="start" fill="#161616" stroke="#161616" stroke-width="0.12" ><tspan font-style="italic">P</tspan> = 0.019</text>
<line x1="69.50" y1="860.60" x2="107.00" y2="860.60" stroke="#555" stroke-width="0.80" />
<line x1="119.50" y1="857.20" x2="132.70" y2="857.20" stroke="#c4222e" stroke-width="1.60" />
<text x="138.50" y="860.48" font-size="9.10" text-anchor="start" fill="#161616" stroke="#161616" stroke-width="0.12" >BF = yes</text>
<line x1="183.30" y1="856.90" x2="196.30" y2="856.90" stroke="#f28a8a" stroke-width="1.40" />
<text x="201.50" y="860.18" font-size="9.10" text-anchor="start" fill="#161616" stroke="#161616" stroke-width="0.12" >BF = no</text>
<text x="69.10" y="878.95" font-size="9.30" text-anchor="start" fill="#161616" stroke="#161616" stroke-width="0.12" >Number at risk/events</text>
<line x1="68.30" y1="888.90" x2="76.70" y2="888.90" stroke="#e0402a" stroke-width="1.40" />
<line x1="68.30" y1="900.60" x2="76.70" y2="900.60" stroke="#f28a8a" stroke-width="1.20" />
<text x="80.70" y="892.18" font-size="9.10" text-anchor="start" fill="#161616" stroke="#161616" stroke-width="0.12" >242/0</text>
<text x="80.70" y="903.68" font-size="9.10" text-anchor="start" fill="#161616" stroke="#161616" stroke-width="0.12" >28/1</text>
<text x="158.40" y="892.18" font-size="9.10" text-anchor="start" fill="#161616" stroke="#161616" stroke-width="0.12" >201/18</text>
<text x="158.40" y="903.68" font-size="9.10" text-anchor="start" fill="#161616" stroke="#161616" stroke-width="0.12" >20/6</text>
<text x="251.60" y="892.18" font-size="9.10" text-anchor="start" fill="#161616" stroke="#161616" stroke-width="0.12" >160/33</text>
<text x="251.60" y="903.68" font-size="9.10" text-anchor="start" fill="#161616" stroke="#161616" stroke-width="0.12" >14/8</text>
<text x="334.00" y="892.18" font-size="9.10" text-anchor="start" fill="#161616" stroke="#161616" stroke-width="0.12" >101/36</text>
<text x="334.00" y="903.68" font-size="9.10" text-anchor="start" fill="#161616" stroke="#161616" stroke-width="0.12" >11/9</text>
<rect x="448.90" y="781.40" width="209.00" height="140.50" stroke="#686868" stroke-width="0.90" fill="none"/>
<line x1="446.40" y1="917.40" x2="448.90" y2="917.40" stroke="#686868" stroke-width="0.90" />
<text x="442.50" y="920.64" font-size="9.00" text-anchor="end" fill="#161616" stroke="#161616" stroke-width="0.12" >0</text>
<line x1="446.40" y1="885.02" x2="448.90" y2="885.02" stroke="#686868" stroke-width="0.90" />
<text x="442.50" y="888.26" font-size="9.00" text-anchor="end" fill="#161616" stroke="#161616" stroke-width="0.12" >25</text>
<line x1="446.40" y1="852.65" x2="448.90" y2="852.65" stroke="#686868" stroke-width="0.90" />
<text x="442.50" y="855.89" font-size="9.00" text-anchor="end" fill="#161616" stroke="#161616" stroke-width="0.12" >50</text>
<line x1="446.40" y1="820.27" x2="448.90" y2="820.27" stroke="#686868" stroke-width="0.90" />
<text x="442.50" y="823.51" font-size="9.00" text-anchor="end" fill="#161616" stroke="#161616" stroke-width="0.12" >75</text>
<line x1="446.40" y1="787.90" x2="448.90" y2="787.90" stroke="#686868" stroke-width="0.90" />
<text x="442.50" y="791.14" font-size="9.00" text-anchor="end" fill="#161616" stroke="#161616" stroke-width="0.12" >100</text>
<text x="415.50" y="856.54" font-size="9.00" text-anchor="middle" fill="#161616" stroke="#161616" stroke-width="0.12" transform="rotate(-90 415.50 853.30)" >TILs (%)</text>
<text x="464.50" y="794.80" font-size="8.60" text-anchor="start" fill="#161616" stroke="#161616" stroke-width="0.12" >K-W <tspan font-style="italic">P</tspan> = 0.015</text>
<line x1="482.70" y1="797.50" x2="519.80" y2="797.50" stroke="#444" stroke-width="0.80" />
<line x1="479.30" y1="921.90" x2="479.30" y2="924.40" stroke="#686868" stroke-width="0.90" />
<line x1="530.30" y1="921.90" x2="530.30" y2="924.40" stroke="#686868" stroke-width="0.90" />
<line x1="581.50" y1="921.90" x2="581.50" y2="924.40" stroke="#686868" stroke-width="0.90" />
<line x1="632.90" y1="921.90" x2="632.90" y2="924.40" stroke="#686868" stroke-width="0.90" />
<line x1="479.40" y1="896.40" x2="479.40" y2="916.50" stroke="#f4a0a6" stroke-width="1.30" />
<line x1="469.30" y1="909.30" x2="489.80" y2="909.30" stroke="#f4a0a6" stroke-width="1.40" />
<circle cx="478.40" cy="819.00" r="2.10" fill="#f4a0a6"/>
<circle cx="478.40" cy="882.30" r="2.10" fill="#f4a0a6"/>
<circle cx="477.00" cy="898.00" r="2.10" fill="#f4a0a6"/>
<circle cx="475.50" cy="897.00" r="2.10" fill="#f4a0a6"/>
<circle cx="480.00" cy="896.50" r="2.10" fill="#f4a0a6"/>
<circle cx="482.00" cy="896.00" r="2.10" fill="#f4a0a6"/>
<circle cx="483.00" cy="897.50" r="2.10" fill="#f4a0a6"/>
<circle cx="476.00" cy="907.00" r="2.10" fill="#f4a0a6"/>
<circle cx="481.00" cy="909.00" r="2.10" fill="#f4a0a6"/>
<circle cx="477.50" cy="911.00" r="2.10" fill="#f4a0a6"/>
<circle cx="482.00" cy="912.00" r="2.10" fill="#f4a0a6"/>
<circle cx="479.00" cy="916.00" r="2.10" fill="#f4a0a6"/>
<line x1="530.30" y1="898.00" x2="530.30" y2="917.00" stroke="#f28a2c" stroke-width="1.30" />
<line x1="525.50" y1="898.00" x2="533.50" y2="898.00" stroke="#f28a2c" stroke-width="1.30" />
<line x1="520.20" y1="907.20" x2="540.70" y2="907.20" stroke="#f28a2c" stroke-width="1.40" />
<circle cx="532.90" cy="791.70" r="2.10" fill="#f28a2c"/>
<circle cx="528.40" cy="801.40" r="2.10" fill="#f28a2c"/>
<circle cx="531.10" cy="805.70" r="2.10" fill="#f28a2c"/>
<circle cx="527.60" cy="825.00" r="2.10" fill="#f28a2c"/>
<circle cx="531.60" cy="829.80" r="2.10" fill="#f28a2c"/>
<circle cx="529.50" cy="837.80" r="2.10" fill="#f28a2c"/>
<circle cx="528.40" cy="858.40" r="2.10" fill="#f28a2c"/>
<circle cx="530.80" cy="893.40" r="2.10" fill="#f28a2c"/>
<circle cx="528.83" cy="912.16" r="2.10" fill="#f28a2c"/>
<circle cx="531.02" cy="911.61" r="2.10" fill="#f28a2c"/>
<circle cx="526.57" cy="900.89" r="2.10" fill="#f28a2c"/>
<circle cx="530.09" cy="916.32" r="2.10" fill="#f28a2c"/>
<circle cx="527.52" cy="904.61" r="2.10" fill="#f28a2c"/>
<circle cx="526.47" cy="912.16" r="2.10" fill="#f28a2c"/>
<circle cx="529.96" cy="917.02" r="2.10" fill="#f28a2c"/>
<circle cx="531.23" cy="904.56" r="2.10" fill="#f28a2c"/>
<circle cx="526.83" cy="914.39" r="2.10" fill="#f28a2c"/>
<circle cx="530.31" cy="900.19" r="2.10" fill="#f28a2c"/>
<circle cx="531.53" cy="909.51" r="2.10" fill="#f28a2c"/>
<circle cx="530.20" cy="903.73" r="2.10" fill="#f28a2c"/>
<circle cx="532.62" cy="916.08" r="2.10" fill="#f28a2c"/>
<circle cx="526.32" cy="913.26" r="2.10" fill="#f28a2c"/>
<circle cx="530.26" cy="910.57" r="2.10" fill="#f28a2c"/>
<circle cx="527.39" cy="905.50" r="2.10" fill="#f28a2c"/>
<circle cx="529.95" cy="904.05" r="2.10" fill="#f28a2c"/>
<circle cx="532.81" cy="914.31" r="2.10" fill="#f28a2c"/>
<circle cx="533.25" cy="902.34" r="2.10" fill="#f28a2c"/>
<circle cx="527.74" cy="904.58" r="2.10" fill="#f28a2c"/>
<circle cx="533.22" cy="902.85" r="2.10" fill="#f28a2c"/>
<circle cx="533.27" cy="907.21" r="2.10" fill="#f28a2c"/>
<circle cx="529.12" cy="899.51" r="2.10" fill="#f28a2c"/>
<circle cx="533.49" cy="900.00" r="2.10" fill="#f28a2c"/>
<line x1="581.50" y1="809.70" x2="581.50" y2="908.50" stroke="#e8402c" stroke-width="1.30" />
<line x1="576.70" y1="809.70" x2="586.30" y2="809.70" stroke="#e8402c" stroke-width="1.30" />
<line x1="571.10" y1="879.20" x2="591.90" y2="879.20" stroke="#e8402c" stroke-width="1.40" />
<circle cx="582.60" cy="787.70" r="2.10" fill="#e8402c"/>
<circle cx="582.60" cy="790.00" r="2.10" fill="#e8402c"/>
<circle cx="582.60" cy="795.70" r="2.10" fill="#e8402c"/>
<circle cx="581.50" cy="802.50" r="2.10" fill="#e8402c"/>
<circle cx="583.90" cy="804.10" r="2.10" fill="#e8402c"/>
<circle cx="579.10" cy="809.70" r="2.10" fill="#e8402c"/>
<circle cx="582.00" cy="810.50" r="2.10" fill="#e8402c"/>
<circle cx="584.70" cy="812.10" r="2.10" fill="#e8402c"/>
<circle cx="584.20" cy="835.40" r="2.10" fill="#e8402c"/>
<circle cx="579.40" cy="839.10" r="2.10" fill="#e8402c"/>
<circle cx="585.20" cy="875.10" r="2.10" fill="#e8402c"/>
<circle cx="580.00" cy="878.50" r="2.10" fill="#e8402c"/>
<circle cx="584.20" cy="884.70" r="2.10" fill="#e8402c"/>
<circle cx="581.50" cy="889.00" r="2.10" fill="#e8402c"/>
<circle cx="583.10" cy="892.40" r="2.10" fill="#e8402c"/>
<circle cx="578.00" cy="895.60" r="2.10" fill="#e8402c"/>
<circle cx="578.30" cy="909.30" r="2.10" fill="#e8402c"/>
<circle cx="580.50" cy="910.00" r="2.10" fill="#e8402c"/>
<circle cx="584.50" cy="908.50" r="2.10" fill="#e8402c"/>
<circle cx="578.80" cy="916.50" r="2.10" fill="#e8402c"/>
<circle cx="584.20" cy="917.30" r="2.10" fill="#e8402c"/>
<circle cx="582.00" cy="913.00" r="2.10" fill="#e8402c"/>
<circle cx="580.00" cy="905.00" r="2.10" fill="#e8402c"/>
<line x1="632.90" y1="819.30" x2="632.90" y2="909.00" stroke="#c41f2e" stroke-width="1.30" />
<line x1="627.30" y1="819.30" x2="632.90" y2="819.30" stroke="#c41f2e" stroke-width="1.30" />
<line x1="622.10" y1="877.60" x2="642.50" y2="877.60" stroke="#c41f2e" stroke-width="1.40" />
<circle cx="631.00" cy="788.50" r="2.10" fill="#c41f2e"/>
<circle cx="633.50" cy="789.00" r="2.10" fill="#c41f2e"/>
<circle cx="634.00" cy="791.00" r="2.10" fill="#c41f2e"/>
<circle cx="630.50" cy="795.50" r="2.10" fill="#c41f2e"/>
<circle cx="632.50" cy="794.50" r="2.10" fill="#c41f2e"/>
<circle cx="630.50" cy="803.50" r="2.10" fill="#c41f2e"/>
<circle cx="634.50" cy="803.00" r="2.10" fill="#c41f2e"/>
<circle cx="635.00" cy="808.00" r="2.10" fill="#c41f2e"/>
<circle cx="630.50" cy="812.50" r="2.10" fill="#c41f2e"/>
<circle cx="634.00" cy="811.50" r="2.10" fill="#c41f2e"/>
<circle cx="633.00" cy="817.00" r="2.10" fill="#c41f2e"/>
<circle cx="634.50" cy="822.00" r="2.10" fill="#c41f2e"/>
<circle cx="631.50" cy="823.50" r="2.10" fill="#c41f2e"/>
<circle cx="634.00" cy="830.00" r="2.10" fill="#c41f2e"/>
<circle cx="632.00" cy="832.00" r="2.10" fill="#c41f2e"/>
<circle cx="630.00" cy="834.00" r="2.10" fill="#c41f2e"/>
<circle cx="634.50" cy="835.00" r="2.10" fill="#c41f2e"/>
<circle cx="631.00" cy="838.00" r="2.10" fill="#c41f2e"/>
<circle cx="629.00" cy="849.50" r="2.10" fill="#c41f2e"/>
<circle cx="634.00" cy="857.50" r="2.10" fill="#c41f2e"/>
<circle cx="633.50" cy="860.00" r="2.10" fill="#c41f2e"/>
<circle cx="634.00" cy="878.00" r="2.10" fill="#c41f2e"/>
<circle cx="635.00" cy="886.00" r="2.10" fill="#c41f2e"/>
<circle cx="630.00" cy="895.00" r="2.10" fill="#c41f2e"/>
<circle cx="631.50" cy="898.50" r="2.10" fill="#c41f2e"/>
<circle cx="634.00" cy="901.00" r="2.10" fill="#c41f2e"/>
<circle cx="631.00" cy="902.00" r="2.10" fill="#c41f2e"/>
<circle cx="632.00" cy="892.00" r="2.10" fill="#c41f2e"/>
<circle cx="635.00" cy="895.00" r="2.10" fill="#c41f2e"/>
<circle cx="630.50" cy="897.50" r="2.10" fill="#c41f2e"/>
<circle cx="634.00" cy="900.00" r="2.10" fill="#c41f2e"/>
<circle cx="631.00" cy="901.50" r="2.10" fill="#c41f2e"/>
<circle cx="628.11" cy="906.36" r="2.10" fill="#c41f2e"/>
<circle cx="634.14" cy="911.93" r="2.10" fill="#c41f2e"/>
<circle cx="635.56" cy="908.61" r="2.10" fill="#c41f2e"/>
<circle cx="629.61" cy="908.12" r="2.10" fill="#c41f2e"/>
<circle cx="633.36" cy="904.78" r="2.10" fill="#c41f2e"/>
<circle cx="630.07" cy="905.34" r="2.10" fill="#c41f2e"/>
<circle cx="633.55" cy="904.02" r="2.10" fill="#c41f2e"/>
<circle cx="635.40" cy="906.58" r="2.10" fill="#c41f2e"/>
<circle cx="631.62" cy="905.33" r="2.10" fill="#c41f2e"/>
<circle cx="632.06" cy="916.09" r="2.10" fill="#c41f2e"/>
<circle cx="633.40" cy="914.48" r="2.10" fill="#c41f2e"/>
<circle cx="631.62" cy="906.11" r="2.10" fill="#c41f2e"/>
<circle cx="628.27" cy="915.25" r="2.10" fill="#c41f2e"/>
<circle cx="633.80" cy="910.97" r="2.10" fill="#c41f2e"/>
<circle cx="634.65" cy="917.24" r="2.10" fill="#c41f2e"/>
<circle cx="629.07" cy="913.97" r="2.10" fill="#c41f2e"/>
<circle cx="633.23" cy="904.82" r="2.10" fill="#c41f2e"/>
<circle cx="633.14" cy="905.19" r="2.10" fill="#c41f2e"/>
<circle cx="630.40" cy="915.38" r="2.10" fill="#c41f2e"/>
<circle cx="634.41" cy="910.95" r="2.10" fill="#c41f2e"/>
<circle cx="635.51" cy="906.63" r="2.10" fill="#c41f2e"/>
<circle cx="630.53" cy="908.07" r="2.10" fill="#c41f2e"/>
<circle cx="631.78" cy="910.87" r="2.10" fill="#c41f2e"/>
<circle cx="630.65" cy="910.09" r="2.10" fill="#c41f2e"/>
<circle cx="632.59" cy="909.48" r="2.10" fill="#c41f2e"/>
<circle cx="636.23" cy="917.03" r="2.10" fill="#c41f2e"/>
<circle cx="636.03" cy="908.87" r="2.10" fill="#c41f2e"/>
<circle cx="635.31" cy="907.04" r="2.10" fill="#c41f2e"/>
<circle cx="631.77" cy="904.07" r="2.10" fill="#c41f2e"/>
<circle cx="628.04" cy="911.36" r="2.10" fill="#c41f2e"/>
<g transform="translate(482.80,928.50) rotate(-45)">
<text x="0.00" y="3.24" font-size="9.00" text-anchor="end" fill="#161616" stroke="#161616" stroke-width="0.12" >P (no-BF)</text>
<text x="0.00" y="14.44" font-size="9.00" text-anchor="end" fill="#161616" stroke="#161616" stroke-width="0.12" >(<tspan font-style="italic">n</tspan> = 12)</text>
</g>
<g transform="translate(533.80,928.50) rotate(-45)">
<text x="0.00" y="3.24" font-size="9.00" text-anchor="end" fill="#161616" stroke="#161616" stroke-width="0.12" >P (BF &lt; 6 months)</text>
<text x="0.00" y="14.44" font-size="9.00" text-anchor="end" fill="#161616" stroke="#161616" stroke-width="0.12" >(<tspan font-style="italic">n</tspan> = 32)</text>
</g>
<g transform="translate(585.00,928.50) rotate(-45)">
<text x="0.00" y="3.24" font-size="9.00" text-anchor="end" fill="#161616" stroke="#161616" stroke-width="0.12" >P (BF 6–12 months)</text>
<text x="0.00" y="14.44" font-size="9.00" text-anchor="end" fill="#161616" stroke="#161616" stroke-width="0.12" >(<tspan font-style="italic">n</tspan> = 29)</text>
</g>
<g transform="translate(636.40,928.50) rotate(-45)">
<text x="0.00" y="3.24" font-size="9.00" text-anchor="end" fill="#161616" stroke="#161616" stroke-width="0.12" >P (BF &gt; 6 months)</text>
<text x="0.00" y="14.44" font-size="9.00" text-anchor="end" fill="#161616" stroke="#161616" stroke-width="0.12" >(<tspan font-style="italic">n</tspan> = 63)</text>
</g>
</svg></body></html>
